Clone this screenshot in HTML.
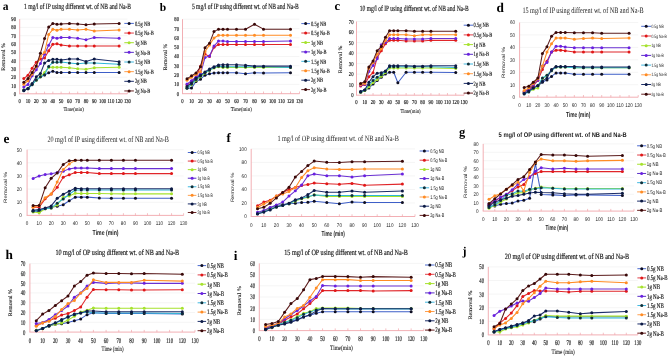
<!DOCTYPE html>
<html><head><meta charset="utf-8"><style>
html,body{margin:0;padding:0;background:#fff;width:669px;height:356px;overflow:hidden}
svg{display:block;will-change:transform}
text{text-rendering:geometricPrecision}
</style></head><body>
<svg width="669" height="356" viewBox="0 0 669 356">
<rect width="669" height="356" fill="#fff"/>
<line x1="19.7" y1="85.5" x2="127.4" y2="85.5" stroke="#F2F2F2" stroke-width="0.8"/>
<line x1="19.7" y1="77.2" x2="127.4" y2="77.2" stroke="#F2F2F2" stroke-width="0.8"/>
<line x1="19.7" y1="68.9" x2="127.4" y2="68.9" stroke="#F2F2F2" stroke-width="0.8"/>
<line x1="19.7" y1="60.6" x2="127.4" y2="60.6" stroke="#F2F2F2" stroke-width="0.8"/>
<line x1="19.7" y1="52.3" x2="127.4" y2="52.3" stroke="#F2F2F2" stroke-width="0.8"/>
<line x1="19.7" y1="44" x2="127.4" y2="44" stroke="#F2F2F2" stroke-width="0.8"/>
<line x1="19.7" y1="35.7" x2="127.4" y2="35.7" stroke="#F2F2F2" stroke-width="0.8"/>
<line x1="19.7" y1="27.4" x2="127.4" y2="27.4" stroke="#F2F2F2" stroke-width="0.8"/>
<line x1="19.7" y1="19.1" x2="127.4" y2="19.1" stroke="#F2F2F2" stroke-width="0.8"/>
<line x1="19.7" y1="19.1" x2="19.7" y2="93.8" stroke="#F0A6AC" stroke-width="0.9"/>
<line x1="19.25" y1="93.8" x2="127.4" y2="93.8" stroke="#F0A6AC" stroke-width="0.9"/>
<line x1="27.98" y1="91.6" x2="27.98" y2="93.8" stroke="#F0A6AC" stroke-width="0.7"/>
<line x1="36.27" y1="91.6" x2="36.27" y2="93.8" stroke="#F0A6AC" stroke-width="0.7"/>
<line x1="44.55" y1="91.6" x2="44.55" y2="93.8" stroke="#F0A6AC" stroke-width="0.7"/>
<line x1="52.84" y1="91.6" x2="52.84" y2="93.8" stroke="#F0A6AC" stroke-width="0.7"/>
<line x1="61.12" y1="91.6" x2="61.12" y2="93.8" stroke="#F0A6AC" stroke-width="0.7"/>
<line x1="69.41" y1="91.6" x2="69.41" y2="93.8" stroke="#F0A6AC" stroke-width="0.7"/>
<line x1="77.69" y1="91.6" x2="77.69" y2="93.8" stroke="#F0A6AC" stroke-width="0.7"/>
<line x1="85.98" y1="91.6" x2="85.98" y2="93.8" stroke="#F0A6AC" stroke-width="0.7"/>
<line x1="94.26" y1="91.6" x2="94.26" y2="93.8" stroke="#F0A6AC" stroke-width="0.7"/>
<line x1="102.55" y1="91.6" x2="102.55" y2="93.8" stroke="#F0A6AC" stroke-width="0.7"/>
<line x1="110.83" y1="91.6" x2="110.83" y2="93.8" stroke="#F0A6AC" stroke-width="0.7"/>
<line x1="119.12" y1="91.6" x2="119.12" y2="93.8" stroke="#F0A6AC" stroke-width="0.7"/>
<line x1="127.4" y1="91.6" x2="127.4" y2="93.8" stroke="#F0A6AC" stroke-width="0.7"/>
<text transform="translate(16,95.81) scale(0.7800,1)" font-family='"Liberation Serif", serif' font-weight="normal" font-size="6" text-anchor="end" fill="#1a1a1a" stroke="#1a1a1a" stroke-width="0.18">0</text>
<text transform="translate(16,87.51) scale(0.7800,1)" font-family='"Liberation Serif", serif' font-weight="normal" font-size="6" text-anchor="end" fill="#1a1a1a" stroke="#1a1a1a" stroke-width="0.18">10</text>
<text transform="translate(16,79.21) scale(0.7800,1)" font-family='"Liberation Serif", serif' font-weight="normal" font-size="6" text-anchor="end" fill="#1a1a1a" stroke="#1a1a1a" stroke-width="0.18">20</text>
<text transform="translate(16,70.91) scale(0.7800,1)" font-family='"Liberation Serif", serif' font-weight="normal" font-size="6" text-anchor="end" fill="#1a1a1a" stroke="#1a1a1a" stroke-width="0.18">30</text>
<text transform="translate(16,62.61) scale(0.7800,1)" font-family='"Liberation Serif", serif' font-weight="normal" font-size="6" text-anchor="end" fill="#1a1a1a" stroke="#1a1a1a" stroke-width="0.18">40</text>
<text transform="translate(16,54.31) scale(0.7800,1)" font-family='"Liberation Serif", serif' font-weight="normal" font-size="6" text-anchor="end" fill="#1a1a1a" stroke="#1a1a1a" stroke-width="0.18">50</text>
<text transform="translate(16,46.01) scale(0.7800,1)" font-family='"Liberation Serif", serif' font-weight="normal" font-size="6" text-anchor="end" fill="#1a1a1a" stroke="#1a1a1a" stroke-width="0.18">60</text>
<text transform="translate(16,37.71) scale(0.7800,1)" font-family='"Liberation Serif", serif' font-weight="normal" font-size="6" text-anchor="end" fill="#1a1a1a" stroke="#1a1a1a" stroke-width="0.18">70</text>
<text transform="translate(16,29.41) scale(0.7800,1)" font-family='"Liberation Serif", serif' font-weight="normal" font-size="6" text-anchor="end" fill="#1a1a1a" stroke="#1a1a1a" stroke-width="0.18">80</text>
<text transform="translate(16,21.11) scale(0.7800,1)" font-family='"Liberation Serif", serif' font-weight="normal" font-size="6" text-anchor="end" fill="#1a1a1a" stroke="#1a1a1a" stroke-width="0.18">90</text>
<text transform="translate(19.7,102.81) scale(0.7800,1)" font-family='"Liberation Serif", serif' font-weight="normal" font-size="6" text-anchor="middle" fill="#1a1a1a" stroke="#1a1a1a" stroke-width="0.18">0</text>
<text transform="translate(27.98,102.81) scale(0.7800,1)" font-family='"Liberation Serif", serif' font-weight="normal" font-size="6" text-anchor="middle" fill="#1a1a1a" stroke="#1a1a1a" stroke-width="0.18">10</text>
<text transform="translate(36.27,102.81) scale(0.7800,1)" font-family='"Liberation Serif", serif' font-weight="normal" font-size="6" text-anchor="middle" fill="#1a1a1a" stroke="#1a1a1a" stroke-width="0.18">20</text>
<text transform="translate(44.55,102.81) scale(0.7800,1)" font-family='"Liberation Serif", serif' font-weight="normal" font-size="6" text-anchor="middle" fill="#1a1a1a" stroke="#1a1a1a" stroke-width="0.18">30</text>
<text transform="translate(52.84,102.81) scale(0.7800,1)" font-family='"Liberation Serif", serif' font-weight="normal" font-size="6" text-anchor="middle" fill="#1a1a1a" stroke="#1a1a1a" stroke-width="0.18">40</text>
<text transform="translate(61.12,102.81) scale(0.7800,1)" font-family='"Liberation Serif", serif' font-weight="normal" font-size="6" text-anchor="middle" fill="#1a1a1a" stroke="#1a1a1a" stroke-width="0.18">50</text>
<text transform="translate(69.41,102.81) scale(0.7800,1)" font-family='"Liberation Serif", serif' font-weight="normal" font-size="6" text-anchor="middle" fill="#1a1a1a" stroke="#1a1a1a" stroke-width="0.18">60</text>
<text transform="translate(77.69,102.81) scale(0.7800,1)" font-family='"Liberation Serif", serif' font-weight="normal" font-size="6" text-anchor="middle" fill="#1a1a1a" stroke="#1a1a1a" stroke-width="0.18">70</text>
<text transform="translate(85.98,102.81) scale(0.7800,1)" font-family='"Liberation Serif", serif' font-weight="normal" font-size="6" text-anchor="middle" fill="#1a1a1a" stroke="#1a1a1a" stroke-width="0.18">80</text>
<text transform="translate(94.26,102.81) scale(0.7800,1)" font-family='"Liberation Serif", serif' font-weight="normal" font-size="6" text-anchor="middle" fill="#1a1a1a" stroke="#1a1a1a" stroke-width="0.18">90</text>
<text transform="translate(102.55,102.81) scale(0.7800,1)" font-family='"Liberation Serif", serif' font-weight="normal" font-size="6" text-anchor="middle" fill="#1a1a1a" stroke="#1a1a1a" stroke-width="0.18">100</text>
<text transform="translate(110.83,102.81) scale(0.7800,1)" font-family='"Liberation Serif", serif' font-weight="normal" font-size="6" text-anchor="middle" fill="#1a1a1a" stroke="#1a1a1a" stroke-width="0.18">110</text>
<text transform="translate(119.12,102.81) scale(0.7800,1)" font-family='"Liberation Serif", serif' font-weight="normal" font-size="6" text-anchor="middle" fill="#1a1a1a" stroke="#1a1a1a" stroke-width="0.18">120</text>
<text transform="translate(127.4,102.81) scale(0.7800,1)" font-family='"Liberation Serif", serif' font-weight="normal" font-size="6" text-anchor="middle" fill="#1a1a1a" stroke="#1a1a1a" stroke-width="0.18">130</text>
<text transform="translate(63.4,110.8) scale(0.8590,1)" font-family='"Liberation Serif", serif' font-weight="normal" font-size="5.5" text-anchor="start" fill="#1a1a1a" stroke="#1a1a1a" stroke-width="0.1">Time(min)</text>
<text transform="translate(5.1,70.8) rotate(-90) scale(1.0770,1)" font-family='"Liberation Serif", serif' font-weight="normal" font-size="5.5" text-anchor="start" fill="#1a1a1a" stroke="#1a1a1a" stroke-width="0.1">Removal %</text>
<text transform="translate(24,9) scale(0.6969,1)" font-family='"Liberation Serif", serif' font-weight="normal" font-size="8" text-anchor="start" fill="#1a1a1a" stroke="#1a1a1a" stroke-width="0.18">1 mg/l of IP using different wt. of NB and Na-B</text>
<text transform="translate(2.8,10) scale(1.0000,1)" font-family='"Liberation Serif", serif' font-weight="bold" font-size="11.5" text-anchor="start" fill="#000">a</text>
<polyline points="23.84,90.48 27.98,88.82 32.13,83.84 36.27,80.11 40.41,76.87 44.55,75.04 48.7,72.8 52.84,71.31 56.98,72.47 61.12,72.47 69.41,72.47 77.69,72.47 85.98,72.47 94.26,72.47 119.12,72.47" fill="none" stroke="#3E5FC8" stroke-width="1.05" stroke-linejoin="round"/>
<circle cx="23.84" cy="90.48" r="1.5" fill="#0E0E22"/>
<circle cx="27.98" cy="88.82" r="1.5" fill="#0E0E22"/>
<circle cx="32.13" cy="83.84" r="1.5" fill="#0E0E22"/>
<circle cx="36.27" cy="80.11" r="1.5" fill="#0E0E22"/>
<circle cx="40.41" cy="76.87" r="1.5" fill="#0E0E22"/>
<circle cx="44.55" cy="75.04" r="1.5" fill="#0E0E22"/>
<circle cx="48.7" cy="72.8" r="1.5" fill="#0E0E22"/>
<circle cx="52.84" cy="71.31" r="1.5" fill="#0E0E22"/>
<circle cx="56.98" cy="72.47" r="1.5" fill="#0E0E22"/>
<circle cx="61.12" cy="72.47" r="1.5" fill="#0E0E22"/>
<circle cx="69.41" cy="72.47" r="1.5" fill="#0E0E22"/>
<circle cx="77.69" cy="72.47" r="1.5" fill="#0E0E22"/>
<circle cx="85.98" cy="72.47" r="1.5" fill="#0E0E22"/>
<circle cx="94.26" cy="72.47" r="1.5" fill="#0E0E22"/>
<circle cx="119.12" cy="72.47" r="1.5" fill="#0E0E22"/>
<polyline points="23.84,78.61 27.98,75.21 32.13,68.32 36.27,62.26 40.41,58.94 44.55,58.11 48.7,50.64 52.84,44.17 56.98,43.83 61.12,45.08 69.41,46.08 77.69,46.08 85.98,46.08 94.26,46.08 119.12,46.08" fill="none" stroke="#E0262A" stroke-width="1.05" stroke-linejoin="round"/>
<circle cx="23.84" cy="78.61" r="1.5" fill="#E01818"/>
<circle cx="27.98" cy="75.21" r="1.5" fill="#E01818"/>
<circle cx="32.13" cy="68.32" r="1.5" fill="#E01818"/>
<circle cx="36.27" cy="62.26" r="1.5" fill="#E01818"/>
<circle cx="40.41" cy="58.94" r="1.5" fill="#E01818"/>
<circle cx="44.55" cy="58.11" r="1.5" fill="#E01818"/>
<circle cx="48.7" cy="50.64" r="1.5" fill="#E01818"/>
<circle cx="52.84" cy="44.17" r="1.5" fill="#E01818"/>
<circle cx="56.98" cy="43.83" r="1.5" fill="#E01818"/>
<circle cx="61.12" cy="45.08" r="1.5" fill="#E01818"/>
<circle cx="69.41" cy="46.08" r="1.5" fill="#E01818"/>
<circle cx="77.69" cy="46.08" r="1.5" fill="#E01818"/>
<circle cx="85.98" cy="46.08" r="1.5" fill="#E01818"/>
<circle cx="94.26" cy="46.08" r="1.5" fill="#E01818"/>
<circle cx="119.12" cy="46.08" r="1.5" fill="#E01818"/>
<polyline points="23.84,89.98 27.98,88.32 32.13,84.17 36.27,80.11 40.41,76.87 44.55,72.39 48.7,67.41 52.84,67.24 56.98,67.24 61.12,67.32 69.41,67.82 77.69,68.82 85.98,69.31 94.26,67.82 119.12,67.32" fill="none" stroke="#A6E22E" stroke-width="1.05" stroke-linejoin="round"/>
<circle cx="23.84" cy="89.98" r="1.5" fill="#A6E22E"/>
<circle cx="27.98" cy="88.32" r="1.5" fill="#A6E22E"/>
<circle cx="32.13" cy="84.17" r="1.5" fill="#A6E22E"/>
<circle cx="36.27" cy="80.11" r="1.5" fill="#A6E22E"/>
<circle cx="40.41" cy="76.87" r="1.5" fill="#A6E22E"/>
<circle cx="44.55" cy="72.39" r="1.5" fill="#A6E22E"/>
<circle cx="48.7" cy="67.41" r="1.5" fill="#A6E22E"/>
<circle cx="52.84" cy="67.24" r="1.5" fill="#A6E22E"/>
<circle cx="56.98" cy="67.24" r="1.5" fill="#A6E22E"/>
<circle cx="61.12" cy="67.32" r="1.5" fill="#A6E22E"/>
<circle cx="69.41" cy="67.82" r="1.5" fill="#A6E22E"/>
<circle cx="77.69" cy="68.82" r="1.5" fill="#A6E22E"/>
<circle cx="85.98" cy="69.31" r="1.5" fill="#A6E22E"/>
<circle cx="94.26" cy="67.82" r="1.5" fill="#A6E22E"/>
<circle cx="119.12" cy="67.32" r="1.5" fill="#A6E22E"/>
<polyline points="23.84,86.99 27.98,84.42 32.13,75.79 36.27,69.73 40.41,63.42 44.55,54.29 48.7,45.25 52.84,37.53 56.98,38.36 61.12,37.53 69.41,37.53 77.69,38.19 85.98,39.68 94.26,37.53 119.12,38.19" fill="none" stroke="#6A30D2" stroke-width="1.05" stroke-linejoin="round"/>
<circle cx="23.84" cy="86.99" r="1.5" fill="#6A20E0"/>
<circle cx="27.98" cy="84.42" r="1.5" fill="#6A20E0"/>
<circle cx="32.13" cy="75.79" r="1.5" fill="#6A20E0"/>
<circle cx="36.27" cy="69.73" r="1.5" fill="#6A20E0"/>
<circle cx="40.41" cy="63.42" r="1.5" fill="#6A20E0"/>
<circle cx="44.55" cy="54.29" r="1.5" fill="#6A20E0"/>
<circle cx="48.7" cy="45.25" r="1.5" fill="#6A20E0"/>
<circle cx="52.84" cy="37.53" r="1.5" fill="#6A20E0"/>
<circle cx="56.98" cy="38.36" r="1.5" fill="#6A20E0"/>
<circle cx="61.12" cy="37.53" r="1.5" fill="#6A20E0"/>
<circle cx="69.41" cy="37.53" r="1.5" fill="#6A20E0"/>
<circle cx="77.69" cy="38.19" r="1.5" fill="#6A20E0"/>
<circle cx="85.98" cy="39.68" r="1.5" fill="#6A20E0"/>
<circle cx="94.26" cy="37.53" r="1.5" fill="#6A20E0"/>
<circle cx="119.12" cy="38.19" r="1.5" fill="#6A20E0"/>
<polyline points="23.84,89.98 27.98,88.82 32.13,84.67 36.27,80.11 40.41,76.87 44.55,74.71 48.7,66.41 52.84,62.26 56.98,62.26 61.12,61.93 69.41,62.92 77.69,63.84 85.98,62.92 94.26,62.92 119.12,64.34" fill="none" stroke="#2EB6D6" stroke-width="1.05" stroke-linejoin="round"/>
<circle cx="23.84" cy="89.98" r="1.5" fill="#10303A"/>
<circle cx="27.98" cy="88.82" r="1.5" fill="#10303A"/>
<circle cx="32.13" cy="84.67" r="1.5" fill="#10303A"/>
<circle cx="36.27" cy="80.11" r="1.5" fill="#10303A"/>
<circle cx="40.41" cy="76.87" r="1.5" fill="#10303A"/>
<circle cx="44.55" cy="74.71" r="1.5" fill="#10303A"/>
<circle cx="48.7" cy="66.41" r="1.5" fill="#10303A"/>
<circle cx="52.84" cy="62.26" r="1.5" fill="#10303A"/>
<circle cx="56.98" cy="62.26" r="1.5" fill="#10303A"/>
<circle cx="61.12" cy="61.93" r="1.5" fill="#10303A"/>
<circle cx="69.41" cy="62.92" r="1.5" fill="#10303A"/>
<circle cx="77.69" cy="63.84" r="1.5" fill="#10303A"/>
<circle cx="85.98" cy="62.92" r="1.5" fill="#10303A"/>
<circle cx="94.26" cy="62.92" r="1.5" fill="#10303A"/>
<circle cx="119.12" cy="64.34" r="1.5" fill="#10303A"/>
<polyline points="23.84,84.17 27.98,80.77 32.13,73.88 36.27,66.41 40.41,56.45 44.55,52.3 48.7,34.46 52.84,29.31 56.98,30.22 61.12,29.31 69.41,29.31 77.69,29.97 85.98,29.31 94.26,30.97 119.12,29.97" fill="none" stroke="#FF8C24" stroke-width="1.05" stroke-linejoin="round"/>
<circle cx="23.84" cy="84.17" r="1.5" fill="#FF8C24"/>
<circle cx="27.98" cy="80.77" r="1.5" fill="#FF8C24"/>
<circle cx="32.13" cy="73.88" r="1.5" fill="#FF8C24"/>
<circle cx="36.27" cy="66.41" r="1.5" fill="#FF8C24"/>
<circle cx="40.41" cy="56.45" r="1.5" fill="#FF8C24"/>
<circle cx="44.55" cy="52.3" r="1.5" fill="#FF8C24"/>
<circle cx="48.7" cy="34.46" r="1.5" fill="#FF8C24"/>
<circle cx="52.84" cy="29.31" r="1.5" fill="#FF8C24"/>
<circle cx="56.98" cy="30.22" r="1.5" fill="#FF8C24"/>
<circle cx="61.12" cy="29.31" r="1.5" fill="#FF8C24"/>
<circle cx="69.41" cy="29.31" r="1.5" fill="#FF8C24"/>
<circle cx="77.69" cy="29.97" r="1.5" fill="#FF8C24"/>
<circle cx="85.98" cy="29.31" r="1.5" fill="#FF8C24"/>
<circle cx="94.26" cy="30.97" r="1.5" fill="#FF8C24"/>
<circle cx="119.12" cy="29.97" r="1.5" fill="#FF8C24"/>
<polyline points="23.84,90.73 27.98,88.49 32.13,83.67 36.27,76.87 40.41,73.47 44.55,63.09 48.7,60.43 52.84,59.27 56.98,59.27 61.12,59.94 69.41,58.94 77.69,58.94 85.98,61.43 94.26,58.94 119.12,61.68" fill="none" stroke="#1E2F6A" stroke-width="1.05" stroke-linejoin="round"/>
<circle cx="23.84" cy="90.73" r="1.5" fill="#0C1A44"/>
<circle cx="27.98" cy="88.49" r="1.5" fill="#0C1A44"/>
<circle cx="32.13" cy="83.67" r="1.5" fill="#0C1A44"/>
<circle cx="36.27" cy="76.87" r="1.5" fill="#0C1A44"/>
<circle cx="40.41" cy="73.47" r="1.5" fill="#0C1A44"/>
<circle cx="44.55" cy="63.09" r="1.5" fill="#0C1A44"/>
<circle cx="48.7" cy="60.43" r="1.5" fill="#0C1A44"/>
<circle cx="52.84" cy="59.27" r="1.5" fill="#0C1A44"/>
<circle cx="56.98" cy="59.27" r="1.5" fill="#0C1A44"/>
<circle cx="61.12" cy="59.94" r="1.5" fill="#0C1A44"/>
<circle cx="69.41" cy="58.94" r="1.5" fill="#0C1A44"/>
<circle cx="77.69" cy="58.94" r="1.5" fill="#0C1A44"/>
<circle cx="85.98" cy="61.43" r="1.5" fill="#0C1A44"/>
<circle cx="94.26" cy="58.94" r="1.5" fill="#0C1A44"/>
<circle cx="119.12" cy="61.68" r="1.5" fill="#0C1A44"/>
<polyline points="23.84,82.18 27.98,78.61 32.13,72.39 36.27,66 40.41,53.13 44.55,38.61 48.7,26.99 52.84,23.58 56.98,24.25 61.12,24.08 69.41,23.42 77.69,24.08 85.98,24.66 94.26,24.08 119.12,23.42" fill="none" stroke="#5C1C1C" stroke-width="1.05" stroke-linejoin="round"/>
<circle cx="23.84" cy="82.18" r="1.5" fill="#380808"/>
<circle cx="27.98" cy="78.61" r="1.5" fill="#380808"/>
<circle cx="32.13" cy="72.39" r="1.5" fill="#380808"/>
<circle cx="36.27" cy="66" r="1.5" fill="#380808"/>
<circle cx="40.41" cy="53.13" r="1.5" fill="#380808"/>
<circle cx="44.55" cy="38.61" r="1.5" fill="#380808"/>
<circle cx="48.7" cy="26.99" r="1.5" fill="#380808"/>
<circle cx="52.84" cy="23.58" r="1.5" fill="#380808"/>
<circle cx="56.98" cy="24.25" r="1.5" fill="#380808"/>
<circle cx="61.12" cy="24.08" r="1.5" fill="#380808"/>
<circle cx="69.41" cy="23.42" r="1.5" fill="#380808"/>
<circle cx="77.69" cy="24.08" r="1.5" fill="#380808"/>
<circle cx="85.98" cy="24.66" r="1.5" fill="#380808"/>
<circle cx="94.26" cy="24.08" r="1.5" fill="#380808"/>
<circle cx="119.12" cy="23.42" r="1.5" fill="#380808"/>
<line x1="124.3" y1="23.4" x2="133.9" y2="23.4" stroke="#4A6ACF" stroke-width="1"/>
<circle cx="129.1" cy="23.4" r="1.5" fill="#0E0E22"/>
<text transform="translate(135,25.58) scale(0.6900,1)" font-family='"Liberation Serif", serif' font-weight="normal" font-size="6.5" text-anchor="start" fill="#1a1a1a" stroke="#1a1a1a" stroke-width="0.18">0.5g NB</text>
<line x1="124.3" y1="33.05" x2="133.9" y2="33.05" stroke="#E0404A" stroke-width="1"/>
<circle cx="129.1" cy="33.05" r="1.5" fill="#E01818"/>
<text transform="translate(135,35.23) scale(0.6900,1)" font-family='"Liberation Serif", serif' font-weight="normal" font-size="6.5" text-anchor="start" fill="#1a1a1a" stroke="#1a1a1a" stroke-width="0.18">0.5g Na-B</text>
<line x1="124.3" y1="42.7" x2="133.9" y2="42.7" stroke="#A6E22E" stroke-width="1"/>
<circle cx="129.1" cy="42.7" r="1.5" fill="#A6E22E"/>
<text transform="translate(135,44.88) scale(0.6900,1)" font-family='"Liberation Serif", serif' font-weight="normal" font-size="6.5" text-anchor="start" fill="#1a1a1a" stroke="#1a1a1a" stroke-width="0.18">1g NB</text>
<line x1="124.3" y1="52.35" x2="133.9" y2="52.35" stroke="#5A30C8" stroke-width="1"/>
<circle cx="129.1" cy="52.35" r="1.5" fill="#6A20E0"/>
<text transform="translate(135,54.53) scale(0.6900,1)" font-family='"Liberation Serif", serif' font-weight="normal" font-size="6.5" text-anchor="start" fill="#1a1a1a" stroke="#1a1a1a" stroke-width="0.18">1g Na-B</text>
<line x1="124.3" y1="62" x2="133.9" y2="62" stroke="#40B8E0" stroke-width="1"/>
<circle cx="129.1" cy="62" r="1.5" fill="#10303A"/>
<text transform="translate(135,64.18) scale(0.6900,1)" font-family='"Liberation Serif", serif' font-weight="normal" font-size="6.5" text-anchor="start" fill="#1a1a1a" stroke="#1a1a1a" stroke-width="0.18">1.5g NB</text>
<line x1="124.3" y1="71.65" x2="133.9" y2="71.65" stroke="#FFA050" stroke-width="1"/>
<circle cx="129.1" cy="71.65" r="1.5" fill="#FF8C24"/>
<text transform="translate(135,73.83) scale(0.6900,1)" font-family='"Liberation Serif", serif' font-weight="normal" font-size="6.5" text-anchor="start" fill="#1a1a1a" stroke="#1a1a1a" stroke-width="0.18">1.5g Na-B</text>
<line x1="124.3" y1="81.3" x2="133.9" y2="81.3" stroke="#1E2F6A" stroke-width="1"/>
<circle cx="129.1" cy="81.3" r="1.5" fill="#0C1A44"/>
<text transform="translate(135,83.48) scale(0.6900,1)" font-family='"Liberation Serif", serif' font-weight="normal" font-size="6.5" text-anchor="start" fill="#1a1a1a" stroke="#1a1a1a" stroke-width="0.18">2g NB</text>
<line x1="124.3" y1="90.95" x2="133.9" y2="90.95" stroke="#6A2424" stroke-width="1"/>
<circle cx="129.1" cy="90.95" r="1.5" fill="#380808"/>
<text transform="translate(135,93.13) scale(0.6900,1)" font-family='"Liberation Serif", serif' font-weight="normal" font-size="6.5" text-anchor="start" fill="#1a1a1a" stroke="#1a1a1a" stroke-width="0.18">2g Na-B</text>
<line x1="182.5" y1="84.39" x2="299.5" y2="84.39" stroke="#F2F2F2" stroke-width="0.8"/>
<line x1="182.5" y1="75.08" x2="299.5" y2="75.08" stroke="#F2F2F2" stroke-width="0.8"/>
<line x1="182.5" y1="65.76" x2="299.5" y2="65.76" stroke="#F2F2F2" stroke-width="0.8"/>
<line x1="182.5" y1="56.45" x2="299.5" y2="56.45" stroke="#F2F2F2" stroke-width="0.8"/>
<line x1="182.5" y1="47.14" x2="299.5" y2="47.14" stroke="#F2F2F2" stroke-width="0.8"/>
<line x1="182.5" y1="37.83" x2="299.5" y2="37.83" stroke="#F2F2F2" stroke-width="0.8"/>
<line x1="182.5" y1="28.51" x2="299.5" y2="28.51" stroke="#F2F2F2" stroke-width="0.8"/>
<line x1="182.5" y1="19.2" x2="299.5" y2="19.2" stroke="#F2F2F2" stroke-width="0.8"/>
<line x1="182.5" y1="19.2" x2="182.5" y2="93.7" stroke="#F0A6AC" stroke-width="0.9"/>
<line x1="182.05" y1="93.7" x2="299.5" y2="93.7" stroke="#F0A6AC" stroke-width="0.9"/>
<line x1="191.5" y1="91.5" x2="191.5" y2="93.7" stroke="#F0A6AC" stroke-width="0.7"/>
<line x1="200.5" y1="91.5" x2="200.5" y2="93.7" stroke="#F0A6AC" stroke-width="0.7"/>
<line x1="209.5" y1="91.5" x2="209.5" y2="93.7" stroke="#F0A6AC" stroke-width="0.7"/>
<line x1="218.5" y1="91.5" x2="218.5" y2="93.7" stroke="#F0A6AC" stroke-width="0.7"/>
<line x1="227.5" y1="91.5" x2="227.5" y2="93.7" stroke="#F0A6AC" stroke-width="0.7"/>
<line x1="236.5" y1="91.5" x2="236.5" y2="93.7" stroke="#F0A6AC" stroke-width="0.7"/>
<line x1="245.5" y1="91.5" x2="245.5" y2="93.7" stroke="#F0A6AC" stroke-width="0.7"/>
<line x1="254.5" y1="91.5" x2="254.5" y2="93.7" stroke="#F0A6AC" stroke-width="0.7"/>
<line x1="263.5" y1="91.5" x2="263.5" y2="93.7" stroke="#F0A6AC" stroke-width="0.7"/>
<line x1="272.5" y1="91.5" x2="272.5" y2="93.7" stroke="#F0A6AC" stroke-width="0.7"/>
<line x1="281.5" y1="91.5" x2="281.5" y2="93.7" stroke="#F0A6AC" stroke-width="0.7"/>
<line x1="290.5" y1="91.5" x2="290.5" y2="93.7" stroke="#F0A6AC" stroke-width="0.7"/>
<line x1="299.5" y1="91.5" x2="299.5" y2="93.7" stroke="#F0A6AC" stroke-width="0.7"/>
<text transform="translate(179,95.71) scale(0.7800,1)" font-family='"Liberation Serif", serif' font-weight="normal" font-size="6" text-anchor="end" fill="#1a1a1a" stroke="#1a1a1a" stroke-width="0.18">0</text>
<text transform="translate(179,86.4) scale(0.7800,1)" font-family='"Liberation Serif", serif' font-weight="normal" font-size="6" text-anchor="end" fill="#1a1a1a" stroke="#1a1a1a" stroke-width="0.18">10</text>
<text transform="translate(179,77.09) scale(0.7800,1)" font-family='"Liberation Serif", serif' font-weight="normal" font-size="6" text-anchor="end" fill="#1a1a1a" stroke="#1a1a1a" stroke-width="0.18">20</text>
<text transform="translate(179,67.77) scale(0.7800,1)" font-family='"Liberation Serif", serif' font-weight="normal" font-size="6" text-anchor="end" fill="#1a1a1a" stroke="#1a1a1a" stroke-width="0.18">30</text>
<text transform="translate(179,58.46) scale(0.7800,1)" font-family='"Liberation Serif", serif' font-weight="normal" font-size="6" text-anchor="end" fill="#1a1a1a" stroke="#1a1a1a" stroke-width="0.18">40</text>
<text transform="translate(179,49.15) scale(0.7800,1)" font-family='"Liberation Serif", serif' font-weight="normal" font-size="6" text-anchor="end" fill="#1a1a1a" stroke="#1a1a1a" stroke-width="0.18">50</text>
<text transform="translate(179,39.84) scale(0.7800,1)" font-family='"Liberation Serif", serif' font-weight="normal" font-size="6" text-anchor="end" fill="#1a1a1a" stroke="#1a1a1a" stroke-width="0.18">60</text>
<text transform="translate(179,30.52) scale(0.7800,1)" font-family='"Liberation Serif", serif' font-weight="normal" font-size="6" text-anchor="end" fill="#1a1a1a" stroke="#1a1a1a" stroke-width="0.18">70</text>
<text transform="translate(179,21.21) scale(0.7800,1)" font-family='"Liberation Serif", serif' font-weight="normal" font-size="6" text-anchor="end" fill="#1a1a1a" stroke="#1a1a1a" stroke-width="0.18">80</text>
<text transform="translate(182.5,103.21) scale(0.7800,1)" font-family='"Liberation Serif", serif' font-weight="normal" font-size="6" text-anchor="middle" fill="#1a1a1a" stroke="#1a1a1a" stroke-width="0.18">0</text>
<text transform="translate(191.5,103.21) scale(0.7800,1)" font-family='"Liberation Serif", serif' font-weight="normal" font-size="6" text-anchor="middle" fill="#1a1a1a" stroke="#1a1a1a" stroke-width="0.18">10</text>
<text transform="translate(200.5,103.21) scale(0.7800,1)" font-family='"Liberation Serif", serif' font-weight="normal" font-size="6" text-anchor="middle" fill="#1a1a1a" stroke="#1a1a1a" stroke-width="0.18">20</text>
<text transform="translate(209.5,103.21) scale(0.7800,1)" font-family='"Liberation Serif", serif' font-weight="normal" font-size="6" text-anchor="middle" fill="#1a1a1a" stroke="#1a1a1a" stroke-width="0.18">30</text>
<text transform="translate(218.5,103.21) scale(0.7800,1)" font-family='"Liberation Serif", serif' font-weight="normal" font-size="6" text-anchor="middle" fill="#1a1a1a" stroke="#1a1a1a" stroke-width="0.18">40</text>
<text transform="translate(227.5,103.21) scale(0.7800,1)" font-family='"Liberation Serif", serif' font-weight="normal" font-size="6" text-anchor="middle" fill="#1a1a1a" stroke="#1a1a1a" stroke-width="0.18">50</text>
<text transform="translate(236.5,103.21) scale(0.7800,1)" font-family='"Liberation Serif", serif' font-weight="normal" font-size="6" text-anchor="middle" fill="#1a1a1a" stroke="#1a1a1a" stroke-width="0.18">60</text>
<text transform="translate(245.5,103.21) scale(0.7800,1)" font-family='"Liberation Serif", serif' font-weight="normal" font-size="6" text-anchor="middle" fill="#1a1a1a" stroke="#1a1a1a" stroke-width="0.18">70</text>
<text transform="translate(254.5,103.21) scale(0.7800,1)" font-family='"Liberation Serif", serif' font-weight="normal" font-size="6" text-anchor="middle" fill="#1a1a1a" stroke="#1a1a1a" stroke-width="0.18">80</text>
<text transform="translate(263.5,103.21) scale(0.7800,1)" font-family='"Liberation Serif", serif' font-weight="normal" font-size="6" text-anchor="middle" fill="#1a1a1a" stroke="#1a1a1a" stroke-width="0.18">90</text>
<text transform="translate(272.5,103.21) scale(0.7800,1)" font-family='"Liberation Serif", serif' font-weight="normal" font-size="6" text-anchor="middle" fill="#1a1a1a" stroke="#1a1a1a" stroke-width="0.18">100</text>
<text transform="translate(281.5,103.21) scale(0.7800,1)" font-family='"Liberation Serif", serif' font-weight="normal" font-size="6" text-anchor="middle" fill="#1a1a1a" stroke="#1a1a1a" stroke-width="0.18">110</text>
<text transform="translate(290.5,103.21) scale(0.7800,1)" font-family='"Liberation Serif", serif' font-weight="normal" font-size="6" text-anchor="middle" fill="#1a1a1a" stroke="#1a1a1a" stroke-width="0.18">120</text>
<text transform="translate(299.5,103.21) scale(0.7800,1)" font-family='"Liberation Serif", serif' font-weight="normal" font-size="6" text-anchor="middle" fill="#1a1a1a" stroke="#1a1a1a" stroke-width="0.18">130</text>
<text transform="translate(230.8,110.7) scale(0.8727,1)" font-family='"Liberation Serif", serif' font-weight="normal" font-size="5.6" text-anchor="start" fill="#1a1a1a" stroke="#1a1a1a" stroke-width="0.1">Time(min)</text>
<text transform="translate(167.1,70.3) rotate(-90) scale(1.0266,1)" font-family='"Liberation Serif", serif' font-weight="normal" font-size="5.5" text-anchor="start" fill="#1a1a1a" stroke="#1a1a1a" stroke-width="0.1">Removal %</text>
<text transform="translate(191.9,9) scale(0.6962,1)" font-family='"Liberation Serif", serif' font-weight="normal" font-size="8" text-anchor="start" fill="#1a1a1a" stroke="#1a1a1a" stroke-width="0.18">5 mg/l of IP using different wt. of NB and Na-B</text>
<text transform="translate(159.8,11) scale(1.0000,1)" font-family='"Liberation Serif", serif' font-weight="bold" font-size="11.5" text-anchor="start" fill="#000">b</text>
<polyline points="187,88.11 191.5,88.11 196,81.41 200.5,79.17 205,75.17 209.5,73.86 214,73.03 218.5,72.75 223,72.75 227.5,72.75 236.5,72.75 245.5,73.77 254.5,72.75 263.5,73.03 290.5,72.75" fill="none" stroke="#3E5FC8" stroke-width="1.05" stroke-linejoin="round"/>
<circle cx="187" cy="88.11" r="1.5" fill="#0E0E22"/>
<circle cx="191.5" cy="88.11" r="1.5" fill="#0E0E22"/>
<circle cx="196" cy="81.41" r="1.5" fill="#0E0E22"/>
<circle cx="200.5" cy="79.17" r="1.5" fill="#0E0E22"/>
<circle cx="205" cy="75.17" r="1.5" fill="#0E0E22"/>
<circle cx="209.5" cy="73.86" r="1.5" fill="#0E0E22"/>
<circle cx="214" cy="73.03" r="1.5" fill="#0E0E22"/>
<circle cx="218.5" cy="72.75" r="1.5" fill="#0E0E22"/>
<circle cx="223" cy="72.75" r="1.5" fill="#0E0E22"/>
<circle cx="227.5" cy="72.75" r="1.5" fill="#0E0E22"/>
<circle cx="236.5" cy="72.75" r="1.5" fill="#0E0E22"/>
<circle cx="245.5" cy="73.77" r="1.5" fill="#0E0E22"/>
<circle cx="254.5" cy="72.75" r="1.5" fill="#0E0E22"/>
<circle cx="263.5" cy="73.03" r="1.5" fill="#0E0E22"/>
<circle cx="290.5" cy="72.75" r="1.5" fill="#0E0E22"/>
<polyline points="187,84.85 191.5,81.31 196,77.22 200.5,66.23 205,54.12 209.5,56.45 214,47.23 218.5,44.53 223,44.53 227.5,44.53 236.5,44.53 245.5,44.53 254.5,44.53 263.5,44.53 290.5,44.53" fill="none" stroke="#E0262A" stroke-width="1.05" stroke-linejoin="round"/>
<circle cx="187" cy="84.85" r="1.5" fill="#E01818"/>
<circle cx="191.5" cy="81.31" r="1.5" fill="#E01818"/>
<circle cx="196" cy="77.22" r="1.5" fill="#E01818"/>
<circle cx="200.5" cy="66.23" r="1.5" fill="#E01818"/>
<circle cx="205" cy="54.12" r="1.5" fill="#E01818"/>
<circle cx="209.5" cy="56.45" r="1.5" fill="#E01818"/>
<circle cx="214" cy="47.23" r="1.5" fill="#E01818"/>
<circle cx="218.5" cy="44.53" r="1.5" fill="#E01818"/>
<circle cx="223" cy="44.53" r="1.5" fill="#E01818"/>
<circle cx="227.5" cy="44.53" r="1.5" fill="#E01818"/>
<circle cx="236.5" cy="44.53" r="1.5" fill="#E01818"/>
<circle cx="245.5" cy="44.53" r="1.5" fill="#E01818"/>
<circle cx="254.5" cy="44.53" r="1.5" fill="#E01818"/>
<circle cx="263.5" cy="44.53" r="1.5" fill="#E01818"/>
<circle cx="290.5" cy="44.53" r="1.5" fill="#E01818"/>
<polyline points="187,87.55 191.5,84.85 196,80.2 200.5,76.75 205,73.03 209.5,70.33 214,68 218.5,66.79 223,67.53 227.5,67.53 236.5,67.53 245.5,67.53 254.5,67.53 263.5,67.53 290.5,67.53" fill="none" stroke="#A6E22E" stroke-width="1.05" stroke-linejoin="round"/>
<circle cx="187" cy="87.55" r="1.5" fill="#A6E22E"/>
<circle cx="191.5" cy="84.85" r="1.5" fill="#A6E22E"/>
<circle cx="196" cy="80.2" r="1.5" fill="#A6E22E"/>
<circle cx="200.5" cy="76.75" r="1.5" fill="#A6E22E"/>
<circle cx="205" cy="73.03" r="1.5" fill="#A6E22E"/>
<circle cx="209.5" cy="70.33" r="1.5" fill="#A6E22E"/>
<circle cx="214" cy="68" r="1.5" fill="#A6E22E"/>
<circle cx="218.5" cy="66.79" r="1.5" fill="#A6E22E"/>
<circle cx="223" cy="67.53" r="1.5" fill="#A6E22E"/>
<circle cx="227.5" cy="67.53" r="1.5" fill="#A6E22E"/>
<circle cx="236.5" cy="67.53" r="1.5" fill="#A6E22E"/>
<circle cx="245.5" cy="67.53" r="1.5" fill="#A6E22E"/>
<circle cx="254.5" cy="67.53" r="1.5" fill="#A6E22E"/>
<circle cx="263.5" cy="67.53" r="1.5" fill="#A6E22E"/>
<circle cx="290.5" cy="67.53" r="1.5" fill="#A6E22E"/>
<polyline points="187,84.11 191.5,80.66 196,77.22 200.5,73.77 205,57.57 209.5,55.98 214,46.11 218.5,40.99 223,40.99 227.5,41.55 236.5,41.55 245.5,41.55 254.5,41.55 263.5,41.55 290.5,40.99" fill="none" stroke="#6A30D2" stroke-width="1.05" stroke-linejoin="round"/>
<circle cx="187" cy="84.11" r="1.5" fill="#6A20E0"/>
<circle cx="191.5" cy="80.66" r="1.5" fill="#6A20E0"/>
<circle cx="196" cy="77.22" r="1.5" fill="#6A20E0"/>
<circle cx="200.5" cy="73.77" r="1.5" fill="#6A20E0"/>
<circle cx="205" cy="57.57" r="1.5" fill="#6A20E0"/>
<circle cx="209.5" cy="55.98" r="1.5" fill="#6A20E0"/>
<circle cx="214" cy="46.11" r="1.5" fill="#6A20E0"/>
<circle cx="218.5" cy="40.99" r="1.5" fill="#6A20E0"/>
<circle cx="223" cy="40.99" r="1.5" fill="#6A20E0"/>
<circle cx="227.5" cy="41.55" r="1.5" fill="#6A20E0"/>
<circle cx="236.5" cy="41.55" r="1.5" fill="#6A20E0"/>
<circle cx="245.5" cy="41.55" r="1.5" fill="#6A20E0"/>
<circle cx="254.5" cy="41.55" r="1.5" fill="#6A20E0"/>
<circle cx="263.5" cy="41.55" r="1.5" fill="#6A20E0"/>
<circle cx="290.5" cy="40.99" r="1.5" fill="#6A20E0"/>
<polyline points="187,88.3 191.5,84.11 196,79.55 200.5,76.01 205,72.56 209.5,70.33 214,67.53 218.5,66.14 223,66.79 227.5,66.79 236.5,66.79 245.5,66.79 254.5,66.79 263.5,66.79 290.5,67.53" fill="none" stroke="#2EB6D6" stroke-width="1.05" stroke-linejoin="round"/>
<circle cx="187" cy="88.3" r="1.5" fill="#10303A"/>
<circle cx="191.5" cy="84.11" r="1.5" fill="#10303A"/>
<circle cx="196" cy="79.55" r="1.5" fill="#10303A"/>
<circle cx="200.5" cy="76.01" r="1.5" fill="#10303A"/>
<circle cx="205" cy="72.56" r="1.5" fill="#10303A"/>
<circle cx="209.5" cy="70.33" r="1.5" fill="#10303A"/>
<circle cx="214" cy="67.53" r="1.5" fill="#10303A"/>
<circle cx="218.5" cy="66.14" r="1.5" fill="#10303A"/>
<circle cx="223" cy="66.79" r="1.5" fill="#10303A"/>
<circle cx="227.5" cy="66.79" r="1.5" fill="#10303A"/>
<circle cx="236.5" cy="66.79" r="1.5" fill="#10303A"/>
<circle cx="245.5" cy="66.79" r="1.5" fill="#10303A"/>
<circle cx="254.5" cy="66.79" r="1.5" fill="#10303A"/>
<circle cx="263.5" cy="66.79" r="1.5" fill="#10303A"/>
<circle cx="290.5" cy="67.53" r="1.5" fill="#10303A"/>
<polyline points="187,80.2 191.5,77.22 196,74.42 200.5,71.63 205,51.79 209.5,44.9 214,38.01 218.5,35.22 223,35.22 227.5,35.22 236.5,35.22 245.5,35.22 254.5,35.22 263.5,35.22 290.5,35.22" fill="none" stroke="#FF8C24" stroke-width="1.05" stroke-linejoin="round"/>
<circle cx="187" cy="80.2" r="1.5" fill="#FF8C24"/>
<circle cx="191.5" cy="77.22" r="1.5" fill="#FF8C24"/>
<circle cx="196" cy="74.42" r="1.5" fill="#FF8C24"/>
<circle cx="200.5" cy="71.63" r="1.5" fill="#FF8C24"/>
<circle cx="205" cy="51.79" r="1.5" fill="#FF8C24"/>
<circle cx="209.5" cy="44.9" r="1.5" fill="#FF8C24"/>
<circle cx="214" cy="38.01" r="1.5" fill="#FF8C24"/>
<circle cx="218.5" cy="35.22" r="1.5" fill="#FF8C24"/>
<circle cx="223" cy="35.22" r="1.5" fill="#FF8C24"/>
<circle cx="227.5" cy="35.22" r="1.5" fill="#FF8C24"/>
<circle cx="236.5" cy="35.22" r="1.5" fill="#FF8C24"/>
<circle cx="245.5" cy="35.22" r="1.5" fill="#FF8C24"/>
<circle cx="254.5" cy="35.22" r="1.5" fill="#FF8C24"/>
<circle cx="263.5" cy="35.22" r="1.5" fill="#FF8C24"/>
<circle cx="290.5" cy="35.22" r="1.5" fill="#FF8C24"/>
<polyline points="187,86.44 191.5,82.99 196,78.33 200.5,75.35 205,71.91 209.5,69.02 214,66.79 218.5,64.92 223,64.74 227.5,64.74 236.5,64.74 245.5,65.2 254.5,66.14 263.5,66.14 290.5,66.14" fill="none" stroke="#1E2F6A" stroke-width="1.05" stroke-linejoin="round"/>
<circle cx="187" cy="86.44" r="1.5" fill="#0C1A44"/>
<circle cx="191.5" cy="82.99" r="1.5" fill="#0C1A44"/>
<circle cx="196" cy="78.33" r="1.5" fill="#0C1A44"/>
<circle cx="200.5" cy="75.35" r="1.5" fill="#0C1A44"/>
<circle cx="205" cy="71.91" r="1.5" fill="#0C1A44"/>
<circle cx="209.5" cy="69.02" r="1.5" fill="#0C1A44"/>
<circle cx="214" cy="66.79" r="1.5" fill="#0C1A44"/>
<circle cx="218.5" cy="64.92" r="1.5" fill="#0C1A44"/>
<circle cx="223" cy="64.74" r="1.5" fill="#0C1A44"/>
<circle cx="227.5" cy="64.74" r="1.5" fill="#0C1A44"/>
<circle cx="236.5" cy="64.74" r="1.5" fill="#0C1A44"/>
<circle cx="245.5" cy="65.2" r="1.5" fill="#0C1A44"/>
<circle cx="254.5" cy="66.14" r="1.5" fill="#0C1A44"/>
<circle cx="263.5" cy="66.14" r="1.5" fill="#0C1A44"/>
<circle cx="290.5" cy="66.14" r="1.5" fill="#0C1A44"/>
<polyline points="187,78.71 191.5,75.82 196,73.03 200.5,66.79 205,47.7 209.5,43.13 214,31.59 218.5,29.16 223,29.16 227.5,29.16 236.5,29.16 245.5,29.26 254.5,24.32 263.5,29.16 290.5,29.26" fill="none" stroke="#5C1C1C" stroke-width="1.05" stroke-linejoin="round"/>
<circle cx="187" cy="78.71" r="1.5" fill="#380808"/>
<circle cx="191.5" cy="75.82" r="1.5" fill="#380808"/>
<circle cx="196" cy="73.03" r="1.5" fill="#380808"/>
<circle cx="200.5" cy="66.79" r="1.5" fill="#380808"/>
<circle cx="205" cy="47.7" r="1.5" fill="#380808"/>
<circle cx="209.5" cy="43.13" r="1.5" fill="#380808"/>
<circle cx="214" cy="31.59" r="1.5" fill="#380808"/>
<circle cx="218.5" cy="29.16" r="1.5" fill="#380808"/>
<circle cx="223" cy="29.16" r="1.5" fill="#380808"/>
<circle cx="227.5" cy="29.16" r="1.5" fill="#380808"/>
<circle cx="236.5" cy="29.16" r="1.5" fill="#380808"/>
<circle cx="245.5" cy="29.26" r="1.5" fill="#380808"/>
<circle cx="254.5" cy="24.32" r="1.5" fill="#380808"/>
<circle cx="263.5" cy="29.16" r="1.5" fill="#380808"/>
<circle cx="290.5" cy="29.26" r="1.5" fill="#380808"/>
<line x1="301.3" y1="23.6" x2="310" y2="23.6" stroke="#4A6ACF" stroke-width="1"/>
<circle cx="305.65" cy="23.6" r="1.5" fill="#0E0E22"/>
<text transform="translate(311.1,25.78) scale(0.6900,1)" font-family='"Liberation Serif", serif' font-weight="normal" font-size="6.5" text-anchor="start" fill="#1a1a1a" stroke="#1a1a1a" stroke-width="0.18">0.5g NB</text>
<line x1="301.3" y1="33.03" x2="310" y2="33.03" stroke="#E0404A" stroke-width="1"/>
<circle cx="305.65" cy="33.03" r="1.5" fill="#E01818"/>
<text transform="translate(311.1,35.21) scale(0.6900,1)" font-family='"Liberation Serif", serif' font-weight="normal" font-size="6.5" text-anchor="start" fill="#1a1a1a" stroke="#1a1a1a" stroke-width="0.18">0.5g Na-B</text>
<line x1="301.3" y1="42.46" x2="310" y2="42.46" stroke="#A6E22E" stroke-width="1"/>
<circle cx="305.65" cy="42.46" r="1.5" fill="#A6E22E"/>
<text transform="translate(311.1,44.64) scale(0.6900,1)" font-family='"Liberation Serif", serif' font-weight="normal" font-size="6.5" text-anchor="start" fill="#1a1a1a" stroke="#1a1a1a" stroke-width="0.18">1g NB</text>
<line x1="301.3" y1="51.89" x2="310" y2="51.89" stroke="#5A30C8" stroke-width="1"/>
<circle cx="305.65" cy="51.89" r="1.5" fill="#6A20E0"/>
<text transform="translate(311.1,54.07) scale(0.6900,1)" font-family='"Liberation Serif", serif' font-weight="normal" font-size="6.5" text-anchor="start" fill="#1a1a1a" stroke="#1a1a1a" stroke-width="0.18">1g Na-B</text>
<line x1="301.3" y1="61.32" x2="310" y2="61.32" stroke="#40B8E0" stroke-width="1"/>
<circle cx="305.65" cy="61.32" r="1.5" fill="#10303A"/>
<text transform="translate(311.1,63.5) scale(0.6900,1)" font-family='"Liberation Serif", serif' font-weight="normal" font-size="6.5" text-anchor="start" fill="#1a1a1a" stroke="#1a1a1a" stroke-width="0.18">1.5g NB</text>
<line x1="301.3" y1="70.75" x2="310" y2="70.75" stroke="#FFA050" stroke-width="1"/>
<circle cx="305.65" cy="70.75" r="1.5" fill="#FF8C24"/>
<text transform="translate(311.1,72.93) scale(0.6900,1)" font-family='"Liberation Serif", serif' font-weight="normal" font-size="6.5" text-anchor="start" fill="#1a1a1a" stroke="#1a1a1a" stroke-width="0.18">1.5g Na-B</text>
<line x1="301.3" y1="80.18" x2="310" y2="80.18" stroke="#1E2F6A" stroke-width="1"/>
<circle cx="305.65" cy="80.18" r="1.5" fill="#0C1A44"/>
<text transform="translate(311.1,82.36) scale(0.6900,1)" font-family='"Liberation Serif", serif' font-weight="normal" font-size="6.5" text-anchor="start" fill="#1a1a1a" stroke="#1a1a1a" stroke-width="0.18">2g NB</text>
<line x1="301.3" y1="89.61" x2="310" y2="89.61" stroke="#6A2424" stroke-width="1"/>
<circle cx="305.65" cy="89.61" r="1.5" fill="#380808"/>
<text transform="translate(311.1,91.79) scale(0.6900,1)" font-family='"Liberation Serif", serif' font-weight="normal" font-size="6.5" text-anchor="start" fill="#1a1a1a" stroke="#1a1a1a" stroke-width="0.18">2g Na-B</text>
<line x1="356.5" y1="84.67" x2="464" y2="84.67" stroke="#F2F2F2" stroke-width="0.8"/>
<line x1="356.5" y1="74.14" x2="464" y2="74.14" stroke="#F2F2F2" stroke-width="0.8"/>
<line x1="356.5" y1="63.61" x2="464" y2="63.61" stroke="#F2F2F2" stroke-width="0.8"/>
<line x1="356.5" y1="53.09" x2="464" y2="53.09" stroke="#F2F2F2" stroke-width="0.8"/>
<line x1="356.5" y1="42.56" x2="464" y2="42.56" stroke="#F2F2F2" stroke-width="0.8"/>
<line x1="356.5" y1="32.03" x2="464" y2="32.03" stroke="#F2F2F2" stroke-width="0.8"/>
<line x1="356.5" y1="21.5" x2="464" y2="21.5" stroke="#F2F2F2" stroke-width="0.8"/>
<line x1="356.5" y1="21.5" x2="356.5" y2="95.2" stroke="#F0A6AC" stroke-width="0.9"/>
<line x1="356.05" y1="95.2" x2="464" y2="95.2" stroke="#F0A6AC" stroke-width="0.9"/>
<line x1="364.77" y1="93" x2="364.77" y2="95.2" stroke="#F0A6AC" stroke-width="0.7"/>
<line x1="373.04" y1="93" x2="373.04" y2="95.2" stroke="#F0A6AC" stroke-width="0.7"/>
<line x1="381.31" y1="93" x2="381.31" y2="95.2" stroke="#F0A6AC" stroke-width="0.7"/>
<line x1="389.58" y1="93" x2="389.58" y2="95.2" stroke="#F0A6AC" stroke-width="0.7"/>
<line x1="397.85" y1="93" x2="397.85" y2="95.2" stroke="#F0A6AC" stroke-width="0.7"/>
<line x1="406.12" y1="93" x2="406.12" y2="95.2" stroke="#F0A6AC" stroke-width="0.7"/>
<line x1="414.38" y1="93" x2="414.38" y2="95.2" stroke="#F0A6AC" stroke-width="0.7"/>
<line x1="422.65" y1="93" x2="422.65" y2="95.2" stroke="#F0A6AC" stroke-width="0.7"/>
<line x1="430.92" y1="93" x2="430.92" y2="95.2" stroke="#F0A6AC" stroke-width="0.7"/>
<line x1="439.19" y1="93" x2="439.19" y2="95.2" stroke="#F0A6AC" stroke-width="0.7"/>
<line x1="447.46" y1="93" x2="447.46" y2="95.2" stroke="#F0A6AC" stroke-width="0.7"/>
<line x1="455.73" y1="93" x2="455.73" y2="95.2" stroke="#F0A6AC" stroke-width="0.7"/>
<line x1="464" y1="93" x2="464" y2="95.2" stroke="#F0A6AC" stroke-width="0.7"/>
<text transform="translate(353.5,97.21) scale(0.7800,1)" font-family='"Liberation Serif", serif' font-weight="normal" font-size="6" text-anchor="end" fill="#1a1a1a" stroke="#1a1a1a" stroke-width="0.18">0</text>
<text transform="translate(353.5,86.68) scale(0.7800,1)" font-family='"Liberation Serif", serif' font-weight="normal" font-size="6" text-anchor="end" fill="#1a1a1a" stroke="#1a1a1a" stroke-width="0.18">10</text>
<text transform="translate(353.5,76.15) scale(0.7800,1)" font-family='"Liberation Serif", serif' font-weight="normal" font-size="6" text-anchor="end" fill="#1a1a1a" stroke="#1a1a1a" stroke-width="0.18">20</text>
<text transform="translate(353.5,65.62) scale(0.7800,1)" font-family='"Liberation Serif", serif' font-weight="normal" font-size="6" text-anchor="end" fill="#1a1a1a" stroke="#1a1a1a" stroke-width="0.18">30</text>
<text transform="translate(353.5,55.1) scale(0.7800,1)" font-family='"Liberation Serif", serif' font-weight="normal" font-size="6" text-anchor="end" fill="#1a1a1a" stroke="#1a1a1a" stroke-width="0.18">40</text>
<text transform="translate(353.5,44.57) scale(0.7800,1)" font-family='"Liberation Serif", serif' font-weight="normal" font-size="6" text-anchor="end" fill="#1a1a1a" stroke="#1a1a1a" stroke-width="0.18">50</text>
<text transform="translate(353.5,34.04) scale(0.7800,1)" font-family='"Liberation Serif", serif' font-weight="normal" font-size="6" text-anchor="end" fill="#1a1a1a" stroke="#1a1a1a" stroke-width="0.18">60</text>
<text transform="translate(353.5,23.51) scale(0.7800,1)" font-family='"Liberation Serif", serif' font-weight="normal" font-size="6" text-anchor="end" fill="#1a1a1a" stroke="#1a1a1a" stroke-width="0.18">70</text>
<text transform="translate(356.5,104.21) scale(0.7800,1)" font-family='"Liberation Serif", serif' font-weight="normal" font-size="6" text-anchor="middle" fill="#1a1a1a" stroke="#1a1a1a" stroke-width="0.18">0</text>
<text transform="translate(364.77,104.21) scale(0.7800,1)" font-family='"Liberation Serif", serif' font-weight="normal" font-size="6" text-anchor="middle" fill="#1a1a1a" stroke="#1a1a1a" stroke-width="0.18">10</text>
<text transform="translate(373.04,104.21) scale(0.7800,1)" font-family='"Liberation Serif", serif' font-weight="normal" font-size="6" text-anchor="middle" fill="#1a1a1a" stroke="#1a1a1a" stroke-width="0.18">20</text>
<text transform="translate(381.31,104.21) scale(0.7800,1)" font-family='"Liberation Serif", serif' font-weight="normal" font-size="6" text-anchor="middle" fill="#1a1a1a" stroke="#1a1a1a" stroke-width="0.18">30</text>
<text transform="translate(389.58,104.21) scale(0.7800,1)" font-family='"Liberation Serif", serif' font-weight="normal" font-size="6" text-anchor="middle" fill="#1a1a1a" stroke="#1a1a1a" stroke-width="0.18">40</text>
<text transform="translate(397.85,104.21) scale(0.7800,1)" font-family='"Liberation Serif", serif' font-weight="normal" font-size="6" text-anchor="middle" fill="#1a1a1a" stroke="#1a1a1a" stroke-width="0.18">50</text>
<text transform="translate(406.12,104.21) scale(0.7800,1)" font-family='"Liberation Serif", serif' font-weight="normal" font-size="6" text-anchor="middle" fill="#1a1a1a" stroke="#1a1a1a" stroke-width="0.18">60</text>
<text transform="translate(414.38,104.21) scale(0.7800,1)" font-family='"Liberation Serif", serif' font-weight="normal" font-size="6" text-anchor="middle" fill="#1a1a1a" stroke="#1a1a1a" stroke-width="0.18">70</text>
<text transform="translate(422.65,104.21) scale(0.7800,1)" font-family='"Liberation Serif", serif' font-weight="normal" font-size="6" text-anchor="middle" fill="#1a1a1a" stroke="#1a1a1a" stroke-width="0.18">80</text>
<text transform="translate(430.92,104.21) scale(0.7800,1)" font-family='"Liberation Serif", serif' font-weight="normal" font-size="6" text-anchor="middle" fill="#1a1a1a" stroke="#1a1a1a" stroke-width="0.18">90</text>
<text transform="translate(439.19,104.21) scale(0.7800,1)" font-family='"Liberation Serif", serif' font-weight="normal" font-size="6" text-anchor="middle" fill="#1a1a1a" stroke="#1a1a1a" stroke-width="0.18">100</text>
<text transform="translate(447.46,104.21) scale(0.7800,1)" font-family='"Liberation Serif", serif' font-weight="normal" font-size="6" text-anchor="middle" fill="#1a1a1a" stroke="#1a1a1a" stroke-width="0.18">110</text>
<text transform="translate(455.73,104.21) scale(0.7800,1)" font-family='"Liberation Serif", serif' font-weight="normal" font-size="6" text-anchor="middle" fill="#1a1a1a" stroke="#1a1a1a" stroke-width="0.18">120</text>
<text transform="translate(464,104.21) scale(0.7800,1)" font-family='"Liberation Serif", serif' font-weight="normal" font-size="6" text-anchor="middle" fill="#1a1a1a" stroke="#1a1a1a" stroke-width="0.18">130</text>
<text transform="translate(400.5,112.6) scale(0.8353,1)" font-family='"Liberation Serif", serif' font-weight="normal" font-size="5.6" text-anchor="start" fill="#1a1a1a" stroke="#1a1a1a" stroke-width="0.1">Time(min)</text>
<text transform="translate(341.5,73.3) rotate(-90) scale(1.0770,1)" font-family='"Liberation Serif", serif' font-weight="normal" font-size="5.5" text-anchor="start" fill="#1a1a1a" stroke="#1a1a1a" stroke-width="0.1">Removal %</text>
<text transform="translate(359.8,10.8) scale(0.6906,1)" font-family='"Liberation Serif", serif' font-weight="normal" font-size="8" text-anchor="start" fill="#1a1a1a" stroke="#1a1a1a" stroke-width="0.18">10 mg/l of IP using different wt. of NB and Na-B</text>
<text transform="translate(334.6,10.4) scale(1.0000,1)" font-family='"Liberation Serif", serif' font-weight="bold" font-size="12.5" text-anchor="start" fill="#000">c</text>
<polyline points="360.63,91.83 364.77,90.46 368.9,87.94 373.04,84.04 377.17,80.57 381.31,77.2 385.44,73.93 389.58,72.25 393.71,72.25 397.85,82.78 406.12,72.25 414.38,72.25 422.65,72.25 430.92,72.25 455.73,72.56" fill="none" stroke="#3E5FC8" stroke-width="1.05" stroke-linejoin="round"/>
<circle cx="360.63" cy="91.83" r="1.5" fill="#0E0E22"/>
<circle cx="364.77" cy="90.46" r="1.5" fill="#0E0E22"/>
<circle cx="368.9" cy="87.94" r="1.5" fill="#0E0E22"/>
<circle cx="373.04" cy="84.04" r="1.5" fill="#0E0E22"/>
<circle cx="377.17" cy="80.57" r="1.5" fill="#0E0E22"/>
<circle cx="381.31" cy="77.2" r="1.5" fill="#0E0E22"/>
<circle cx="385.44" cy="73.93" r="1.5" fill="#0E0E22"/>
<circle cx="389.58" cy="72.25" r="1.5" fill="#0E0E22"/>
<circle cx="393.71" cy="72.25" r="1.5" fill="#0E0E22"/>
<circle cx="397.85" cy="82.78" r="1.5" fill="#0E0E22"/>
<circle cx="406.12" cy="72.25" r="1.5" fill="#0E0E22"/>
<circle cx="414.38" cy="72.25" r="1.5" fill="#0E0E22"/>
<circle cx="422.65" cy="72.25" r="1.5" fill="#0E0E22"/>
<circle cx="430.92" cy="72.25" r="1.5" fill="#0E0E22"/>
<circle cx="455.73" cy="72.56" r="1.5" fill="#0E0E22"/>
<polyline points="360.63,86.04 364.77,84.46 368.9,76.67 373.04,72.67 377.17,57.61 381.31,50.66 385.44,43.82 389.58,40.35 393.71,40.35 397.85,40.35 406.12,41.08 414.38,41.08 422.65,41.08 430.92,40.35 455.73,40.35" fill="none" stroke="#E0262A" stroke-width="1.05" stroke-linejoin="round"/>
<circle cx="360.63" cy="86.04" r="1.5" fill="#E01818"/>
<circle cx="364.77" cy="84.46" r="1.5" fill="#E01818"/>
<circle cx="368.9" cy="76.67" r="1.5" fill="#E01818"/>
<circle cx="373.04" cy="72.67" r="1.5" fill="#E01818"/>
<circle cx="377.17" cy="57.61" r="1.5" fill="#E01818"/>
<circle cx="381.31" cy="50.66" r="1.5" fill="#E01818"/>
<circle cx="385.44" cy="43.82" r="1.5" fill="#E01818"/>
<circle cx="389.58" cy="40.35" r="1.5" fill="#E01818"/>
<circle cx="393.71" cy="40.35" r="1.5" fill="#E01818"/>
<circle cx="397.85" cy="40.35" r="1.5" fill="#E01818"/>
<circle cx="406.12" cy="41.08" r="1.5" fill="#E01818"/>
<circle cx="414.38" cy="41.08" r="1.5" fill="#E01818"/>
<circle cx="422.65" cy="41.08" r="1.5" fill="#E01818"/>
<circle cx="430.92" cy="40.35" r="1.5" fill="#E01818"/>
<circle cx="455.73" cy="40.35" r="1.5" fill="#E01818"/>
<polyline points="360.63,92.25 364.77,90.57 368.9,86.78 373.04,82.57 377.17,79.41 381.31,76.25 385.44,72.56 389.58,68.04 393.71,68.04 397.85,68.04 406.12,68.04 414.38,68.04 422.65,68.04 430.92,68.04 455.73,68.46" fill="none" stroke="#A6E22E" stroke-width="1.05" stroke-linejoin="round"/>
<circle cx="360.63" cy="92.25" r="1.5" fill="#A6E22E"/>
<circle cx="364.77" cy="90.57" r="1.5" fill="#A6E22E"/>
<circle cx="368.9" cy="86.78" r="1.5" fill="#A6E22E"/>
<circle cx="373.04" cy="82.57" r="1.5" fill="#A6E22E"/>
<circle cx="377.17" cy="79.41" r="1.5" fill="#A6E22E"/>
<circle cx="381.31" cy="76.25" r="1.5" fill="#A6E22E"/>
<circle cx="385.44" cy="72.56" r="1.5" fill="#A6E22E"/>
<circle cx="389.58" cy="68.04" r="1.5" fill="#A6E22E"/>
<circle cx="393.71" cy="68.04" r="1.5" fill="#A6E22E"/>
<circle cx="397.85" cy="68.04" r="1.5" fill="#A6E22E"/>
<circle cx="406.12" cy="68.04" r="1.5" fill="#A6E22E"/>
<circle cx="414.38" cy="68.04" r="1.5" fill="#A6E22E"/>
<circle cx="422.65" cy="68.04" r="1.5" fill="#A6E22E"/>
<circle cx="430.92" cy="68.04" r="1.5" fill="#A6E22E"/>
<circle cx="455.73" cy="68.46" r="1.5" fill="#A6E22E"/>
<polyline points="360.63,85.2 364.77,84.14 368.9,71.62 373.04,65.4 377.17,58.67 381.31,44.87 385.44,42.56 389.58,38.56 393.71,38.56 397.85,38.56 406.12,39.08 414.38,39.08 422.65,39.08 430.92,38.56 455.73,38.56" fill="none" stroke="#6A30D2" stroke-width="1.05" stroke-linejoin="round"/>
<circle cx="360.63" cy="85.2" r="1.5" fill="#6A20E0"/>
<circle cx="364.77" cy="84.14" r="1.5" fill="#6A20E0"/>
<circle cx="368.9" cy="71.62" r="1.5" fill="#6A20E0"/>
<circle cx="373.04" cy="65.4" r="1.5" fill="#6A20E0"/>
<circle cx="377.17" cy="58.67" r="1.5" fill="#6A20E0"/>
<circle cx="381.31" cy="44.87" r="1.5" fill="#6A20E0"/>
<circle cx="385.44" cy="42.56" r="1.5" fill="#6A20E0"/>
<circle cx="389.58" cy="38.56" r="1.5" fill="#6A20E0"/>
<circle cx="393.71" cy="38.56" r="1.5" fill="#6A20E0"/>
<circle cx="397.85" cy="38.56" r="1.5" fill="#6A20E0"/>
<circle cx="406.12" cy="39.08" r="1.5" fill="#6A20E0"/>
<circle cx="414.38" cy="39.08" r="1.5" fill="#6A20E0"/>
<circle cx="422.65" cy="39.08" r="1.5" fill="#6A20E0"/>
<circle cx="430.92" cy="38.56" r="1.5" fill="#6A20E0"/>
<circle cx="455.73" cy="38.56" r="1.5" fill="#6A20E0"/>
<polyline points="360.63,92.25 364.77,89.94 368.9,84.67 373.04,80.46 377.17,77.3 381.31,74.67 385.44,71.51 389.58,66.77 393.71,66.77 397.85,66.77 406.12,66.77 414.38,66.77 422.65,66.77 430.92,66.77 455.73,67.51" fill="none" stroke="#2EB6D6" stroke-width="1.05" stroke-linejoin="round"/>
<circle cx="360.63" cy="92.25" r="1.5" fill="#10303A"/>
<circle cx="364.77" cy="89.94" r="1.5" fill="#10303A"/>
<circle cx="368.9" cy="84.67" r="1.5" fill="#10303A"/>
<circle cx="373.04" cy="80.46" r="1.5" fill="#10303A"/>
<circle cx="377.17" cy="77.3" r="1.5" fill="#10303A"/>
<circle cx="381.31" cy="74.67" r="1.5" fill="#10303A"/>
<circle cx="385.44" cy="71.51" r="1.5" fill="#10303A"/>
<circle cx="389.58" cy="66.77" r="1.5" fill="#10303A"/>
<circle cx="393.71" cy="66.77" r="1.5" fill="#10303A"/>
<circle cx="397.85" cy="66.77" r="1.5" fill="#10303A"/>
<circle cx="406.12" cy="66.77" r="1.5" fill="#10303A"/>
<circle cx="414.38" cy="66.77" r="1.5" fill="#10303A"/>
<circle cx="422.65" cy="66.77" r="1.5" fill="#10303A"/>
<circle cx="430.92" cy="66.77" r="1.5" fill="#10303A"/>
<circle cx="455.73" cy="67.51" r="1.5" fill="#10303A"/>
<polyline points="360.63,84.46 364.77,83.41 368.9,68.25 373.04,62.56 377.17,54.14 381.31,48.87 385.44,40.45 389.58,34.66 393.71,34.66 397.85,34.66 406.12,34.66 414.38,35.71 422.65,34.66 430.92,34.66 455.73,34.66" fill="none" stroke="#FF8C24" stroke-width="1.05" stroke-linejoin="round"/>
<circle cx="360.63" cy="84.46" r="1.5" fill="#FF8C24"/>
<circle cx="364.77" cy="83.41" r="1.5" fill="#FF8C24"/>
<circle cx="368.9" cy="68.25" r="1.5" fill="#FF8C24"/>
<circle cx="373.04" cy="62.56" r="1.5" fill="#FF8C24"/>
<circle cx="377.17" cy="54.14" r="1.5" fill="#FF8C24"/>
<circle cx="381.31" cy="48.87" r="1.5" fill="#FF8C24"/>
<circle cx="385.44" cy="40.45" r="1.5" fill="#FF8C24"/>
<circle cx="389.58" cy="34.66" r="1.5" fill="#FF8C24"/>
<circle cx="393.71" cy="34.66" r="1.5" fill="#FF8C24"/>
<circle cx="397.85" cy="34.66" r="1.5" fill="#FF8C24"/>
<circle cx="406.12" cy="34.66" r="1.5" fill="#FF8C24"/>
<circle cx="414.38" cy="35.71" r="1.5" fill="#FF8C24"/>
<circle cx="422.65" cy="34.66" r="1.5" fill="#FF8C24"/>
<circle cx="430.92" cy="34.66" r="1.5" fill="#FF8C24"/>
<circle cx="455.73" cy="34.66" r="1.5" fill="#FF8C24"/>
<polyline points="360.63,91.52 364.77,89.94 368.9,82.25 373.04,76.67 377.17,73.3 381.31,72.67 385.44,70.98 389.58,65.72 393.71,65.72 397.85,65.72 406.12,65.72 414.38,66.14 422.65,66.14 430.92,65.72 455.73,65.72" fill="none" stroke="#1E2F6A" stroke-width="1.05" stroke-linejoin="round"/>
<circle cx="360.63" cy="91.52" r="1.5" fill="#0C1A44"/>
<circle cx="364.77" cy="89.94" r="1.5" fill="#0C1A44"/>
<circle cx="368.9" cy="82.25" r="1.5" fill="#0C1A44"/>
<circle cx="373.04" cy="76.67" r="1.5" fill="#0C1A44"/>
<circle cx="377.17" cy="73.3" r="1.5" fill="#0C1A44"/>
<circle cx="381.31" cy="72.67" r="1.5" fill="#0C1A44"/>
<circle cx="385.44" cy="70.98" r="1.5" fill="#0C1A44"/>
<circle cx="389.58" cy="65.72" r="1.5" fill="#0C1A44"/>
<circle cx="393.71" cy="65.72" r="1.5" fill="#0C1A44"/>
<circle cx="397.85" cy="65.72" r="1.5" fill="#0C1A44"/>
<circle cx="406.12" cy="65.72" r="1.5" fill="#0C1A44"/>
<circle cx="414.38" cy="66.14" r="1.5" fill="#0C1A44"/>
<circle cx="422.65" cy="66.14" r="1.5" fill="#0C1A44"/>
<circle cx="430.92" cy="65.72" r="1.5" fill="#0C1A44"/>
<circle cx="455.73" cy="65.72" r="1.5" fill="#0C1A44"/>
<polyline points="360.63,83.41 364.77,81.72 368.9,66.88 373.04,60.88 377.17,50.77 381.31,46.45 385.44,37.29 389.58,30.66 393.71,30.66 397.85,30.66 406.12,30.66 414.38,31.19 422.65,31.19 430.92,31.19 455.73,31.19" fill="none" stroke="#5C1C1C" stroke-width="1.05" stroke-linejoin="round"/>
<circle cx="360.63" cy="83.41" r="1.5" fill="#380808"/>
<circle cx="364.77" cy="81.72" r="1.5" fill="#380808"/>
<circle cx="368.9" cy="66.88" r="1.5" fill="#380808"/>
<circle cx="373.04" cy="60.88" r="1.5" fill="#380808"/>
<circle cx="377.17" cy="50.77" r="1.5" fill="#380808"/>
<circle cx="381.31" cy="46.45" r="1.5" fill="#380808"/>
<circle cx="385.44" cy="37.29" r="1.5" fill="#380808"/>
<circle cx="389.58" cy="30.66" r="1.5" fill="#380808"/>
<circle cx="393.71" cy="30.66" r="1.5" fill="#380808"/>
<circle cx="397.85" cy="30.66" r="1.5" fill="#380808"/>
<circle cx="406.12" cy="30.66" r="1.5" fill="#380808"/>
<circle cx="414.38" cy="31.19" r="1.5" fill="#380808"/>
<circle cx="422.65" cy="31.19" r="1.5" fill="#380808"/>
<circle cx="430.92" cy="31.19" r="1.5" fill="#380808"/>
<circle cx="455.73" cy="31.19" r="1.5" fill="#380808"/>
<line x1="463.7" y1="25.2" x2="473.1" y2="25.2" stroke="#4A6ACF" stroke-width="1"/>
<circle cx="468.4" cy="25.2" r="1.5" fill="#0E0E22"/>
<text transform="translate(473.6,27.38) scale(0.6900,1)" font-family='"Liberation Serif", serif' font-weight="normal" font-size="6.5" text-anchor="start" fill="#1a1a1a" stroke="#1a1a1a" stroke-width="0.18">0.5g NB</text>
<line x1="463.7" y1="34.9" x2="473.1" y2="34.9" stroke="#E0404A" stroke-width="1"/>
<circle cx="468.4" cy="34.9" r="1.5" fill="#E01818"/>
<text transform="translate(473.6,37.08) scale(0.6900,1)" font-family='"Liberation Serif", serif' font-weight="normal" font-size="6.5" text-anchor="start" fill="#1a1a1a" stroke="#1a1a1a" stroke-width="0.18">0.5g Na-B</text>
<line x1="463.7" y1="44.6" x2="473.1" y2="44.6" stroke="#A6E22E" stroke-width="1"/>
<circle cx="468.4" cy="44.6" r="1.5" fill="#A6E22E"/>
<text transform="translate(473.6,46.78) scale(0.6900,1)" font-family='"Liberation Serif", serif' font-weight="normal" font-size="6.5" text-anchor="start" fill="#1a1a1a" stroke="#1a1a1a" stroke-width="0.18">1g NB</text>
<line x1="463.7" y1="54.3" x2="473.1" y2="54.3" stroke="#5A30C8" stroke-width="1"/>
<circle cx="468.4" cy="54.3" r="1.5" fill="#6A20E0"/>
<text transform="translate(473.6,56.48) scale(0.6900,1)" font-family='"Liberation Serif", serif' font-weight="normal" font-size="6.5" text-anchor="start" fill="#1a1a1a" stroke="#1a1a1a" stroke-width="0.18">1g Na-B</text>
<line x1="463.7" y1="64" x2="473.1" y2="64" stroke="#40B8E0" stroke-width="1"/>
<circle cx="468.4" cy="64" r="1.5" fill="#10303A"/>
<text transform="translate(473.6,66.18) scale(0.6900,1)" font-family='"Liberation Serif", serif' font-weight="normal" font-size="6.5" text-anchor="start" fill="#1a1a1a" stroke="#1a1a1a" stroke-width="0.18">1.5g NB</text>
<line x1="463.7" y1="73.7" x2="473.1" y2="73.7" stroke="#FFA050" stroke-width="1"/>
<circle cx="468.4" cy="73.7" r="1.5" fill="#FF8C24"/>
<text transform="translate(473.6,75.88) scale(0.6900,1)" font-family='"Liberation Serif", serif' font-weight="normal" font-size="6.5" text-anchor="start" fill="#1a1a1a" stroke="#1a1a1a" stroke-width="0.18">1.5g Na-B</text>
<line x1="463.7" y1="83.4" x2="473.1" y2="83.4" stroke="#1E2F6A" stroke-width="1"/>
<circle cx="468.4" cy="83.4" r="1.5" fill="#0C1A44"/>
<text transform="translate(473.6,85.58) scale(0.6900,1)" font-family='"Liberation Serif", serif' font-weight="normal" font-size="6.5" text-anchor="start" fill="#1a1a1a" stroke="#1a1a1a" stroke-width="0.18">2g NB</text>
<line x1="463.7" y1="93.1" x2="473.1" y2="93.1" stroke="#6A2424" stroke-width="1"/>
<circle cx="468.4" cy="93.1" r="1.5" fill="#380808"/>
<text transform="translate(473.6,95.28) scale(0.6900,1)" font-family='"Liberation Serif", serif' font-weight="normal" font-size="6.5" text-anchor="start" fill="#1a1a1a" stroke="#1a1a1a" stroke-width="0.18">2g Na-B</text>
<line x1="519.6" y1="84.75" x2="638.2" y2="84.75" stroke="#F2F2F2" stroke-width="0.8"/>
<line x1="519.6" y1="72.3" x2="638.2" y2="72.3" stroke="#F2F2F2" stroke-width="0.8"/>
<line x1="519.6" y1="59.85" x2="638.2" y2="59.85" stroke="#F2F2F2" stroke-width="0.8"/>
<line x1="519.6" y1="47.4" x2="638.2" y2="47.4" stroke="#F2F2F2" stroke-width="0.8"/>
<line x1="519.6" y1="34.95" x2="638.2" y2="34.95" stroke="#F2F2F2" stroke-width="0.8"/>
<line x1="519.6" y1="22.5" x2="638.2" y2="22.5" stroke="#F2F2F2" stroke-width="0.8"/>
<line x1="519.6" y1="22.5" x2="519.6" y2="97.2" stroke="#F0A6AC" stroke-width="0.9"/>
<line x1="519.15" y1="97.2" x2="638.2" y2="97.2" stroke="#F0A6AC" stroke-width="0.9"/>
<line x1="528.72" y1="95" x2="528.72" y2="97.2" stroke="#F0A6AC" stroke-width="0.7"/>
<line x1="537.85" y1="95" x2="537.85" y2="97.2" stroke="#F0A6AC" stroke-width="0.7"/>
<line x1="546.97" y1="95" x2="546.97" y2="97.2" stroke="#F0A6AC" stroke-width="0.7"/>
<line x1="556.09" y1="95" x2="556.09" y2="97.2" stroke="#F0A6AC" stroke-width="0.7"/>
<line x1="565.22" y1="95" x2="565.22" y2="97.2" stroke="#F0A6AC" stroke-width="0.7"/>
<line x1="574.34" y1="95" x2="574.34" y2="97.2" stroke="#F0A6AC" stroke-width="0.7"/>
<line x1="583.46" y1="95" x2="583.46" y2="97.2" stroke="#F0A6AC" stroke-width="0.7"/>
<line x1="592.58" y1="95" x2="592.58" y2="97.2" stroke="#F0A6AC" stroke-width="0.7"/>
<line x1="601.71" y1="95" x2="601.71" y2="97.2" stroke="#F0A6AC" stroke-width="0.7"/>
<line x1="610.83" y1="95" x2="610.83" y2="97.2" stroke="#F0A6AC" stroke-width="0.7"/>
<line x1="619.95" y1="95" x2="619.95" y2="97.2" stroke="#F0A6AC" stroke-width="0.7"/>
<line x1="629.08" y1="95" x2="629.08" y2="97.2" stroke="#F0A6AC" stroke-width="0.7"/>
<line x1="638.2" y1="95" x2="638.2" y2="97.2" stroke="#F0A6AC" stroke-width="0.7"/>
<text transform="translate(515,99.09) scale(0.8500,1)" font-family='"Liberation Sans", sans-serif' font-weight="normal" font-size="5.4" text-anchor="end" fill="#1a1a1a">0</text>
<text transform="translate(515,86.64) scale(0.8500,1)" font-family='"Liberation Sans", sans-serif' font-weight="normal" font-size="5.4" text-anchor="end" fill="#1a1a1a">10</text>
<text transform="translate(515,74.19) scale(0.8500,1)" font-family='"Liberation Sans", sans-serif' font-weight="normal" font-size="5.4" text-anchor="end" fill="#1a1a1a">20</text>
<text transform="translate(515,61.74) scale(0.8500,1)" font-family='"Liberation Sans", sans-serif' font-weight="normal" font-size="5.4" text-anchor="end" fill="#1a1a1a">30</text>
<text transform="translate(515,49.29) scale(0.8500,1)" font-family='"Liberation Sans", sans-serif' font-weight="normal" font-size="5.4" text-anchor="end" fill="#1a1a1a">40</text>
<text transform="translate(515,36.84) scale(0.8500,1)" font-family='"Liberation Sans", sans-serif' font-weight="normal" font-size="5.4" text-anchor="end" fill="#1a1a1a">50</text>
<text transform="translate(515,24.39) scale(0.8500,1)" font-family='"Liberation Sans", sans-serif' font-weight="normal" font-size="5.4" text-anchor="end" fill="#1a1a1a">60</text>
<text transform="translate(519.6,107.49) scale(0.8500,1)" font-family='"Liberation Sans", sans-serif' font-weight="normal" font-size="5.4" text-anchor="middle" fill="#1a1a1a">0</text>
<text transform="translate(528.72,107.49) scale(0.8500,1)" font-family='"Liberation Sans", sans-serif' font-weight="normal" font-size="5.4" text-anchor="middle" fill="#1a1a1a">10</text>
<text transform="translate(537.85,107.49) scale(0.8500,1)" font-family='"Liberation Sans", sans-serif' font-weight="normal" font-size="5.4" text-anchor="middle" fill="#1a1a1a">20</text>
<text transform="translate(546.97,107.49) scale(0.8500,1)" font-family='"Liberation Sans", sans-serif' font-weight="normal" font-size="5.4" text-anchor="middle" fill="#1a1a1a">30</text>
<text transform="translate(556.09,107.49) scale(0.8500,1)" font-family='"Liberation Sans", sans-serif' font-weight="normal" font-size="5.4" text-anchor="middle" fill="#1a1a1a">40</text>
<text transform="translate(565.22,107.49) scale(0.8500,1)" font-family='"Liberation Sans", sans-serif' font-weight="normal" font-size="5.4" text-anchor="middle" fill="#1a1a1a">50</text>
<text transform="translate(574.34,107.49) scale(0.8500,1)" font-family='"Liberation Sans", sans-serif' font-weight="normal" font-size="5.4" text-anchor="middle" fill="#1a1a1a">60</text>
<text transform="translate(583.46,107.49) scale(0.8500,1)" font-family='"Liberation Sans", sans-serif' font-weight="normal" font-size="5.4" text-anchor="middle" fill="#1a1a1a">70</text>
<text transform="translate(592.58,107.49) scale(0.8500,1)" font-family='"Liberation Sans", sans-serif' font-weight="normal" font-size="5.4" text-anchor="middle" fill="#1a1a1a">80</text>
<text transform="translate(601.71,107.49) scale(0.8500,1)" font-family='"Liberation Sans", sans-serif' font-weight="normal" font-size="5.4" text-anchor="middle" fill="#1a1a1a">90</text>
<text transform="translate(610.83,107.49) scale(0.8500,1)" font-family='"Liberation Sans", sans-serif' font-weight="normal" font-size="5.4" text-anchor="middle" fill="#1a1a1a">100</text>
<text transform="translate(619.95,107.49) scale(0.8500,1)" font-family='"Liberation Sans", sans-serif' font-weight="normal" font-size="5.4" text-anchor="middle" fill="#1a1a1a">110</text>
<text transform="translate(629.08,107.49) scale(0.8500,1)" font-family='"Liberation Sans", sans-serif' font-weight="normal" font-size="5.4" text-anchor="middle" fill="#1a1a1a">120</text>
<text transform="translate(638.2,107.49) scale(0.8500,1)" font-family='"Liberation Sans", sans-serif' font-weight="normal" font-size="5.4" text-anchor="middle" fill="#1a1a1a">130</text>
<text transform="translate(566,117.3) scale(0.6700,1)" font-family='"Liberation Sans", sans-serif' font-weight="bold" font-size="7.2" text-anchor="start" fill="#1a1a1a">Time (min)</text>
<text transform="translate(504.8,78) rotate(-90) scale(1.2631,1)" font-family='"Liberation Sans", sans-serif' font-weight="normal" font-size="4.8" text-anchor="start" fill="#1a1a1a">Removal %</text>
<text transform="translate(522.4,12.5) scale(0.7351,1)" font-family='"Liberation Serif", serif' font-weight="normal" font-size="8.4" text-anchor="start" fill="#1a1a1a">15 mg/l of IP using different wt. of NB and Na-B</text>
<text transform="translate(496.6,11.9) scale(1.0000,1)" font-family='"Liberation Serif", serif' font-weight="bold" font-size="13.3" text-anchor="start" fill="#000">d</text>
<polyline points="524.16,92.72 528.72,91.1 533.28,86.99 537.85,85.75 542.41,82.26 546.97,79.89 551.53,76.41 556.09,72.92 560.65,72.92 565.22,72.92 574.34,74.17 583.46,74.17 592.58,74.17 601.71,74.17 629.08,74.17" fill="none" stroke="#3E5FC8" stroke-width="1.05" stroke-linejoin="round"/>
<circle cx="524.16" cy="92.72" r="1.5" fill="#0E0E22"/>
<circle cx="528.72" cy="91.1" r="1.5" fill="#0E0E22"/>
<circle cx="533.28" cy="86.99" r="1.5" fill="#0E0E22"/>
<circle cx="537.85" cy="85.75" r="1.5" fill="#0E0E22"/>
<circle cx="542.41" cy="82.26" r="1.5" fill="#0E0E22"/>
<circle cx="546.97" cy="79.89" r="1.5" fill="#0E0E22"/>
<circle cx="551.53" cy="76.41" r="1.5" fill="#0E0E22"/>
<circle cx="556.09" cy="72.92" r="1.5" fill="#0E0E22"/>
<circle cx="560.65" cy="72.92" r="1.5" fill="#0E0E22"/>
<circle cx="565.22" cy="72.92" r="1.5" fill="#0E0E22"/>
<circle cx="574.34" cy="74.17" r="1.5" fill="#0E0E22"/>
<circle cx="583.46" cy="74.17" r="1.5" fill="#0E0E22"/>
<circle cx="592.58" cy="74.17" r="1.5" fill="#0E0E22"/>
<circle cx="601.71" cy="74.17" r="1.5" fill="#0E0E22"/>
<circle cx="629.08" cy="74.17" r="1.5" fill="#0E0E22"/>
<polyline points="524.16,91.6 528.72,89.73 533.28,85.75 537.85,80.39 542.41,69.44 546.97,61.34 551.53,52.01 556.09,50.14 560.65,50.14 565.22,50.76 574.34,52.01 583.46,52.01 592.58,52.01 601.71,52.01 629.08,52.01" fill="none" stroke="#E0262A" stroke-width="1.05" stroke-linejoin="round"/>
<circle cx="524.16" cy="91.6" r="1.5" fill="#E01818"/>
<circle cx="528.72" cy="89.73" r="1.5" fill="#E01818"/>
<circle cx="533.28" cy="85.75" r="1.5" fill="#E01818"/>
<circle cx="537.85" cy="80.39" r="1.5" fill="#E01818"/>
<circle cx="542.41" cy="69.44" r="1.5" fill="#E01818"/>
<circle cx="546.97" cy="61.34" r="1.5" fill="#E01818"/>
<circle cx="551.53" cy="52.01" r="1.5" fill="#E01818"/>
<circle cx="556.09" cy="50.14" r="1.5" fill="#E01818"/>
<circle cx="560.65" cy="50.14" r="1.5" fill="#E01818"/>
<circle cx="565.22" cy="50.76" r="1.5" fill="#E01818"/>
<circle cx="574.34" cy="52.01" r="1.5" fill="#E01818"/>
<circle cx="583.46" cy="52.01" r="1.5" fill="#E01818"/>
<circle cx="592.58" cy="52.01" r="1.5" fill="#E01818"/>
<circle cx="601.71" cy="52.01" r="1.5" fill="#E01818"/>
<circle cx="629.08" cy="52.01" r="1.5" fill="#E01818"/>
<polyline points="524.16,92.72 528.72,91.6 533.28,89.23 537.85,88.11 542.41,78.77 546.97,75.29 551.53,70.18 556.09,67.07 560.65,67.07 565.22,67.07 574.34,67.82 583.46,67.82 592.58,67.82 601.71,67.82 629.08,67.82" fill="none" stroke="#A6E22E" stroke-width="1.05" stroke-linejoin="round"/>
<circle cx="524.16" cy="92.72" r="1.5" fill="#A6E22E"/>
<circle cx="528.72" cy="91.6" r="1.5" fill="#A6E22E"/>
<circle cx="533.28" cy="89.23" r="1.5" fill="#A6E22E"/>
<circle cx="537.85" cy="88.11" r="1.5" fill="#A6E22E"/>
<circle cx="542.41" cy="78.77" r="1.5" fill="#A6E22E"/>
<circle cx="546.97" cy="75.29" r="1.5" fill="#A6E22E"/>
<circle cx="551.53" cy="70.18" r="1.5" fill="#A6E22E"/>
<circle cx="556.09" cy="67.07" r="1.5" fill="#A6E22E"/>
<circle cx="560.65" cy="67.07" r="1.5" fill="#A6E22E"/>
<circle cx="565.22" cy="67.07" r="1.5" fill="#A6E22E"/>
<circle cx="574.34" cy="67.82" r="1.5" fill="#A6E22E"/>
<circle cx="583.46" cy="67.82" r="1.5" fill="#A6E22E"/>
<circle cx="592.58" cy="67.82" r="1.5" fill="#A6E22E"/>
<circle cx="601.71" cy="67.82" r="1.5" fill="#A6E22E"/>
<circle cx="629.08" cy="67.82" r="1.5" fill="#A6E22E"/>
<polyline points="524.16,92.1 528.72,89.23 533.28,84.63 537.85,79.89 542.41,66.08 546.97,62.46 551.53,52.01 556.09,46.16 560.65,46.16 565.22,46.9 574.34,47.77 583.46,47.77 592.58,47.77 601.71,47.77 629.08,47.77" fill="none" stroke="#6A30D2" stroke-width="1.05" stroke-linejoin="round"/>
<circle cx="524.16" cy="92.1" r="1.5" fill="#6A20E0"/>
<circle cx="528.72" cy="89.23" r="1.5" fill="#6A20E0"/>
<circle cx="533.28" cy="84.63" r="1.5" fill="#6A20E0"/>
<circle cx="537.85" cy="79.89" r="1.5" fill="#6A20E0"/>
<circle cx="542.41" cy="66.08" r="1.5" fill="#6A20E0"/>
<circle cx="546.97" cy="62.46" r="1.5" fill="#6A20E0"/>
<circle cx="551.53" cy="52.01" r="1.5" fill="#6A20E0"/>
<circle cx="556.09" cy="46.16" r="1.5" fill="#6A20E0"/>
<circle cx="560.65" cy="46.16" r="1.5" fill="#6A20E0"/>
<circle cx="565.22" cy="46.9" r="1.5" fill="#6A20E0"/>
<circle cx="574.34" cy="47.77" r="1.5" fill="#6A20E0"/>
<circle cx="583.46" cy="47.77" r="1.5" fill="#6A20E0"/>
<circle cx="592.58" cy="47.77" r="1.5" fill="#6A20E0"/>
<circle cx="601.71" cy="47.77" r="1.5" fill="#6A20E0"/>
<circle cx="629.08" cy="47.77" r="1.5" fill="#6A20E0"/>
<polyline points="524.16,93.96 528.72,92.1 533.28,88.11 537.85,85.75 542.41,78.03 546.97,75.29 551.53,70.68 556.09,67.07 560.65,67.07 565.22,67.07 574.34,67.82 583.46,67.82 592.58,67.82 601.71,67.82 629.08,67.82" fill="none" stroke="#2EB6D6" stroke-width="1.05" stroke-linejoin="round"/>
<circle cx="524.16" cy="93.96" r="1.5" fill="#10303A"/>
<circle cx="528.72" cy="92.1" r="1.5" fill="#10303A"/>
<circle cx="533.28" cy="88.11" r="1.5" fill="#10303A"/>
<circle cx="537.85" cy="85.75" r="1.5" fill="#10303A"/>
<circle cx="542.41" cy="78.03" r="1.5" fill="#10303A"/>
<circle cx="546.97" cy="75.29" r="1.5" fill="#10303A"/>
<circle cx="551.53" cy="70.68" r="1.5" fill="#10303A"/>
<circle cx="556.09" cy="67.07" r="1.5" fill="#10303A"/>
<circle cx="560.65" cy="67.07" r="1.5" fill="#10303A"/>
<circle cx="565.22" cy="67.07" r="1.5" fill="#10303A"/>
<circle cx="574.34" cy="67.82" r="1.5" fill="#10303A"/>
<circle cx="583.46" cy="67.82" r="1.5" fill="#10303A"/>
<circle cx="592.58" cy="67.82" r="1.5" fill="#10303A"/>
<circle cx="601.71" cy="67.82" r="1.5" fill="#10303A"/>
<circle cx="629.08" cy="67.82" r="1.5" fill="#10303A"/>
<polyline points="524.16,90.48 528.72,88.11 533.28,83.5 537.85,78.77 542.41,66.08 546.97,52.01 551.53,43.79 556.09,37.94 560.65,37.94 565.22,37.94 574.34,39.18 583.46,38.44 592.58,37.94 601.71,38.44 629.08,37.94" fill="none" stroke="#FF8C24" stroke-width="1.05" stroke-linejoin="round"/>
<circle cx="524.16" cy="90.48" r="1.5" fill="#FF8C24"/>
<circle cx="528.72" cy="88.11" r="1.5" fill="#FF8C24"/>
<circle cx="533.28" cy="83.5" r="1.5" fill="#FF8C24"/>
<circle cx="537.85" cy="78.77" r="1.5" fill="#FF8C24"/>
<circle cx="542.41" cy="66.08" r="1.5" fill="#FF8C24"/>
<circle cx="546.97" cy="52.01" r="1.5" fill="#FF8C24"/>
<circle cx="551.53" cy="43.79" r="1.5" fill="#FF8C24"/>
<circle cx="556.09" cy="37.94" r="1.5" fill="#FF8C24"/>
<circle cx="560.65" cy="37.94" r="1.5" fill="#FF8C24"/>
<circle cx="565.22" cy="37.94" r="1.5" fill="#FF8C24"/>
<circle cx="574.34" cy="39.18" r="1.5" fill="#FF8C24"/>
<circle cx="583.46" cy="38.44" r="1.5" fill="#FF8C24"/>
<circle cx="592.58" cy="37.94" r="1.5" fill="#FF8C24"/>
<circle cx="601.71" cy="38.44" r="1.5" fill="#FF8C24"/>
<circle cx="629.08" cy="37.94" r="1.5" fill="#FF8C24"/>
<polyline points="524.16,93.47 528.72,91.1 533.28,88.11 537.85,85.75 542.41,81.14 546.97,78.03 551.53,69.44 556.09,66.45 560.65,66.45 565.22,66.45 574.34,66.45 583.46,67.07 592.58,67.07 601.71,67.07 629.08,67.07" fill="none" stroke="#1E2F6A" stroke-width="1.05" stroke-linejoin="round"/>
<circle cx="524.16" cy="93.47" r="1.5" fill="#0C1A44"/>
<circle cx="528.72" cy="91.1" r="1.5" fill="#0C1A44"/>
<circle cx="533.28" cy="88.11" r="1.5" fill="#0C1A44"/>
<circle cx="537.85" cy="85.75" r="1.5" fill="#0C1A44"/>
<circle cx="542.41" cy="81.14" r="1.5" fill="#0C1A44"/>
<circle cx="546.97" cy="78.03" r="1.5" fill="#0C1A44"/>
<circle cx="551.53" cy="69.44" r="1.5" fill="#0C1A44"/>
<circle cx="556.09" cy="66.45" r="1.5" fill="#0C1A44"/>
<circle cx="560.65" cy="66.45" r="1.5" fill="#0C1A44"/>
<circle cx="565.22" cy="66.45" r="1.5" fill="#0C1A44"/>
<circle cx="574.34" cy="66.45" r="1.5" fill="#0C1A44"/>
<circle cx="583.46" cy="67.07" r="1.5" fill="#0C1A44"/>
<circle cx="592.58" cy="67.07" r="1.5" fill="#0C1A44"/>
<circle cx="601.71" cy="67.07" r="1.5" fill="#0C1A44"/>
<circle cx="629.08" cy="67.07" r="1.5" fill="#0C1A44"/>
<polyline points="524.16,87.61 528.72,86.24 533.28,82.26 537.85,78.03 542.41,53.62 546.97,46.65 551.53,36.2 556.09,32.46 560.65,32.46 565.22,32.46 574.34,32.83 583.46,32.83 592.58,32.83 601.71,33.33 629.08,33.33" fill="none" stroke="#5C1C1C" stroke-width="1.05" stroke-linejoin="round"/>
<circle cx="524.16" cy="87.61" r="1.5" fill="#380808"/>
<circle cx="528.72" cy="86.24" r="1.5" fill="#380808"/>
<circle cx="533.28" cy="82.26" r="1.5" fill="#380808"/>
<circle cx="537.85" cy="78.03" r="1.5" fill="#380808"/>
<circle cx="542.41" cy="53.62" r="1.5" fill="#380808"/>
<circle cx="546.97" cy="46.65" r="1.5" fill="#380808"/>
<circle cx="551.53" cy="36.2" r="1.5" fill="#380808"/>
<circle cx="556.09" cy="32.46" r="1.5" fill="#380808"/>
<circle cx="560.65" cy="32.46" r="1.5" fill="#380808"/>
<circle cx="565.22" cy="32.46" r="1.5" fill="#380808"/>
<circle cx="574.34" cy="32.83" r="1.5" fill="#380808"/>
<circle cx="583.46" cy="32.83" r="1.5" fill="#380808"/>
<circle cx="592.58" cy="32.83" r="1.5" fill="#380808"/>
<circle cx="601.71" cy="33.33" r="1.5" fill="#380808"/>
<circle cx="629.08" cy="33.33" r="1.5" fill="#380808"/>
<line x1="641.2" y1="26.3" x2="651.2" y2="26.3" stroke="#4A6ACF" stroke-width="1"/>
<circle cx="646.2" cy="26.3" r="1.5" fill="#0E0E22"/>
<text transform="translate(651.5,27.91) scale(0.7000,1)" font-family='"Liberation Sans", sans-serif' font-weight="normal" font-size="4.8" text-anchor="start" fill="#1a1a1a">0.5g NB</text>
<line x1="641.2" y1="36" x2="651.2" y2="36" stroke="#E0404A" stroke-width="1"/>
<circle cx="646.2" cy="36" r="1.5" fill="#E01818"/>
<text transform="translate(651.5,37.61) scale(0.7000,1)" font-family='"Liberation Sans", sans-serif' font-weight="normal" font-size="4.8" text-anchor="start" fill="#1a1a1a">0.5g Na-B</text>
<line x1="641.2" y1="45.7" x2="651.2" y2="45.7" stroke="#A6E22E" stroke-width="1"/>
<circle cx="646.2" cy="45.7" r="1.5" fill="#A6E22E"/>
<text transform="translate(651.5,47.31) scale(0.7000,1)" font-family='"Liberation Sans", sans-serif' font-weight="normal" font-size="4.8" text-anchor="start" fill="#1a1a1a">1g NB</text>
<line x1="641.2" y1="55.4" x2="651.2" y2="55.4" stroke="#5A30C8" stroke-width="1"/>
<circle cx="646.2" cy="55.4" r="1.5" fill="#6A20E0"/>
<text transform="translate(651.5,57.01) scale(0.7000,1)" font-family='"Liberation Sans", sans-serif' font-weight="normal" font-size="4.8" text-anchor="start" fill="#1a1a1a">1g Na-B</text>
<line x1="641.2" y1="65.1" x2="651.2" y2="65.1" stroke="#40B8E0" stroke-width="1"/>
<circle cx="646.2" cy="65.1" r="1.5" fill="#10303A"/>
<text transform="translate(651.5,66.71) scale(0.7000,1)" font-family='"Liberation Sans", sans-serif' font-weight="normal" font-size="4.8" text-anchor="start" fill="#1a1a1a">1.5g NB</text>
<line x1="641.2" y1="74.8" x2="651.2" y2="74.8" stroke="#FFA050" stroke-width="1"/>
<circle cx="646.2" cy="74.8" r="1.5" fill="#FF8C24"/>
<text transform="translate(651.5,76.41) scale(0.7000,1)" font-family='"Liberation Sans", sans-serif' font-weight="normal" font-size="4.8" text-anchor="start" fill="#1a1a1a">1.5g Na-B</text>
<line x1="641.2" y1="84.5" x2="651.2" y2="84.5" stroke="#1E2F6A" stroke-width="1"/>
<circle cx="646.2" cy="84.5" r="1.5" fill="#0C1A44"/>
<text transform="translate(651.5,86.11) scale(0.7000,1)" font-family='"Liberation Sans", sans-serif' font-weight="normal" font-size="4.8" text-anchor="start" fill="#1a1a1a">2g NB</text>
<line x1="641.2" y1="94.2" x2="651.2" y2="94.2" stroke="#6A2424" stroke-width="1"/>
<circle cx="646.2" cy="94.2" r="1.5" fill="#380808"/>
<text transform="translate(651.5,95.81) scale(0.7000,1)" font-family='"Liberation Sans", sans-serif' font-weight="normal" font-size="4.8" text-anchor="start" fill="#1a1a1a">2g Na-B</text>
<line x1="27.1" y1="202.26" x2="183.6" y2="202.26" stroke="#F2F2F2" stroke-width="0.8"/>
<line x1="27.1" y1="189.12" x2="183.6" y2="189.12" stroke="#F2F2F2" stroke-width="0.8"/>
<line x1="27.1" y1="175.98" x2="183.6" y2="175.98" stroke="#F2F2F2" stroke-width="0.8"/>
<line x1="27.1" y1="162.84" x2="183.6" y2="162.84" stroke="#F2F2F2" stroke-width="0.8"/>
<line x1="27.1" y1="149.7" x2="183.6" y2="149.7" stroke="#F2F2F2" stroke-width="0.8"/>
<line x1="27.1" y1="149.7" x2="27.1" y2="215.4" stroke="#F0A6AC" stroke-width="0.9"/>
<line x1="26.65" y1="215.4" x2="183.6" y2="215.4" stroke="#F0A6AC" stroke-width="0.9"/>
<line x1="39.14" y1="213.2" x2="39.14" y2="215.4" stroke="#F0A6AC" stroke-width="0.7"/>
<line x1="51.18" y1="213.2" x2="51.18" y2="215.4" stroke="#F0A6AC" stroke-width="0.7"/>
<line x1="63.22" y1="213.2" x2="63.22" y2="215.4" stroke="#F0A6AC" stroke-width="0.7"/>
<line x1="75.25" y1="213.2" x2="75.25" y2="215.4" stroke="#F0A6AC" stroke-width="0.7"/>
<line x1="87.29" y1="213.2" x2="87.29" y2="215.4" stroke="#F0A6AC" stroke-width="0.7"/>
<line x1="99.33" y1="213.2" x2="99.33" y2="215.4" stroke="#F0A6AC" stroke-width="0.7"/>
<line x1="111.37" y1="213.2" x2="111.37" y2="215.4" stroke="#F0A6AC" stroke-width="0.7"/>
<line x1="123.41" y1="213.2" x2="123.41" y2="215.4" stroke="#F0A6AC" stroke-width="0.7"/>
<line x1="135.45" y1="213.2" x2="135.45" y2="215.4" stroke="#F0A6AC" stroke-width="0.7"/>
<line x1="147.48" y1="213.2" x2="147.48" y2="215.4" stroke="#F0A6AC" stroke-width="0.7"/>
<line x1="159.52" y1="213.2" x2="159.52" y2="215.4" stroke="#F0A6AC" stroke-width="0.7"/>
<line x1="171.56" y1="213.2" x2="171.56" y2="215.4" stroke="#F0A6AC" stroke-width="0.7"/>
<line x1="183.6" y1="213.2" x2="183.6" y2="215.4" stroke="#F0A6AC" stroke-width="0.7"/>
<text transform="translate(21.9,217.29) scale(0.8500,1)" font-family='"Liberation Sans", sans-serif' font-weight="normal" font-size="5.4" text-anchor="end" fill="#1a1a1a">0</text>
<text transform="translate(21.9,204.15) scale(0.8500,1)" font-family='"Liberation Sans", sans-serif' font-weight="normal" font-size="5.4" text-anchor="end" fill="#1a1a1a">10</text>
<text transform="translate(21.9,191.01) scale(0.8500,1)" font-family='"Liberation Sans", sans-serif' font-weight="normal" font-size="5.4" text-anchor="end" fill="#1a1a1a">20</text>
<text transform="translate(21.9,177.87) scale(0.8500,1)" font-family='"Liberation Sans", sans-serif' font-weight="normal" font-size="5.4" text-anchor="end" fill="#1a1a1a">30</text>
<text transform="translate(21.9,164.73) scale(0.8500,1)" font-family='"Liberation Sans", sans-serif' font-weight="normal" font-size="5.4" text-anchor="end" fill="#1a1a1a">40</text>
<text transform="translate(21.9,151.59) scale(0.8500,1)" font-family='"Liberation Sans", sans-serif' font-weight="normal" font-size="5.4" text-anchor="end" fill="#1a1a1a">50</text>
<text transform="translate(27.1,224.69) scale(0.8500,1)" font-family='"Liberation Sans", sans-serif' font-weight="normal" font-size="5.4" text-anchor="middle" fill="#1a1a1a">0</text>
<text transform="translate(39.14,224.69) scale(0.8500,1)" font-family='"Liberation Sans", sans-serif' font-weight="normal" font-size="5.4" text-anchor="middle" fill="#1a1a1a">10</text>
<text transform="translate(51.18,224.69) scale(0.8500,1)" font-family='"Liberation Sans", sans-serif' font-weight="normal" font-size="5.4" text-anchor="middle" fill="#1a1a1a">20</text>
<text transform="translate(63.22,224.69) scale(0.8500,1)" font-family='"Liberation Sans", sans-serif' font-weight="normal" font-size="5.4" text-anchor="middle" fill="#1a1a1a">30</text>
<text transform="translate(75.25,224.69) scale(0.8500,1)" font-family='"Liberation Sans", sans-serif' font-weight="normal" font-size="5.4" text-anchor="middle" fill="#1a1a1a">40</text>
<text transform="translate(87.29,224.69) scale(0.8500,1)" font-family='"Liberation Sans", sans-serif' font-weight="normal" font-size="5.4" text-anchor="middle" fill="#1a1a1a">50</text>
<text transform="translate(99.33,224.69) scale(0.8500,1)" font-family='"Liberation Sans", sans-serif' font-weight="normal" font-size="5.4" text-anchor="middle" fill="#1a1a1a">60</text>
<text transform="translate(111.37,224.69) scale(0.8500,1)" font-family='"Liberation Sans", sans-serif' font-weight="normal" font-size="5.4" text-anchor="middle" fill="#1a1a1a">70</text>
<text transform="translate(123.41,224.69) scale(0.8500,1)" font-family='"Liberation Sans", sans-serif' font-weight="normal" font-size="5.4" text-anchor="middle" fill="#1a1a1a">80</text>
<text transform="translate(135.45,224.69) scale(0.8500,1)" font-family='"Liberation Sans", sans-serif' font-weight="normal" font-size="5.4" text-anchor="middle" fill="#1a1a1a">90</text>
<text transform="translate(147.48,224.69) scale(0.8500,1)" font-family='"Liberation Sans", sans-serif' font-weight="normal" font-size="5.4" text-anchor="middle" fill="#1a1a1a">100</text>
<text transform="translate(159.52,224.69) scale(0.8500,1)" font-family='"Liberation Sans", sans-serif' font-weight="normal" font-size="5.4" text-anchor="middle" fill="#1a1a1a">110</text>
<text transform="translate(171.56,224.69) scale(0.8500,1)" font-family='"Liberation Sans", sans-serif' font-weight="normal" font-size="5.4" text-anchor="middle" fill="#1a1a1a">120</text>
<text transform="translate(183.6,224.69) scale(0.8500,1)" font-family='"Liberation Sans", sans-serif' font-weight="normal" font-size="5.4" text-anchor="middle" fill="#1a1a1a">130</text>
<text transform="translate(92.6,234.8) scale(0.7168,1)" font-family='"Liberation Sans", sans-serif' font-weight="bold" font-size="7.2" text-anchor="start" fill="#1a1a1a">Time (min)</text>
<text transform="translate(7,203) rotate(-90) scale(1.2631,1)" font-family='"Liberation Sans", sans-serif' font-weight="normal" font-size="4.8" text-anchor="start" fill="#1a1a1a">Removal %</text>
<text transform="translate(47.4,142.3) scale(0.7363,1)" font-family='"Liberation Serif", serif' font-weight="normal" font-size="8.4" text-anchor="start" fill="#1a1a1a">20 mg/l of IP using different wt. of NB and Na-B</text>
<text transform="translate(3.4,142.6) scale(1.0000,1)" font-family='"Liberation Serif", serif' font-weight="bold" font-size="13.3" text-anchor="start" fill="#000">e</text>
<polyline points="33.12,211.2 39.14,211.46 45.16,208.44 51.18,207.25 57.2,206.2 63.22,204.76 69.23,200.81 75.25,197.14 81.27,197.14 87.29,197.14 99.33,198.06 111.37,198.19 123.41,198.19 135.45,198.19 171.56,198.19" fill="none" stroke="#3E5FC8" stroke-width="1.05" stroke-linejoin="round"/>
<circle cx="33.12" cy="211.2" r="1.5" fill="#0E0E22"/>
<circle cx="39.14" cy="211.46" r="1.5" fill="#0E0E22"/>
<circle cx="45.16" cy="208.44" r="1.5" fill="#0E0E22"/>
<circle cx="51.18" cy="207.25" r="1.5" fill="#0E0E22"/>
<circle cx="57.2" cy="206.2" r="1.5" fill="#0E0E22"/>
<circle cx="63.22" cy="204.76" r="1.5" fill="#0E0E22"/>
<circle cx="69.23" cy="200.81" r="1.5" fill="#0E0E22"/>
<circle cx="75.25" cy="197.14" r="1.5" fill="#0E0E22"/>
<circle cx="81.27" cy="197.14" r="1.5" fill="#0E0E22"/>
<circle cx="87.29" cy="197.14" r="1.5" fill="#0E0E22"/>
<circle cx="99.33" cy="198.06" r="1.5" fill="#0E0E22"/>
<circle cx="111.37" cy="198.19" r="1.5" fill="#0E0E22"/>
<circle cx="123.41" cy="198.19" r="1.5" fill="#0E0E22"/>
<circle cx="135.45" cy="198.19" r="1.5" fill="#0E0E22"/>
<circle cx="171.56" cy="198.19" r="1.5" fill="#0E0E22"/>
<polyline points="33.12,207.12 39.14,207.25 45.16,198.84 51.18,193.98 57.2,187.28 63.22,177.29 69.23,174.8 75.25,172.43 81.27,172.43 87.29,172.43 99.33,173.61 111.37,173.61 123.41,173.61 135.45,173.61 171.56,173.61" fill="none" stroke="#E0262A" stroke-width="1.05" stroke-linejoin="round"/>
<circle cx="33.12" cy="207.12" r="1.5" fill="#E01818"/>
<circle cx="39.14" cy="207.25" r="1.5" fill="#E01818"/>
<circle cx="45.16" cy="198.84" r="1.5" fill="#E01818"/>
<circle cx="51.18" cy="193.98" r="1.5" fill="#E01818"/>
<circle cx="57.2" cy="187.28" r="1.5" fill="#E01818"/>
<circle cx="63.22" cy="177.29" r="1.5" fill="#E01818"/>
<circle cx="69.23" cy="174.8" r="1.5" fill="#E01818"/>
<circle cx="75.25" cy="172.43" r="1.5" fill="#E01818"/>
<circle cx="81.27" cy="172.43" r="1.5" fill="#E01818"/>
<circle cx="87.29" cy="172.43" r="1.5" fill="#E01818"/>
<circle cx="99.33" cy="173.61" r="1.5" fill="#E01818"/>
<circle cx="111.37" cy="173.61" r="1.5" fill="#E01818"/>
<circle cx="123.41" cy="173.61" r="1.5" fill="#E01818"/>
<circle cx="135.45" cy="173.61" r="1.5" fill="#E01818"/>
<circle cx="171.56" cy="173.61" r="1.5" fill="#E01818"/>
<polyline points="33.12,211.98 39.14,212.77 45.16,208.83 51.18,207.91 57.2,205.02 63.22,197.14 69.23,195.95 75.25,193.19 81.27,193.59 87.29,193.59 99.33,193.59 111.37,193.85 123.41,193.85 135.45,193.85 171.56,193.85" fill="none" stroke="#A6E22E" stroke-width="1.05" stroke-linejoin="round"/>
<circle cx="33.12" cy="211.98" r="1.5" fill="#A6E22E"/>
<circle cx="39.14" cy="212.77" r="1.5" fill="#A6E22E"/>
<circle cx="45.16" cy="208.83" r="1.5" fill="#A6E22E"/>
<circle cx="51.18" cy="207.91" r="1.5" fill="#A6E22E"/>
<circle cx="57.2" cy="205.02" r="1.5" fill="#A6E22E"/>
<circle cx="63.22" cy="197.14" r="1.5" fill="#A6E22E"/>
<circle cx="69.23" cy="195.95" r="1.5" fill="#A6E22E"/>
<circle cx="75.25" cy="193.19" r="1.5" fill="#A6E22E"/>
<circle cx="81.27" cy="193.59" r="1.5" fill="#A6E22E"/>
<circle cx="87.29" cy="193.59" r="1.5" fill="#A6E22E"/>
<circle cx="99.33" cy="193.59" r="1.5" fill="#A6E22E"/>
<circle cx="111.37" cy="193.85" r="1.5" fill="#A6E22E"/>
<circle cx="123.41" cy="193.85" r="1.5" fill="#A6E22E"/>
<circle cx="135.45" cy="193.85" r="1.5" fill="#A6E22E"/>
<circle cx="171.56" cy="193.85" r="1.5" fill="#A6E22E"/>
<polyline points="33.12,178.48 39.14,175.98 45.16,174.4 51.18,173.75 57.2,172.43 63.22,171.25 69.23,168.88 75.25,168.1 81.27,168.1 87.29,168.1 99.33,168.62 111.37,168.62 123.41,168.62 135.45,168.62 171.56,168.62" fill="none" stroke="#6A30D2" stroke-width="1.05" stroke-linejoin="round"/>
<circle cx="33.12" cy="178.48" r="1.5" fill="#6A20E0"/>
<circle cx="39.14" cy="175.98" r="1.5" fill="#6A20E0"/>
<circle cx="45.16" cy="174.4" r="1.5" fill="#6A20E0"/>
<circle cx="51.18" cy="173.75" r="1.5" fill="#6A20E0"/>
<circle cx="57.2" cy="172.43" r="1.5" fill="#6A20E0"/>
<circle cx="63.22" cy="171.25" r="1.5" fill="#6A20E0"/>
<circle cx="69.23" cy="168.88" r="1.5" fill="#6A20E0"/>
<circle cx="75.25" cy="168.1" r="1.5" fill="#6A20E0"/>
<circle cx="81.27" cy="168.1" r="1.5" fill="#6A20E0"/>
<circle cx="87.29" cy="168.1" r="1.5" fill="#6A20E0"/>
<circle cx="99.33" cy="168.62" r="1.5" fill="#6A20E0"/>
<circle cx="111.37" cy="168.62" r="1.5" fill="#6A20E0"/>
<circle cx="123.41" cy="168.62" r="1.5" fill="#6A20E0"/>
<circle cx="135.45" cy="168.62" r="1.5" fill="#6A20E0"/>
<circle cx="171.56" cy="168.62" r="1.5" fill="#6A20E0"/>
<polyline points="33.12,211.2 39.14,210.28 45.16,208.83 51.18,207.91 57.2,203.18 63.22,198.97 69.23,194.24 75.25,190.04 81.27,190.04 87.29,190.04 99.33,190.04 111.37,190.04 123.41,190.04 135.45,190.04 171.56,190.04" fill="none" stroke="#2EB6D6" stroke-width="1.05" stroke-linejoin="round"/>
<circle cx="33.12" cy="211.2" r="1.5" fill="#10303A"/>
<circle cx="39.14" cy="210.28" r="1.5" fill="#10303A"/>
<circle cx="45.16" cy="208.83" r="1.5" fill="#10303A"/>
<circle cx="51.18" cy="207.91" r="1.5" fill="#10303A"/>
<circle cx="57.2" cy="203.18" r="1.5" fill="#10303A"/>
<circle cx="63.22" cy="198.97" r="1.5" fill="#10303A"/>
<circle cx="69.23" cy="194.24" r="1.5" fill="#10303A"/>
<circle cx="75.25" cy="190.04" r="1.5" fill="#10303A"/>
<circle cx="81.27" cy="190.04" r="1.5" fill="#10303A"/>
<circle cx="87.29" cy="190.04" r="1.5" fill="#10303A"/>
<circle cx="99.33" cy="190.04" r="1.5" fill="#10303A"/>
<circle cx="111.37" cy="190.04" r="1.5" fill="#10303A"/>
<circle cx="123.41" cy="190.04" r="1.5" fill="#10303A"/>
<circle cx="135.45" cy="190.04" r="1.5" fill="#10303A"/>
<circle cx="171.56" cy="190.04" r="1.5" fill="#10303A"/>
<polyline points="33.12,207.25 39.14,205.55 45.16,197.79 51.18,193.98 57.2,182.02 63.22,169.54 69.23,163.89 75.25,160.34" fill="none" stroke="#FF8C24" stroke-width="1.05" stroke-linejoin="round"/>
<circle cx="33.12" cy="207.25" r="1.5" fill="#FF8C24"/>
<circle cx="39.14" cy="205.55" r="1.5" fill="#FF8C24"/>
<circle cx="45.16" cy="197.79" r="1.5" fill="#FF8C24"/>
<circle cx="51.18" cy="193.98" r="1.5" fill="#FF8C24"/>
<circle cx="57.2" cy="182.02" r="1.5" fill="#FF8C24"/>
<circle cx="63.22" cy="169.54" r="1.5" fill="#FF8C24"/>
<circle cx="69.23" cy="163.89" r="1.5" fill="#FF8C24"/>
<circle cx="75.25" cy="160.34" r="1.5" fill="#FF8C24"/>
<polyline points="33.12,210.28 39.14,209.62 45.16,207.91 51.18,205.94 57.2,198.32 63.22,194.24 69.23,191.22 75.25,188.2 81.27,188.73 87.29,188.73 99.33,188.73 111.37,188.73 123.41,188.73 135.45,188.73 171.56,188.73" fill="none" stroke="#1E2F6A" stroke-width="1.05" stroke-linejoin="round"/>
<circle cx="33.12" cy="210.28" r="1.5" fill="#0C1A44"/>
<circle cx="39.14" cy="209.62" r="1.5" fill="#0C1A44"/>
<circle cx="45.16" cy="207.91" r="1.5" fill="#0C1A44"/>
<circle cx="51.18" cy="205.94" r="1.5" fill="#0C1A44"/>
<circle cx="57.2" cy="198.32" r="1.5" fill="#0C1A44"/>
<circle cx="63.22" cy="194.24" r="1.5" fill="#0C1A44"/>
<circle cx="69.23" cy="191.22" r="1.5" fill="#0C1A44"/>
<circle cx="75.25" cy="188.2" r="1.5" fill="#0C1A44"/>
<circle cx="81.27" cy="188.73" r="1.5" fill="#0C1A44"/>
<circle cx="87.29" cy="188.73" r="1.5" fill="#0C1A44"/>
<circle cx="99.33" cy="188.73" r="1.5" fill="#0C1A44"/>
<circle cx="111.37" cy="188.73" r="1.5" fill="#0C1A44"/>
<circle cx="123.41" cy="188.73" r="1.5" fill="#0C1A44"/>
<circle cx="135.45" cy="188.73" r="1.5" fill="#0C1A44"/>
<circle cx="171.56" cy="188.73" r="1.5" fill="#0C1A44"/>
<polyline points="33.12,205.55 39.14,205.55 45.16,187.67 51.18,178.35 57.2,172.96 63.22,164.42 69.23,160.87 75.25,160.34 81.27,160.34 87.29,160.34 99.33,160.34 111.37,160.34 123.41,160.34 135.45,160.34 171.56,160.34" fill="none" stroke="#5C1C1C" stroke-width="1.05" stroke-linejoin="round"/>
<circle cx="33.12" cy="205.55" r="1.5" fill="#380808"/>
<circle cx="39.14" cy="205.55" r="1.5" fill="#380808"/>
<circle cx="45.16" cy="187.67" r="1.5" fill="#380808"/>
<circle cx="51.18" cy="178.35" r="1.5" fill="#380808"/>
<circle cx="57.2" cy="172.96" r="1.5" fill="#380808"/>
<circle cx="63.22" cy="164.42" r="1.5" fill="#380808"/>
<circle cx="69.23" cy="160.87" r="1.5" fill="#380808"/>
<circle cx="75.25" cy="160.34" r="1.5" fill="#380808"/>
<circle cx="81.27" cy="160.34" r="1.5" fill="#380808"/>
<circle cx="87.29" cy="160.34" r="1.5" fill="#380808"/>
<circle cx="99.33" cy="160.34" r="1.5" fill="#380808"/>
<circle cx="111.37" cy="160.34" r="1.5" fill="#380808"/>
<circle cx="123.41" cy="160.34" r="1.5" fill="#380808"/>
<circle cx="135.45" cy="160.34" r="1.5" fill="#380808"/>
<circle cx="171.56" cy="160.34" r="1.5" fill="#380808"/>
<line x1="187.8" y1="152.5" x2="196.4" y2="152.5" stroke="#4A6ACF" stroke-width="1"/>
<circle cx="192.1" cy="152.5" r="1.5" fill="#0E0E22"/>
<text transform="translate(197.4,154.18) scale(0.6800,1)" font-family='"Liberation Sans", sans-serif' font-weight="normal" font-size="5" text-anchor="start" fill="#1a1a1a">0.5g NB</text>
<line x1="187.8" y1="161.07" x2="196.4" y2="161.07" stroke="#E0404A" stroke-width="1"/>
<circle cx="192.1" cy="161.07" r="1.5" fill="#E01818"/>
<text transform="translate(197.4,162.75) scale(0.6800,1)" font-family='"Liberation Sans", sans-serif' font-weight="normal" font-size="5" text-anchor="start" fill="#1a1a1a">0.5g Na-B</text>
<line x1="187.8" y1="169.64" x2="196.4" y2="169.64" stroke="#A6E22E" stroke-width="1"/>
<circle cx="192.1" cy="169.64" r="1.5" fill="#A6E22E"/>
<text transform="translate(197.4,171.31) scale(0.6800,1)" font-family='"Liberation Sans", sans-serif' font-weight="normal" font-size="5" text-anchor="start" fill="#1a1a1a">1g NB</text>
<line x1="187.8" y1="178.21" x2="196.4" y2="178.21" stroke="#5A30C8" stroke-width="1"/>
<circle cx="192.1" cy="178.21" r="1.5" fill="#6A20E0"/>
<text transform="translate(197.4,179.89) scale(0.6800,1)" font-family='"Liberation Sans", sans-serif' font-weight="normal" font-size="5" text-anchor="start" fill="#1a1a1a">1g Na-B</text>
<line x1="187.8" y1="186.78" x2="196.4" y2="186.78" stroke="#40B8E0" stroke-width="1"/>
<circle cx="192.1" cy="186.78" r="1.5" fill="#10303A"/>
<text transform="translate(197.4,188.46) scale(0.6800,1)" font-family='"Liberation Sans", sans-serif' font-weight="normal" font-size="5" text-anchor="start" fill="#1a1a1a">1.5g NB</text>
<line x1="187.8" y1="195.35" x2="196.4" y2="195.35" stroke="#FFA050" stroke-width="1"/>
<circle cx="192.1" cy="195.35" r="1.5" fill="#FF8C24"/>
<text transform="translate(197.4,197.03) scale(0.6800,1)" font-family='"Liberation Sans", sans-serif' font-weight="normal" font-size="5" text-anchor="start" fill="#1a1a1a">1.5g Na-B</text>
<line x1="187.8" y1="203.92" x2="196.4" y2="203.92" stroke="#1E2F6A" stroke-width="1"/>
<circle cx="192.1" cy="203.92" r="1.5" fill="#0C1A44"/>
<text transform="translate(197.4,205.6) scale(0.6800,1)" font-family='"Liberation Sans", sans-serif' font-weight="normal" font-size="5" text-anchor="start" fill="#1a1a1a">2g NB</text>
<line x1="187.8" y1="212.49" x2="196.4" y2="212.49" stroke="#6A2424" stroke-width="1"/>
<circle cx="192.1" cy="212.49" r="1.5" fill="#380808"/>
<text transform="translate(197.4,214.17) scale(0.6800,1)" font-family='"Liberation Sans", sans-serif' font-weight="normal" font-size="5" text-anchor="start" fill="#1a1a1a">2g Na-B</text>
<line x1="251.2" y1="202.98" x2="415" y2="202.98" stroke="#F2F2F2" stroke-width="0.8"/>
<line x1="251.2" y1="189.46" x2="415" y2="189.46" stroke="#F2F2F2" stroke-width="0.8"/>
<line x1="251.2" y1="175.94" x2="415" y2="175.94" stroke="#F2F2F2" stroke-width="0.8"/>
<line x1="251.2" y1="162.42" x2="415" y2="162.42" stroke="#F2F2F2" stroke-width="0.8"/>
<line x1="251.2" y1="148.9" x2="415" y2="148.9" stroke="#F2F2F2" stroke-width="0.8"/>
<line x1="251.2" y1="148.9" x2="251.2" y2="216.5" stroke="#F0A6AC" stroke-width="0.9"/>
<line x1="250.75" y1="216.5" x2="415" y2="216.5" stroke="#F0A6AC" stroke-width="0.9"/>
<line x1="263.8" y1="214.3" x2="263.8" y2="216.5" stroke="#F0A6AC" stroke-width="0.7"/>
<line x1="276.4" y1="214.3" x2="276.4" y2="216.5" stroke="#F0A6AC" stroke-width="0.7"/>
<line x1="289" y1="214.3" x2="289" y2="216.5" stroke="#F0A6AC" stroke-width="0.7"/>
<line x1="301.6" y1="214.3" x2="301.6" y2="216.5" stroke="#F0A6AC" stroke-width="0.7"/>
<line x1="314.2" y1="214.3" x2="314.2" y2="216.5" stroke="#F0A6AC" stroke-width="0.7"/>
<line x1="326.8" y1="214.3" x2="326.8" y2="216.5" stroke="#F0A6AC" stroke-width="0.7"/>
<line x1="339.4" y1="214.3" x2="339.4" y2="216.5" stroke="#F0A6AC" stroke-width="0.7"/>
<line x1="352" y1="214.3" x2="352" y2="216.5" stroke="#F0A6AC" stroke-width="0.7"/>
<line x1="364.6" y1="214.3" x2="364.6" y2="216.5" stroke="#F0A6AC" stroke-width="0.7"/>
<line x1="377.2" y1="214.3" x2="377.2" y2="216.5" stroke="#F0A6AC" stroke-width="0.7"/>
<line x1="389.8" y1="214.3" x2="389.8" y2="216.5" stroke="#F0A6AC" stroke-width="0.7"/>
<line x1="402.4" y1="214.3" x2="402.4" y2="216.5" stroke="#F0A6AC" stroke-width="0.7"/>
<line x1="415" y1="214.3" x2="415" y2="216.5" stroke="#F0A6AC" stroke-width="0.7"/>
<text transform="translate(246.7,218.39) scale(0.8500,1)" font-family='"Liberation Sans", sans-serif' font-weight="normal" font-size="5.4" text-anchor="end" fill="#1a1a1a">0</text>
<text transform="translate(246.7,204.87) scale(0.8500,1)" font-family='"Liberation Sans", sans-serif' font-weight="normal" font-size="5.4" text-anchor="end" fill="#1a1a1a">20</text>
<text transform="translate(246.7,191.35) scale(0.8500,1)" font-family='"Liberation Sans", sans-serif' font-weight="normal" font-size="5.4" text-anchor="end" fill="#1a1a1a">40</text>
<text transform="translate(246.7,177.83) scale(0.8500,1)" font-family='"Liberation Sans", sans-serif' font-weight="normal" font-size="5.4" text-anchor="end" fill="#1a1a1a">60</text>
<text transform="translate(246.7,164.31) scale(0.8500,1)" font-family='"Liberation Sans", sans-serif' font-weight="normal" font-size="5.4" text-anchor="end" fill="#1a1a1a">80</text>
<text transform="translate(246.7,150.79) scale(0.8500,1)" font-family='"Liberation Sans", sans-serif' font-weight="normal" font-size="5.4" text-anchor="end" fill="#1a1a1a">100</text>
<text transform="translate(251.2,226.69) scale(0.8500,1)" font-family='"Liberation Sans", sans-serif' font-weight="normal" font-size="5.4" text-anchor="middle" fill="#1a1a1a">0</text>
<text transform="translate(263.8,226.69) scale(0.8500,1)" font-family='"Liberation Sans", sans-serif' font-weight="normal" font-size="5.4" text-anchor="middle" fill="#1a1a1a">10</text>
<text transform="translate(276.4,226.69) scale(0.8500,1)" font-family='"Liberation Sans", sans-serif' font-weight="normal" font-size="5.4" text-anchor="middle" fill="#1a1a1a">20</text>
<text transform="translate(289,226.69) scale(0.8500,1)" font-family='"Liberation Sans", sans-serif' font-weight="normal" font-size="5.4" text-anchor="middle" fill="#1a1a1a">30</text>
<text transform="translate(301.6,226.69) scale(0.8500,1)" font-family='"Liberation Sans", sans-serif' font-weight="normal" font-size="5.4" text-anchor="middle" fill="#1a1a1a">40</text>
<text transform="translate(314.2,226.69) scale(0.8500,1)" font-family='"Liberation Sans", sans-serif' font-weight="normal" font-size="5.4" text-anchor="middle" fill="#1a1a1a">50</text>
<text transform="translate(326.8,226.69) scale(0.8500,1)" font-family='"Liberation Sans", sans-serif' font-weight="normal" font-size="5.4" text-anchor="middle" fill="#1a1a1a">60</text>
<text transform="translate(339.4,226.69) scale(0.8500,1)" font-family='"Liberation Sans", sans-serif' font-weight="normal" font-size="5.4" text-anchor="middle" fill="#1a1a1a">70</text>
<text transform="translate(352,226.69) scale(0.8500,1)" font-family='"Liberation Sans", sans-serif' font-weight="normal" font-size="5.4" text-anchor="middle" fill="#1a1a1a">80</text>
<text transform="translate(364.6,226.69) scale(0.8500,1)" font-family='"Liberation Sans", sans-serif' font-weight="normal" font-size="5.4" text-anchor="middle" fill="#1a1a1a">90</text>
<text transform="translate(377.2,226.69) scale(0.8500,1)" font-family='"Liberation Sans", sans-serif' font-weight="normal" font-size="5.4" text-anchor="middle" fill="#1a1a1a">100</text>
<text transform="translate(389.8,226.69) scale(0.8500,1)" font-family='"Liberation Sans", sans-serif' font-weight="normal" font-size="5.4" text-anchor="middle" fill="#1a1a1a">110</text>
<text transform="translate(402.4,226.69) scale(0.8500,1)" font-family='"Liberation Sans", sans-serif' font-weight="normal" font-size="5.4" text-anchor="middle" fill="#1a1a1a">120</text>
<text transform="translate(415,226.69) scale(0.8500,1)" font-family='"Liberation Sans", sans-serif' font-weight="normal" font-size="5.4" text-anchor="middle" fill="#1a1a1a">130</text>
<text transform="translate(321.4,236.2) scale(0.6451,1)" font-family='"Liberation Sans", sans-serif' font-weight="bold" font-size="7.2" text-anchor="start" fill="#1a1a1a">Time (min)</text>
<text transform="translate(233.6,202.1) rotate(-90) scale(1.2020,1)" font-family='"Liberation Sans", sans-serif' font-weight="normal" font-size="4.8" text-anchor="start" fill="#1a1a1a">Removal %</text>
<text transform="translate(277.4,140.6) scale(0.7750,1)" font-family='"Liberation Serif", serif' font-weight="normal" font-size="8" text-anchor="start" fill="#1a1a1a">1 mg/l of OP using different wt. of NB and Na-B</text>
<text transform="translate(226.4,141.8) scale(1.0000,1)" font-family='"Liberation Serif", serif' font-weight="bold" font-size="12.8" text-anchor="start" fill="#000">f</text>
<polyline points="257.5,213.12 263.8,211.36 270.1,208.05 276.4,205.48 282.7,204.47 289,203.72 295.3,203.32 301.6,202.51 307.9,202.24 314.2,201.29 326.8,202.51 339.4,203.72 352,201.97 364.6,202.44 402.4,202.44" fill="none" stroke="#3E5FC8" stroke-width="1.05" stroke-linejoin="round"/>
<circle cx="257.5" cy="213.12" r="1.5" fill="#0E0E22"/>
<circle cx="263.8" cy="211.36" r="1.5" fill="#0E0E22"/>
<circle cx="270.1" cy="208.05" r="1.5" fill="#0E0E22"/>
<circle cx="276.4" cy="205.48" r="1.5" fill="#0E0E22"/>
<circle cx="282.7" cy="204.47" r="1.5" fill="#0E0E22"/>
<circle cx="289" cy="203.72" r="1.5" fill="#0E0E22"/>
<circle cx="295.3" cy="203.32" r="1.5" fill="#0E0E22"/>
<circle cx="301.6" cy="202.51" r="1.5" fill="#0E0E22"/>
<circle cx="307.9" cy="202.24" r="1.5" fill="#0E0E22"/>
<circle cx="314.2" cy="201.29" r="1.5" fill="#0E0E22"/>
<circle cx="326.8" cy="202.51" r="1.5" fill="#0E0E22"/>
<circle cx="339.4" cy="203.72" r="1.5" fill="#0E0E22"/>
<circle cx="352" cy="201.97" r="1.5" fill="#0E0E22"/>
<circle cx="364.6" cy="202.44" r="1.5" fill="#0E0E22"/>
<circle cx="402.4" cy="202.44" r="1.5" fill="#0E0E22"/>
<polyline points="257.5,205.68 263.8,202.1 270.1,200.28 276.4,196.08 282.7,192.57 289,189.46 295.3,187.43 301.6,185.4 307.9,184.53 314.2,182.97 326.8,183.71 339.4,184.32 352,183.38 364.6,185.2 402.4,184.12" fill="none" stroke="#E0262A" stroke-width="1.05" stroke-linejoin="round"/>
<circle cx="257.5" cy="205.68" r="1.5" fill="#E01818"/>
<circle cx="263.8" cy="202.1" r="1.5" fill="#E01818"/>
<circle cx="270.1" cy="200.28" r="1.5" fill="#E01818"/>
<circle cx="276.4" cy="196.08" r="1.5" fill="#E01818"/>
<circle cx="282.7" cy="192.57" r="1.5" fill="#E01818"/>
<circle cx="289" cy="189.46" r="1.5" fill="#E01818"/>
<circle cx="295.3" cy="187.43" r="1.5" fill="#E01818"/>
<circle cx="301.6" cy="185.4" r="1.5" fill="#E01818"/>
<circle cx="307.9" cy="184.53" r="1.5" fill="#E01818"/>
<circle cx="314.2" cy="182.97" r="1.5" fill="#E01818"/>
<circle cx="326.8" cy="183.71" r="1.5" fill="#E01818"/>
<circle cx="339.4" cy="184.32" r="1.5" fill="#E01818"/>
<circle cx="352" cy="183.38" r="1.5" fill="#E01818"/>
<circle cx="364.6" cy="185.2" r="1.5" fill="#E01818"/>
<circle cx="402.4" cy="184.12" r="1.5" fill="#E01818"/>
<polyline points="257.5,213.46 263.8,211.36 270.1,208.79 276.4,207.04 282.7,205.01 289,203.72 295.3,200.95 301.6,198.65 307.9,197.23 314.2,194.87 326.8,196.56 339.4,196.56 352,196.56 364.6,196.56 402.4,196.56" fill="none" stroke="#A6E22E" stroke-width="1.05" stroke-linejoin="round"/>
<circle cx="257.5" cy="213.46" r="1.5" fill="#A6E22E"/>
<circle cx="263.8" cy="211.36" r="1.5" fill="#A6E22E"/>
<circle cx="270.1" cy="208.79" r="1.5" fill="#A6E22E"/>
<circle cx="276.4" cy="207.04" r="1.5" fill="#A6E22E"/>
<circle cx="282.7" cy="205.01" r="1.5" fill="#A6E22E"/>
<circle cx="289" cy="203.72" r="1.5" fill="#A6E22E"/>
<circle cx="295.3" cy="200.95" r="1.5" fill="#A6E22E"/>
<circle cx="301.6" cy="198.65" r="1.5" fill="#A6E22E"/>
<circle cx="307.9" cy="197.23" r="1.5" fill="#A6E22E"/>
<circle cx="314.2" cy="194.87" r="1.5" fill="#A6E22E"/>
<circle cx="326.8" cy="196.56" r="1.5" fill="#A6E22E"/>
<circle cx="339.4" cy="196.56" r="1.5" fill="#A6E22E"/>
<circle cx="352" cy="196.56" r="1.5" fill="#A6E22E"/>
<circle cx="364.6" cy="196.56" r="1.5" fill="#A6E22E"/>
<circle cx="402.4" cy="196.56" r="1.5" fill="#A6E22E"/>
<polyline points="257.5,212.31 263.8,210.48 270.1,207.51 276.4,205.08 282.7,202.1 289,196.08 295.3,190.81 301.6,185 307.9,175.8 314.2,173.98 326.8,175.8 339.4,175.8 352,177.09 364.6,175.8 402.4,173.98" fill="none" stroke="#6A30D2" stroke-width="1.05" stroke-linejoin="round"/>
<circle cx="257.5" cy="212.31" r="1.5" fill="#6A20E0"/>
<circle cx="263.8" cy="210.48" r="1.5" fill="#6A20E0"/>
<circle cx="270.1" cy="207.51" r="1.5" fill="#6A20E0"/>
<circle cx="276.4" cy="205.08" r="1.5" fill="#6A20E0"/>
<circle cx="282.7" cy="202.1" r="1.5" fill="#6A20E0"/>
<circle cx="289" cy="196.08" r="1.5" fill="#6A20E0"/>
<circle cx="295.3" cy="190.81" r="1.5" fill="#6A20E0"/>
<circle cx="301.6" cy="185" r="1.5" fill="#6A20E0"/>
<circle cx="307.9" cy="175.8" r="1.5" fill="#6A20E0"/>
<circle cx="314.2" cy="173.98" r="1.5" fill="#6A20E0"/>
<circle cx="326.8" cy="175.8" r="1.5" fill="#6A20E0"/>
<circle cx="339.4" cy="175.8" r="1.5" fill="#6A20E0"/>
<circle cx="352" cy="177.09" r="1.5" fill="#6A20E0"/>
<circle cx="364.6" cy="175.8" r="1.5" fill="#6A20E0"/>
<circle cx="402.4" cy="173.98" r="1.5" fill="#6A20E0"/>
<polyline points="257.5,213.86 263.8,212.11 270.1,209.54 276.4,207.04 282.7,205.48 289,203.72 295.3,200.41 301.6,198.25 307.9,196.69 314.2,195 326.8,195.54 339.4,195.54 352,195.54 364.6,195.54 402.4,195.54" fill="none" stroke="#2EB6D6" stroke-width="1.05" stroke-linejoin="round"/>
<circle cx="257.5" cy="213.86" r="1.5" fill="#10303A"/>
<circle cx="263.8" cy="212.11" r="1.5" fill="#10303A"/>
<circle cx="270.1" cy="209.54" r="1.5" fill="#10303A"/>
<circle cx="276.4" cy="207.04" r="1.5" fill="#10303A"/>
<circle cx="282.7" cy="205.48" r="1.5" fill="#10303A"/>
<circle cx="289" cy="203.72" r="1.5" fill="#10303A"/>
<circle cx="295.3" cy="200.41" r="1.5" fill="#10303A"/>
<circle cx="301.6" cy="198.25" r="1.5" fill="#10303A"/>
<circle cx="307.9" cy="196.69" r="1.5" fill="#10303A"/>
<circle cx="314.2" cy="195" r="1.5" fill="#10303A"/>
<circle cx="326.8" cy="195.54" r="1.5" fill="#10303A"/>
<circle cx="339.4" cy="195.54" r="1.5" fill="#10303A"/>
<circle cx="352" cy="195.54" r="1.5" fill="#10303A"/>
<circle cx="364.6" cy="195.54" r="1.5" fill="#10303A"/>
<circle cx="402.4" cy="195.54" r="1.5" fill="#10303A"/>
<polyline points="257.5,207.51 263.8,203.93 270.1,200.95 276.4,196.08 282.7,194.12 289,191.42 295.3,187.77 301.6,177.56 307.9,170.73 314.2,167.63 326.8,168.91 339.4,169.38 352,169.38 364.6,168.91 402.4,168.91" fill="none" stroke="#FF8C24" stroke-width="1.05" stroke-linejoin="round"/>
<circle cx="257.5" cy="207.51" r="1.5" fill="#FF8C24"/>
<circle cx="263.8" cy="203.93" r="1.5" fill="#FF8C24"/>
<circle cx="270.1" cy="200.95" r="1.5" fill="#FF8C24"/>
<circle cx="276.4" cy="196.08" r="1.5" fill="#FF8C24"/>
<circle cx="282.7" cy="194.12" r="1.5" fill="#FF8C24"/>
<circle cx="289" cy="191.42" r="1.5" fill="#FF8C24"/>
<circle cx="295.3" cy="187.77" r="1.5" fill="#FF8C24"/>
<circle cx="301.6" cy="177.56" r="1.5" fill="#FF8C24"/>
<circle cx="307.9" cy="170.73" r="1.5" fill="#FF8C24"/>
<circle cx="314.2" cy="167.63" r="1.5" fill="#FF8C24"/>
<circle cx="326.8" cy="168.91" r="1.5" fill="#FF8C24"/>
<circle cx="339.4" cy="169.38" r="1.5" fill="#FF8C24"/>
<circle cx="352" cy="169.38" r="1.5" fill="#FF8C24"/>
<circle cx="364.6" cy="168.91" r="1.5" fill="#FF8C24"/>
<circle cx="402.4" cy="168.91" r="1.5" fill="#FF8C24"/>
<polyline points="257.5,214.07 263.8,212.11 270.1,209.88 276.4,206.9 282.7,205.35 289,203.32 295.3,199.67 301.6,197.91 307.9,194.6 314.2,190.47 326.8,192.16 339.4,192.16 352,191.01 364.6,192.16 402.4,191.01" fill="none" stroke="#1E2F6A" stroke-width="1.05" stroke-linejoin="round"/>
<circle cx="257.5" cy="214.07" r="1.5" fill="#0C1A44"/>
<circle cx="263.8" cy="212.11" r="1.5" fill="#0C1A44"/>
<circle cx="270.1" cy="209.88" r="1.5" fill="#0C1A44"/>
<circle cx="276.4" cy="206.9" r="1.5" fill="#0C1A44"/>
<circle cx="282.7" cy="205.35" r="1.5" fill="#0C1A44"/>
<circle cx="289" cy="203.32" r="1.5" fill="#0C1A44"/>
<circle cx="295.3" cy="199.67" r="1.5" fill="#0C1A44"/>
<circle cx="301.6" cy="197.91" r="1.5" fill="#0C1A44"/>
<circle cx="307.9" cy="194.6" r="1.5" fill="#0C1A44"/>
<circle cx="314.2" cy="190.47" r="1.5" fill="#0C1A44"/>
<circle cx="326.8" cy="192.16" r="1.5" fill="#0C1A44"/>
<circle cx="339.4" cy="192.16" r="1.5" fill="#0C1A44"/>
<circle cx="352" cy="191.01" r="1.5" fill="#0C1A44"/>
<circle cx="364.6" cy="192.16" r="1.5" fill="#0C1A44"/>
<circle cx="402.4" cy="191.01" r="1.5" fill="#0C1A44"/>
<polyline points="257.5,208.73 263.8,207.31 270.1,203.32 276.4,197.91 282.7,192.57 289,187.23 295.3,177.09 301.6,171.48 307.9,165.6 314.2,161.07 326.8,162.28 339.4,162.56 352,161.81 364.6,161.81 402.4,161.27" fill="none" stroke="#5C1C1C" stroke-width="1.05" stroke-linejoin="round"/>
<circle cx="257.5" cy="208.73" r="1.5" fill="#380808"/>
<circle cx="263.8" cy="207.31" r="1.5" fill="#380808"/>
<circle cx="270.1" cy="203.32" r="1.5" fill="#380808"/>
<circle cx="276.4" cy="197.91" r="1.5" fill="#380808"/>
<circle cx="282.7" cy="192.57" r="1.5" fill="#380808"/>
<circle cx="289" cy="187.23" r="1.5" fill="#380808"/>
<circle cx="295.3" cy="177.09" r="1.5" fill="#380808"/>
<circle cx="301.6" cy="171.48" r="1.5" fill="#380808"/>
<circle cx="307.9" cy="165.6" r="1.5" fill="#380808"/>
<circle cx="314.2" cy="161.07" r="1.5" fill="#380808"/>
<circle cx="326.8" cy="162.28" r="1.5" fill="#380808"/>
<circle cx="339.4" cy="162.56" r="1.5" fill="#380808"/>
<circle cx="352" cy="161.81" r="1.5" fill="#380808"/>
<circle cx="364.6" cy="161.81" r="1.5" fill="#380808"/>
<circle cx="402.4" cy="161.27" r="1.5" fill="#380808"/>
<line x1="419.6" y1="151" x2="429.1" y2="151" stroke="#4A6ACF" stroke-width="1"/>
<circle cx="424.35" cy="151" r="1.5" fill="#0E0E22"/>
<text transform="translate(430.2,152.78) scale(0.7200,1)" font-family='"Liberation Sans", sans-serif' font-weight="normal" font-size="5.3" text-anchor="start" fill="#1a1a1a">0.5g NB</text>
<line x1="419.6" y1="160.2" x2="429.1" y2="160.2" stroke="#E0404A" stroke-width="1"/>
<circle cx="424.35" cy="160.2" r="1.5" fill="#E01818"/>
<text transform="translate(430.2,161.98) scale(0.7200,1)" font-family='"Liberation Sans", sans-serif' font-weight="normal" font-size="5.3" text-anchor="start" fill="#1a1a1a">0.5g Na-B</text>
<line x1="419.6" y1="169.4" x2="429.1" y2="169.4" stroke="#A6E22E" stroke-width="1"/>
<circle cx="424.35" cy="169.4" r="1.5" fill="#A6E22E"/>
<text transform="translate(430.2,171.18) scale(0.7200,1)" font-family='"Liberation Sans", sans-serif' font-weight="normal" font-size="5.3" text-anchor="start" fill="#1a1a1a">1g NB</text>
<line x1="419.6" y1="178.6" x2="429.1" y2="178.6" stroke="#5A30C8" stroke-width="1"/>
<circle cx="424.35" cy="178.6" r="1.5" fill="#6A20E0"/>
<text transform="translate(430.2,180.38) scale(0.7200,1)" font-family='"Liberation Sans", sans-serif' font-weight="normal" font-size="5.3" text-anchor="start" fill="#1a1a1a">1g Na-B</text>
<line x1="419.6" y1="187.8" x2="429.1" y2="187.8" stroke="#40B8E0" stroke-width="1"/>
<circle cx="424.35" cy="187.8" r="1.5" fill="#10303A"/>
<text transform="translate(430.2,189.58) scale(0.7200,1)" font-family='"Liberation Sans", sans-serif' font-weight="normal" font-size="5.3" text-anchor="start" fill="#1a1a1a">1.5g NB</text>
<line x1="419.6" y1="197" x2="429.1" y2="197" stroke="#FFA050" stroke-width="1"/>
<circle cx="424.35" cy="197" r="1.5" fill="#FF8C24"/>
<text transform="translate(430.2,198.78) scale(0.7200,1)" font-family='"Liberation Sans", sans-serif' font-weight="normal" font-size="5.3" text-anchor="start" fill="#1a1a1a">1.5g Na-B</text>
<line x1="419.6" y1="206.2" x2="429.1" y2="206.2" stroke="#1E2F6A" stroke-width="1"/>
<circle cx="424.35" cy="206.2" r="1.5" fill="#0C1A44"/>
<text transform="translate(430.2,207.98) scale(0.7200,1)" font-family='"Liberation Sans", sans-serif' font-weight="normal" font-size="5.3" text-anchor="start" fill="#1a1a1a">2g NB</text>
<line x1="419.6" y1="215.4" x2="429.1" y2="215.4" stroke="#6A2424" stroke-width="1"/>
<circle cx="424.35" cy="215.4" r="1.5" fill="#380808"/>
<text transform="translate(430.2,217.18) scale(0.7200,1)" font-family='"Liberation Sans", sans-serif' font-weight="normal" font-size="5.3" text-anchor="start" fill="#1a1a1a">2g Na-B</text>
<line x1="483.2" y1="202.7" x2="634" y2="202.7" stroke="#F2F2F2" stroke-width="0.8"/>
<line x1="483.2" y1="194.3" x2="634" y2="194.3" stroke="#F2F2F2" stroke-width="0.8"/>
<line x1="483.2" y1="185.9" x2="634" y2="185.9" stroke="#F2F2F2" stroke-width="0.8"/>
<line x1="483.2" y1="177.5" x2="634" y2="177.5" stroke="#F2F2F2" stroke-width="0.8"/>
<line x1="483.2" y1="169.1" x2="634" y2="169.1" stroke="#F2F2F2" stroke-width="0.8"/>
<line x1="483.2" y1="160.7" x2="634" y2="160.7" stroke="#F2F2F2" stroke-width="0.8"/>
<line x1="483.2" y1="152.3" x2="634" y2="152.3" stroke="#F2F2F2" stroke-width="0.8"/>
<line x1="483.2" y1="143.9" x2="634" y2="143.9" stroke="#F2F2F2" stroke-width="0.8"/>
<line x1="483.2" y1="143.9" x2="483.2" y2="211.1" stroke="#F0A6AC" stroke-width="0.9"/>
<line x1="482.75" y1="211.1" x2="634" y2="211.1" stroke="#F0A6AC" stroke-width="0.9"/>
<line x1="494.8" y1="208.9" x2="494.8" y2="211.1" stroke="#F0A6AC" stroke-width="0.7"/>
<line x1="506.4" y1="208.9" x2="506.4" y2="211.1" stroke="#F0A6AC" stroke-width="0.7"/>
<line x1="518" y1="208.9" x2="518" y2="211.1" stroke="#F0A6AC" stroke-width="0.7"/>
<line x1="529.6" y1="208.9" x2="529.6" y2="211.1" stroke="#F0A6AC" stroke-width="0.7"/>
<line x1="541.2" y1="208.9" x2="541.2" y2="211.1" stroke="#F0A6AC" stroke-width="0.7"/>
<line x1="552.8" y1="208.9" x2="552.8" y2="211.1" stroke="#F0A6AC" stroke-width="0.7"/>
<line x1="564.4" y1="208.9" x2="564.4" y2="211.1" stroke="#F0A6AC" stroke-width="0.7"/>
<line x1="576" y1="208.9" x2="576" y2="211.1" stroke="#F0A6AC" stroke-width="0.7"/>
<line x1="587.6" y1="208.9" x2="587.6" y2="211.1" stroke="#F0A6AC" stroke-width="0.7"/>
<line x1="599.2" y1="208.9" x2="599.2" y2="211.1" stroke="#F0A6AC" stroke-width="0.7"/>
<line x1="610.8" y1="208.9" x2="610.8" y2="211.1" stroke="#F0A6AC" stroke-width="0.7"/>
<line x1="622.4" y1="208.9" x2="622.4" y2="211.1" stroke="#F0A6AC" stroke-width="0.7"/>
<line x1="634" y1="208.9" x2="634" y2="211.1" stroke="#F0A6AC" stroke-width="0.7"/>
<text transform="translate(478.5,212.99) scale(0.8500,1)" font-family='"Liberation Sans", sans-serif' font-weight="normal" font-size="5.4" text-anchor="end" fill="#1a1a1a">0</text>
<text transform="translate(478.5,204.59) scale(0.8500,1)" font-family='"Liberation Sans", sans-serif' font-weight="normal" font-size="5.4" text-anchor="end" fill="#1a1a1a">10</text>
<text transform="translate(478.5,196.19) scale(0.8500,1)" font-family='"Liberation Sans", sans-serif' font-weight="normal" font-size="5.4" text-anchor="end" fill="#1a1a1a">20</text>
<text transform="translate(478.5,187.79) scale(0.8500,1)" font-family='"Liberation Sans", sans-serif' font-weight="normal" font-size="5.4" text-anchor="end" fill="#1a1a1a">30</text>
<text transform="translate(478.5,179.39) scale(0.8500,1)" font-family='"Liberation Sans", sans-serif' font-weight="normal" font-size="5.4" text-anchor="end" fill="#1a1a1a">40</text>
<text transform="translate(478.5,170.99) scale(0.8500,1)" font-family='"Liberation Sans", sans-serif' font-weight="normal" font-size="5.4" text-anchor="end" fill="#1a1a1a">50</text>
<text transform="translate(478.5,162.59) scale(0.8500,1)" font-family='"Liberation Sans", sans-serif' font-weight="normal" font-size="5.4" text-anchor="end" fill="#1a1a1a">60</text>
<text transform="translate(478.5,154.19) scale(0.8500,1)" font-family='"Liberation Sans", sans-serif' font-weight="normal" font-size="5.4" text-anchor="end" fill="#1a1a1a">70</text>
<text transform="translate(478.5,145.79) scale(0.8500,1)" font-family='"Liberation Sans", sans-serif' font-weight="normal" font-size="5.4" text-anchor="end" fill="#1a1a1a">80</text>
<text transform="translate(483.2,221.19) scale(0.8500,1)" font-family='"Liberation Sans", sans-serif' font-weight="normal" font-size="5.4" text-anchor="middle" fill="#1a1a1a">0</text>
<text transform="translate(494.8,221.19) scale(0.8500,1)" font-family='"Liberation Sans", sans-serif' font-weight="normal" font-size="5.4" text-anchor="middle" fill="#1a1a1a">10</text>
<text transform="translate(506.4,221.19) scale(0.8500,1)" font-family='"Liberation Sans", sans-serif' font-weight="normal" font-size="5.4" text-anchor="middle" fill="#1a1a1a">20</text>
<text transform="translate(518,221.19) scale(0.8500,1)" font-family='"Liberation Sans", sans-serif' font-weight="normal" font-size="5.4" text-anchor="middle" fill="#1a1a1a">30</text>
<text transform="translate(529.6,221.19) scale(0.8500,1)" font-family='"Liberation Sans", sans-serif' font-weight="normal" font-size="5.4" text-anchor="middle" fill="#1a1a1a">40</text>
<text transform="translate(541.2,221.19) scale(0.8500,1)" font-family='"Liberation Sans", sans-serif' font-weight="normal" font-size="5.4" text-anchor="middle" fill="#1a1a1a">50</text>
<text transform="translate(552.8,221.19) scale(0.8500,1)" font-family='"Liberation Sans", sans-serif' font-weight="normal" font-size="5.4" text-anchor="middle" fill="#1a1a1a">60</text>
<text transform="translate(564.4,221.19) scale(0.8500,1)" font-family='"Liberation Sans", sans-serif' font-weight="normal" font-size="5.4" text-anchor="middle" fill="#1a1a1a">70</text>
<text transform="translate(576,221.19) scale(0.8500,1)" font-family='"Liberation Sans", sans-serif' font-weight="normal" font-size="5.4" text-anchor="middle" fill="#1a1a1a">80</text>
<text transform="translate(587.6,221.19) scale(0.8500,1)" font-family='"Liberation Sans", sans-serif' font-weight="normal" font-size="5.4" text-anchor="middle" fill="#1a1a1a">90</text>
<text transform="translate(599.2,221.19) scale(0.8500,1)" font-family='"Liberation Sans", sans-serif' font-weight="normal" font-size="5.4" text-anchor="middle" fill="#1a1a1a">100</text>
<text transform="translate(610.8,221.19) scale(0.8500,1)" font-family='"Liberation Sans", sans-serif' font-weight="normal" font-size="5.4" text-anchor="middle" fill="#1a1a1a">110</text>
<text transform="translate(622.4,221.19) scale(0.8500,1)" font-family='"Liberation Sans", sans-serif' font-weight="normal" font-size="5.4" text-anchor="middle" fill="#1a1a1a">120</text>
<text transform="translate(634,221.19) scale(0.8500,1)" font-family='"Liberation Sans", sans-serif' font-weight="normal" font-size="5.4" text-anchor="middle" fill="#1a1a1a">130</text>
<text transform="translate(545.5,230.2) scale(0.6314,1)" font-family='"Liberation Sans", sans-serif' font-weight="bold" font-size="7.2" text-anchor="start" fill="#1a1a1a">Time (min)</text>
<text transform="translate(466.8,198) rotate(-90) scale(1.2917,1)" font-family='"Liberation Sans", sans-serif' font-weight="normal" font-size="4.8" text-anchor="start" fill="#1a1a1a">Removal %</text>
<text transform="translate(498.6,136.6) scale(0.8588,1)" font-family='"Liberation Sans", sans-serif' font-weight="bold" font-size="6.7" text-anchor="start" fill="#1a1a1a">5 mg/l of OP using different wt. of NB and Na-B</text>
<text transform="translate(458.9,136.1) scale(1.0000,1)" font-family='"Liberation Serif", serif' font-weight="bold" font-size="12.5" text-anchor="start" fill="#000">g</text>
<polyline points="489,205.89 494.8,206.06 500.6,204.13 506.4,203.54 512.2,202.95 518,200.94 523.8,200.26 529.6,198.16 535.4,163.64 541.2,194.55 552.8,194.89 564.4,195.48 576,194.89 587.6,194.89 622.4,195.48" fill="none" stroke="#3E5FC8" stroke-width="1.05" stroke-linejoin="round"/>
<circle cx="489" cy="205.89" r="1.5" fill="#0E0E22"/>
<circle cx="494.8" cy="206.06" r="1.5" fill="#0E0E22"/>
<circle cx="500.6" cy="204.13" r="1.5" fill="#0E0E22"/>
<circle cx="506.4" cy="203.54" r="1.5" fill="#0E0E22"/>
<circle cx="512.2" cy="202.95" r="1.5" fill="#0E0E22"/>
<circle cx="518" cy="200.94" r="1.5" fill="#0E0E22"/>
<circle cx="523.8" cy="200.26" r="1.5" fill="#0E0E22"/>
<circle cx="529.6" cy="198.16" r="1.5" fill="#0E0E22"/>
<circle cx="535.4" cy="163.64" r="1.5" fill="#0E0E22"/>
<circle cx="541.2" cy="194.55" r="1.5" fill="#0E0E22"/>
<circle cx="552.8" cy="194.89" r="1.5" fill="#0E0E22"/>
<circle cx="564.4" cy="195.48" r="1.5" fill="#0E0E22"/>
<circle cx="576" cy="194.89" r="1.5" fill="#0E0E22"/>
<circle cx="587.6" cy="194.89" r="1.5" fill="#0E0E22"/>
<circle cx="622.4" cy="195.48" r="1.5" fill="#0E0E22"/>
<polyline points="489,204.72 494.8,201.27 500.6,197.32 506.4,195.06 512.2,190.44 518,186.91 523.8,184.47 529.6,176.66 535.4,173.38 541.2,171.62 552.8,171.62 564.4,171.62 576,171.62 587.6,171.62 622.4,171.62" fill="none" stroke="#E0262A" stroke-width="1.05" stroke-linejoin="round"/>
<circle cx="489" cy="204.72" r="1.5" fill="#E01818"/>
<circle cx="494.8" cy="201.27" r="1.5" fill="#E01818"/>
<circle cx="500.6" cy="197.32" r="1.5" fill="#E01818"/>
<circle cx="506.4" cy="195.06" r="1.5" fill="#E01818"/>
<circle cx="512.2" cy="190.44" r="1.5" fill="#E01818"/>
<circle cx="518" cy="186.91" r="1.5" fill="#E01818"/>
<circle cx="523.8" cy="184.47" r="1.5" fill="#E01818"/>
<circle cx="529.6" cy="176.66" r="1.5" fill="#E01818"/>
<circle cx="535.4" cy="173.38" r="1.5" fill="#E01818"/>
<circle cx="541.2" cy="171.62" r="1.5" fill="#E01818"/>
<circle cx="552.8" cy="171.62" r="1.5" fill="#E01818"/>
<circle cx="564.4" cy="171.62" r="1.5" fill="#E01818"/>
<circle cx="576" cy="171.62" r="1.5" fill="#E01818"/>
<circle cx="587.6" cy="171.62" r="1.5" fill="#E01818"/>
<circle cx="622.4" cy="171.62" r="1.5" fill="#E01818"/>
<polyline points="489,208.16 494.8,205.22 500.6,201.94 506.4,198.92 512.2,195.06 518,192.79 523.8,192.79 529.6,189.85 535.4,188.17 541.2,186.91 552.8,187.92 564.4,188.42 576,188.42 587.6,188.42 622.4,188.42" fill="none" stroke="#A6E22E" stroke-width="1.05" stroke-linejoin="round"/>
<circle cx="489" cy="208.16" r="1.5" fill="#A6E22E"/>
<circle cx="494.8" cy="205.22" r="1.5" fill="#A6E22E"/>
<circle cx="500.6" cy="201.94" r="1.5" fill="#A6E22E"/>
<circle cx="506.4" cy="198.92" r="1.5" fill="#A6E22E"/>
<circle cx="512.2" cy="195.06" r="1.5" fill="#A6E22E"/>
<circle cx="518" cy="192.79" r="1.5" fill="#A6E22E"/>
<circle cx="523.8" cy="192.79" r="1.5" fill="#A6E22E"/>
<circle cx="529.6" cy="189.85" r="1.5" fill="#A6E22E"/>
<circle cx="535.4" cy="188.17" r="1.5" fill="#A6E22E"/>
<circle cx="541.2" cy="186.91" r="1.5" fill="#A6E22E"/>
<circle cx="552.8" cy="187.92" r="1.5" fill="#A6E22E"/>
<circle cx="564.4" cy="188.42" r="1.5" fill="#A6E22E"/>
<circle cx="576" cy="188.42" r="1.5" fill="#A6E22E"/>
<circle cx="587.6" cy="188.42" r="1.5" fill="#A6E22E"/>
<circle cx="622.4" cy="188.42" r="1.5" fill="#A6E22E"/>
<polyline points="489,204.21 494.8,200.6 500.6,197.32 506.4,194.3 512.2,189.85 518,184.22 523.8,179.43 529.6,177.5 535.4,171.2 541.2,167.76 552.8,168.93 564.4,168.26 576,168.93 587.6,168.93 622.4,168.93" fill="none" stroke="#6A30D2" stroke-width="1.05" stroke-linejoin="round"/>
<circle cx="489" cy="204.21" r="1.5" fill="#6A20E0"/>
<circle cx="494.8" cy="200.6" r="1.5" fill="#6A20E0"/>
<circle cx="500.6" cy="197.32" r="1.5" fill="#6A20E0"/>
<circle cx="506.4" cy="194.3" r="1.5" fill="#6A20E0"/>
<circle cx="512.2" cy="189.85" r="1.5" fill="#6A20E0"/>
<circle cx="518" cy="184.22" r="1.5" fill="#6A20E0"/>
<circle cx="523.8" cy="179.43" r="1.5" fill="#6A20E0"/>
<circle cx="529.6" cy="177.5" r="1.5" fill="#6A20E0"/>
<circle cx="535.4" cy="171.2" r="1.5" fill="#6A20E0"/>
<circle cx="541.2" cy="167.76" r="1.5" fill="#6A20E0"/>
<circle cx="552.8" cy="168.93" r="1.5" fill="#6A20E0"/>
<circle cx="564.4" cy="168.26" r="1.5" fill="#6A20E0"/>
<circle cx="576" cy="168.93" r="1.5" fill="#6A20E0"/>
<circle cx="587.6" cy="168.93" r="1.5" fill="#6A20E0"/>
<circle cx="622.4" cy="168.93" r="1.5" fill="#6A20E0"/>
<polyline points="489,207.49 494.8,204.72 500.6,200.6 506.4,195.14 512.2,193.71 518,190.94 523.8,191.28 529.6,189.26 535.4,188.67 541.2,187.75 552.8,188.17 564.4,189.01 576,189.01 587.6,189.01 622.4,189.01" fill="none" stroke="#2EB6D6" stroke-width="1.05" stroke-linejoin="round"/>
<circle cx="489" cy="207.49" r="1.5" fill="#10303A"/>
<circle cx="494.8" cy="204.72" r="1.5" fill="#10303A"/>
<circle cx="500.6" cy="200.6" r="1.5" fill="#10303A"/>
<circle cx="506.4" cy="195.14" r="1.5" fill="#10303A"/>
<circle cx="512.2" cy="193.71" r="1.5" fill="#10303A"/>
<circle cx="518" cy="190.94" r="1.5" fill="#10303A"/>
<circle cx="523.8" cy="191.28" r="1.5" fill="#10303A"/>
<circle cx="529.6" cy="189.26" r="1.5" fill="#10303A"/>
<circle cx="535.4" cy="188.67" r="1.5" fill="#10303A"/>
<circle cx="541.2" cy="187.75" r="1.5" fill="#10303A"/>
<circle cx="552.8" cy="188.17" r="1.5" fill="#10303A"/>
<circle cx="564.4" cy="189.01" r="1.5" fill="#10303A"/>
<circle cx="576" cy="189.01" r="1.5" fill="#10303A"/>
<circle cx="587.6" cy="189.01" r="1.5" fill="#10303A"/>
<circle cx="622.4" cy="189.01" r="1.5" fill="#10303A"/>
<polyline points="489,199.34 494.8,195.73 500.6,193.71 506.4,189.26 512.2,185.82 518,182.12 523.8,190.94 529.6,172.46 535.4,162.38 541.2,159.02 552.8,160.87 564.4,160.87 576,161.37 587.6,160.87 622.4,160.36" fill="none" stroke="#FF8C24" stroke-width="1.05" stroke-linejoin="round"/>
<circle cx="489" cy="199.34" r="1.5" fill="#FF8C24"/>
<circle cx="494.8" cy="195.73" r="1.5" fill="#FF8C24"/>
<circle cx="500.6" cy="193.71" r="1.5" fill="#FF8C24"/>
<circle cx="506.4" cy="189.26" r="1.5" fill="#FF8C24"/>
<circle cx="512.2" cy="185.82" r="1.5" fill="#FF8C24"/>
<circle cx="518" cy="182.12" r="1.5" fill="#FF8C24"/>
<circle cx="523.8" cy="190.94" r="1.5" fill="#FF8C24"/>
<circle cx="529.6" cy="172.46" r="1.5" fill="#FF8C24"/>
<circle cx="535.4" cy="162.38" r="1.5" fill="#FF8C24"/>
<circle cx="541.2" cy="159.02" r="1.5" fill="#FF8C24"/>
<circle cx="552.8" cy="160.87" r="1.5" fill="#FF8C24"/>
<circle cx="564.4" cy="160.87" r="1.5" fill="#FF8C24"/>
<circle cx="576" cy="161.37" r="1.5" fill="#FF8C24"/>
<circle cx="587.6" cy="160.87" r="1.5" fill="#FF8C24"/>
<circle cx="622.4" cy="160.36" r="1.5" fill="#FF8C24"/>
<polyline points="489,205.81 494.8,202.36 500.6,199.68 506.4,198.16 512.2,196.32 518,195.48 523.8,194.3 529.6,193.04 535.4,192.2 541.2,192.54 552.8,192.79 564.4,193.71 576,194.3 587.6,194.3 622.4,193.21" fill="none" stroke="#1E2F6A" stroke-width="1.05" stroke-linejoin="round"/>
<circle cx="489" cy="205.81" r="1.5" fill="#0C1A44"/>
<circle cx="494.8" cy="202.36" r="1.5" fill="#0C1A44"/>
<circle cx="500.6" cy="199.68" r="1.5" fill="#0C1A44"/>
<circle cx="506.4" cy="198.16" r="1.5" fill="#0C1A44"/>
<circle cx="512.2" cy="196.32" r="1.5" fill="#0C1A44"/>
<circle cx="518" cy="195.48" r="1.5" fill="#0C1A44"/>
<circle cx="523.8" cy="194.3" r="1.5" fill="#0C1A44"/>
<circle cx="529.6" cy="193.04" r="1.5" fill="#0C1A44"/>
<circle cx="535.4" cy="192.2" r="1.5" fill="#0C1A44"/>
<circle cx="541.2" cy="192.54" r="1.5" fill="#0C1A44"/>
<circle cx="552.8" cy="192.79" r="1.5" fill="#0C1A44"/>
<circle cx="564.4" cy="193.71" r="1.5" fill="#0C1A44"/>
<circle cx="576" cy="194.3" r="1.5" fill="#0C1A44"/>
<circle cx="587.6" cy="194.3" r="1.5" fill="#0C1A44"/>
<circle cx="622.4" cy="193.21" r="1.5" fill="#0C1A44"/>
<polyline points="489,203.54 494.8,198.75 500.6,193.96 506.4,189.26 512.2,184.64 518,179.43 523.8,176.66 529.6,169.6 535.4,162.04 541.2,154.4 552.8,155.07 564.4,155.07 576,155.58 587.6,156.25 622.4,155.58" fill="none" stroke="#5C1C1C" stroke-width="1.05" stroke-linejoin="round"/>
<circle cx="489" cy="203.54" r="1.5" fill="#380808"/>
<circle cx="494.8" cy="198.75" r="1.5" fill="#380808"/>
<circle cx="500.6" cy="193.96" r="1.5" fill="#380808"/>
<circle cx="506.4" cy="189.26" r="1.5" fill="#380808"/>
<circle cx="512.2" cy="184.64" r="1.5" fill="#380808"/>
<circle cx="518" cy="179.43" r="1.5" fill="#380808"/>
<circle cx="523.8" cy="176.66" r="1.5" fill="#380808"/>
<circle cx="529.6" cy="169.6" r="1.5" fill="#380808"/>
<circle cx="535.4" cy="162.04" r="1.5" fill="#380808"/>
<circle cx="541.2" cy="154.4" r="1.5" fill="#380808"/>
<circle cx="552.8" cy="155.07" r="1.5" fill="#380808"/>
<circle cx="564.4" cy="155.07" r="1.5" fill="#380808"/>
<circle cx="576" cy="155.58" r="1.5" fill="#380808"/>
<circle cx="587.6" cy="156.25" r="1.5" fill="#380808"/>
<circle cx="622.4" cy="155.58" r="1.5" fill="#380808"/>
<line x1="637.1" y1="145.8" x2="646.1" y2="145.8" stroke="#4A6ACF" stroke-width="1"/>
<circle cx="641.6" cy="145.8" r="1.5" fill="#0E0E22"/>
<text transform="translate(646.7,147.58) scale(0.8000,1)" font-family='"Liberation Sans", sans-serif' font-weight="normal" font-size="5.3" text-anchor="start" fill="#1a1a1a">0.5g NB</text>
<line x1="637.1" y1="155.02" x2="646.1" y2="155.02" stroke="#E0404A" stroke-width="1"/>
<circle cx="641.6" cy="155.02" r="1.5" fill="#E01818"/>
<text transform="translate(646.7,156.8) scale(0.8000,1)" font-family='"Liberation Sans", sans-serif' font-weight="normal" font-size="5.3" text-anchor="start" fill="#1a1a1a">0.5g Na-B</text>
<line x1="637.1" y1="164.24" x2="646.1" y2="164.24" stroke="#A6E22E" stroke-width="1"/>
<circle cx="641.6" cy="164.24" r="1.5" fill="#A6E22E"/>
<text transform="translate(646.7,166.02) scale(0.8000,1)" font-family='"Liberation Sans", sans-serif' font-weight="normal" font-size="5.3" text-anchor="start" fill="#1a1a1a">1g NB</text>
<line x1="637.1" y1="173.46" x2="646.1" y2="173.46" stroke="#5A30C8" stroke-width="1"/>
<circle cx="641.6" cy="173.46" r="1.5" fill="#6A20E0"/>
<text transform="translate(646.7,175.24) scale(0.8000,1)" font-family='"Liberation Sans", sans-serif' font-weight="normal" font-size="5.3" text-anchor="start" fill="#1a1a1a">1g Na-B</text>
<line x1="637.1" y1="182.68" x2="646.1" y2="182.68" stroke="#40B8E0" stroke-width="1"/>
<circle cx="641.6" cy="182.68" r="1.5" fill="#10303A"/>
<text transform="translate(646.7,184.46) scale(0.8000,1)" font-family='"Liberation Sans", sans-serif' font-weight="normal" font-size="5.3" text-anchor="start" fill="#1a1a1a">1.5g NB</text>
<line x1="637.1" y1="191.9" x2="646.1" y2="191.9" stroke="#FFA050" stroke-width="1"/>
<circle cx="641.6" cy="191.9" r="1.5" fill="#FF8C24"/>
<text transform="translate(646.7,193.68) scale(0.8000,1)" font-family='"Liberation Sans", sans-serif' font-weight="normal" font-size="5.3" text-anchor="start" fill="#1a1a1a">1.5g Na-B</text>
<line x1="637.1" y1="201.12" x2="646.1" y2="201.12" stroke="#1E2F6A" stroke-width="1"/>
<circle cx="641.6" cy="201.12" r="1.5" fill="#0C1A44"/>
<text transform="translate(646.7,202.9) scale(0.8000,1)" font-family='"Liberation Sans", sans-serif' font-weight="normal" font-size="5.3" text-anchor="start" fill="#1a1a1a">2g NB</text>
<line x1="637.1" y1="210.34" x2="646.1" y2="210.34" stroke="#6A2424" stroke-width="1"/>
<circle cx="641.6" cy="210.34" r="1.5" fill="#380808"/>
<text transform="translate(646.7,212.12) scale(0.8000,1)" font-family='"Liberation Sans", sans-serif' font-weight="normal" font-size="5.3" text-anchor="start" fill="#1a1a1a">2g Na-B</text>
<line x1="29.9" y1="322.31" x2="195" y2="322.31" stroke="#F2F2F2" stroke-width="0.8"/>
<line x1="29.9" y1="312.53" x2="195" y2="312.53" stroke="#F2F2F2" stroke-width="0.8"/>
<line x1="29.9" y1="302.74" x2="195" y2="302.74" stroke="#F2F2F2" stroke-width="0.8"/>
<line x1="29.9" y1="292.96" x2="195" y2="292.96" stroke="#F2F2F2" stroke-width="0.8"/>
<line x1="29.9" y1="283.17" x2="195" y2="283.17" stroke="#F2F2F2" stroke-width="0.8"/>
<line x1="29.9" y1="273.39" x2="195" y2="273.39" stroke="#F2F2F2" stroke-width="0.8"/>
<line x1="29.9" y1="263.6" x2="195" y2="263.6" stroke="#F2F2F2" stroke-width="0.8"/>
<line x1="29.9" y1="263.6" x2="29.9" y2="332.1" stroke="#F0A6AC" stroke-width="0.9"/>
<line x1="29.45" y1="332.1" x2="195" y2="332.1" stroke="#F0A6AC" stroke-width="0.9"/>
<line x1="42.6" y1="329.9" x2="42.6" y2="332.1" stroke="#F0A6AC" stroke-width="0.7"/>
<line x1="55.3" y1="329.9" x2="55.3" y2="332.1" stroke="#F0A6AC" stroke-width="0.7"/>
<line x1="68" y1="329.9" x2="68" y2="332.1" stroke="#F0A6AC" stroke-width="0.7"/>
<line x1="80.7" y1="329.9" x2="80.7" y2="332.1" stroke="#F0A6AC" stroke-width="0.7"/>
<line x1="93.4" y1="329.9" x2="93.4" y2="332.1" stroke="#F0A6AC" stroke-width="0.7"/>
<line x1="106.1" y1="329.9" x2="106.1" y2="332.1" stroke="#F0A6AC" stroke-width="0.7"/>
<line x1="118.8" y1="329.9" x2="118.8" y2="332.1" stroke="#F0A6AC" stroke-width="0.7"/>
<line x1="131.5" y1="329.9" x2="131.5" y2="332.1" stroke="#F0A6AC" stroke-width="0.7"/>
<line x1="144.2" y1="329.9" x2="144.2" y2="332.1" stroke="#F0A6AC" stroke-width="0.7"/>
<line x1="156.9" y1="329.9" x2="156.9" y2="332.1" stroke="#F0A6AC" stroke-width="0.7"/>
<line x1="169.6" y1="329.9" x2="169.6" y2="332.1" stroke="#F0A6AC" stroke-width="0.7"/>
<line x1="182.3" y1="329.9" x2="182.3" y2="332.1" stroke="#F0A6AC" stroke-width="0.7"/>
<line x1="195" y1="329.9" x2="195" y2="332.1" stroke="#F0A6AC" stroke-width="0.7"/>
<text transform="translate(25.4,334.51) scale(0.6500,1)" font-family='"Liberation Serif", serif' font-weight="normal" font-size="7.2" text-anchor="end" fill="#1a1a1a" stroke="#1a1a1a" stroke-width="0.18">0</text>
<text transform="translate(25.4,324.73) scale(0.6500,1)" font-family='"Liberation Serif", serif' font-weight="normal" font-size="7.2" text-anchor="end" fill="#1a1a1a" stroke="#1a1a1a" stroke-width="0.18">10</text>
<text transform="translate(25.4,314.94) scale(0.6500,1)" font-family='"Liberation Serif", serif' font-weight="normal" font-size="7.2" text-anchor="end" fill="#1a1a1a" stroke="#1a1a1a" stroke-width="0.18">20</text>
<text transform="translate(25.4,305.15) scale(0.6500,1)" font-family='"Liberation Serif", serif' font-weight="normal" font-size="7.2" text-anchor="end" fill="#1a1a1a" stroke="#1a1a1a" stroke-width="0.18">30</text>
<text transform="translate(25.4,295.37) scale(0.6500,1)" font-family='"Liberation Serif", serif' font-weight="normal" font-size="7.2" text-anchor="end" fill="#1a1a1a" stroke="#1a1a1a" stroke-width="0.18">40</text>
<text transform="translate(25.4,285.58) scale(0.6500,1)" font-family='"Liberation Serif", serif' font-weight="normal" font-size="7.2" text-anchor="end" fill="#1a1a1a" stroke="#1a1a1a" stroke-width="0.18">50</text>
<text transform="translate(25.4,275.8) scale(0.6500,1)" font-family='"Liberation Serif", serif' font-weight="normal" font-size="7.2" text-anchor="end" fill="#1a1a1a" stroke="#1a1a1a" stroke-width="0.18">60</text>
<text transform="translate(25.4,266.01) scale(0.6500,1)" font-family='"Liberation Serif", serif' font-weight="normal" font-size="7.2" text-anchor="end" fill="#1a1a1a" stroke="#1a1a1a" stroke-width="0.18">70</text>
<text transform="translate(29.9,342.51) scale(0.6500,1)" font-family='"Liberation Serif", serif' font-weight="normal" font-size="7.2" text-anchor="middle" fill="#1a1a1a" stroke="#1a1a1a" stroke-width="0.18">0</text>
<text transform="translate(42.6,342.51) scale(0.6500,1)" font-family='"Liberation Serif", serif' font-weight="normal" font-size="7.2" text-anchor="middle" fill="#1a1a1a" stroke="#1a1a1a" stroke-width="0.18">10</text>
<text transform="translate(55.3,342.51) scale(0.6500,1)" font-family='"Liberation Serif", serif' font-weight="normal" font-size="7.2" text-anchor="middle" fill="#1a1a1a" stroke="#1a1a1a" stroke-width="0.18">20</text>
<text transform="translate(68,342.51) scale(0.6500,1)" font-family='"Liberation Serif", serif' font-weight="normal" font-size="7.2" text-anchor="middle" fill="#1a1a1a" stroke="#1a1a1a" stroke-width="0.18">30</text>
<text transform="translate(80.7,342.51) scale(0.6500,1)" font-family='"Liberation Serif", serif' font-weight="normal" font-size="7.2" text-anchor="middle" fill="#1a1a1a" stroke="#1a1a1a" stroke-width="0.18">40</text>
<text transform="translate(93.4,342.51) scale(0.6500,1)" font-family='"Liberation Serif", serif' font-weight="normal" font-size="7.2" text-anchor="middle" fill="#1a1a1a" stroke="#1a1a1a" stroke-width="0.18">50</text>
<text transform="translate(106.1,342.51) scale(0.6500,1)" font-family='"Liberation Serif", serif' font-weight="normal" font-size="7.2" text-anchor="middle" fill="#1a1a1a" stroke="#1a1a1a" stroke-width="0.18">60</text>
<text transform="translate(118.8,342.51) scale(0.6500,1)" font-family='"Liberation Serif", serif' font-weight="normal" font-size="7.2" text-anchor="middle" fill="#1a1a1a" stroke="#1a1a1a" stroke-width="0.18">70</text>
<text transform="translate(131.5,342.51) scale(0.6500,1)" font-family='"Liberation Serif", serif' font-weight="normal" font-size="7.2" text-anchor="middle" fill="#1a1a1a" stroke="#1a1a1a" stroke-width="0.18">80</text>
<text transform="translate(144.2,342.51) scale(0.6500,1)" font-family='"Liberation Serif", serif' font-weight="normal" font-size="7.2" text-anchor="middle" fill="#1a1a1a" stroke="#1a1a1a" stroke-width="0.18">90</text>
<text transform="translate(156.9,342.51) scale(0.6500,1)" font-family='"Liberation Serif", serif' font-weight="normal" font-size="7.2" text-anchor="middle" fill="#1a1a1a" stroke="#1a1a1a" stroke-width="0.18">100</text>
<text transform="translate(169.6,342.51) scale(0.6500,1)" font-family='"Liberation Serif", serif' font-weight="normal" font-size="7.2" text-anchor="middle" fill="#1a1a1a" stroke="#1a1a1a" stroke-width="0.18">110</text>
<text transform="translate(182.3,342.51) scale(0.6500,1)" font-family='"Liberation Serif", serif' font-weight="normal" font-size="7.2" text-anchor="middle" fill="#1a1a1a" stroke="#1a1a1a" stroke-width="0.18">120</text>
<text transform="translate(195,342.51) scale(0.6500,1)" font-family='"Liberation Serif", serif' font-weight="normal" font-size="7.2" text-anchor="middle" fill="#1a1a1a" stroke="#1a1a1a" stroke-width="0.18">130</text>
<text transform="translate(101.6,351.3) scale(0.6912,1)" font-family='"Liberation Serif", serif' font-weight="normal" font-size="7" text-anchor="start" fill="#1a1a1a" stroke="#1a1a1a" stroke-width="0.1">Time (min)</text>
<text transform="translate(11.9,316.2) rotate(-90) scale(1.0460,1)" font-family='"Liberation Serif", serif' font-weight="normal" font-size="5.5" text-anchor="start" fill="#1a1a1a" stroke="#1a1a1a" stroke-width="0.1">Removal %</text>
<text transform="translate(55.4,254.5) scale(0.7706,1)" font-family='"Liberation Serif", serif' font-weight="normal" font-size="8" text-anchor="start" fill="#1a1a1a" stroke="#1a1a1a" stroke-width="0.18">10 mg/l of OP using different wt. of NB and Na-B</text>
<text transform="translate(5.4,258.6) scale(1.0000,1)" font-family='"Liberation Serif", serif' font-weight="bold" font-size="13.3" text-anchor="start" fill="#000">h</text>
<polyline points="36.25,330.34 42.6,328.48 48.95,326.13 55.3,324.27 61.65,323.68 68,322.51 74.35,320.65 80.7,318.89 87.05,314.68 93.4,312.72 106.1,313.51 118.8,313.51 131.5,313.51 144.2,313.51 182.3,313.9" fill="none" stroke="#3E5FC8" stroke-width="1.05" stroke-linejoin="round"/>
<circle cx="36.25" cy="330.34" r="1.5" fill="#0E0E22"/>
<circle cx="42.6" cy="328.48" r="1.5" fill="#0E0E22"/>
<circle cx="48.95" cy="326.13" r="1.5" fill="#0E0E22"/>
<circle cx="55.3" cy="324.27" r="1.5" fill="#0E0E22"/>
<circle cx="61.65" cy="323.68" r="1.5" fill="#0E0E22"/>
<circle cx="68" cy="322.51" r="1.5" fill="#0E0E22"/>
<circle cx="74.35" cy="320.65" r="1.5" fill="#0E0E22"/>
<circle cx="80.7" cy="318.89" r="1.5" fill="#0E0E22"/>
<circle cx="87.05" cy="314.68" r="1.5" fill="#0E0E22"/>
<circle cx="93.4" cy="312.72" r="1.5" fill="#0E0E22"/>
<circle cx="106.1" cy="313.51" r="1.5" fill="#0E0E22"/>
<circle cx="118.8" cy="313.51" r="1.5" fill="#0E0E22"/>
<circle cx="131.5" cy="313.51" r="1.5" fill="#0E0E22"/>
<circle cx="144.2" cy="313.51" r="1.5" fill="#0E0E22"/>
<circle cx="182.3" cy="313.9" r="1.5" fill="#0E0E22"/>
<polyline points="36.25,325.45 42.6,323.1 48.95,320.65 55.3,318.3 61.65,315.07 68,313.51 74.35,310.57 80.7,306.95 87.05,297.17 93.4,289.43 106.1,289.73 118.8,289.73 131.5,290.02 144.2,290.02 182.3,289.73" fill="none" stroke="#E0262A" stroke-width="1.05" stroke-linejoin="round"/>
<circle cx="36.25" cy="325.45" r="1.5" fill="#E01818"/>
<circle cx="42.6" cy="323.1" r="1.5" fill="#E01818"/>
<circle cx="48.95" cy="320.65" r="1.5" fill="#E01818"/>
<circle cx="55.3" cy="318.3" r="1.5" fill="#E01818"/>
<circle cx="61.65" cy="315.07" r="1.5" fill="#E01818"/>
<circle cx="68" cy="313.51" r="1.5" fill="#E01818"/>
<circle cx="74.35" cy="310.57" r="1.5" fill="#E01818"/>
<circle cx="80.7" cy="306.95" r="1.5" fill="#E01818"/>
<circle cx="87.05" cy="297.17" r="1.5" fill="#E01818"/>
<circle cx="93.4" cy="289.43" r="1.5" fill="#E01818"/>
<circle cx="106.1" cy="289.73" r="1.5" fill="#E01818"/>
<circle cx="118.8" cy="289.73" r="1.5" fill="#E01818"/>
<circle cx="131.5" cy="290.02" r="1.5" fill="#E01818"/>
<circle cx="144.2" cy="290.02" r="1.5" fill="#E01818"/>
<circle cx="182.3" cy="289.73" r="1.5" fill="#E01818"/>
<polyline points="36.25,330.14 42.6,328.68 48.95,325.64 55.3,324.27 61.65,323.1 68,320.06 74.35,316.35 80.7,311.94 87.05,310.28 93.4,307.93 106.1,308.32 118.8,308.32 131.5,308.32 144.2,308.32 182.3,308.32" fill="none" stroke="#A6E22E" stroke-width="1.05" stroke-linejoin="round"/>
<circle cx="36.25" cy="330.14" r="1.5" fill="#A6E22E"/>
<circle cx="42.6" cy="328.68" r="1.5" fill="#A6E22E"/>
<circle cx="48.95" cy="325.64" r="1.5" fill="#A6E22E"/>
<circle cx="55.3" cy="324.27" r="1.5" fill="#A6E22E"/>
<circle cx="61.65" cy="323.1" r="1.5" fill="#A6E22E"/>
<circle cx="68" cy="320.06" r="1.5" fill="#A6E22E"/>
<circle cx="74.35" cy="316.35" r="1.5" fill="#A6E22E"/>
<circle cx="80.7" cy="311.94" r="1.5" fill="#A6E22E"/>
<circle cx="87.05" cy="310.28" r="1.5" fill="#A6E22E"/>
<circle cx="93.4" cy="307.93" r="1.5" fill="#A6E22E"/>
<circle cx="106.1" cy="308.32" r="1.5" fill="#A6E22E"/>
<circle cx="118.8" cy="308.32" r="1.5" fill="#A6E22E"/>
<circle cx="131.5" cy="308.32" r="1.5" fill="#A6E22E"/>
<circle cx="144.2" cy="308.32" r="1.5" fill="#A6E22E"/>
<circle cx="182.3" cy="308.32" r="1.5" fill="#A6E22E"/>
<polyline points="36.25,323.49 42.6,322.41 48.95,319.48 55.3,314.68 61.65,310.57 68,305.97 74.35,297.17 80.7,293.06 87.05,285.91 93.4,282.39 106.1,283.37 118.8,282.88 131.5,282.88 144.2,283.37 182.3,283.37" fill="none" stroke="#6A30D2" stroke-width="1.05" stroke-linejoin="round"/>
<circle cx="36.25" cy="323.49" r="1.5" fill="#6A20E0"/>
<circle cx="42.6" cy="322.41" r="1.5" fill="#6A20E0"/>
<circle cx="48.95" cy="319.48" r="1.5" fill="#6A20E0"/>
<circle cx="55.3" cy="314.68" r="1.5" fill="#6A20E0"/>
<circle cx="61.65" cy="310.57" r="1.5" fill="#6A20E0"/>
<circle cx="68" cy="305.97" r="1.5" fill="#6A20E0"/>
<circle cx="74.35" cy="297.17" r="1.5" fill="#6A20E0"/>
<circle cx="80.7" cy="293.06" r="1.5" fill="#6A20E0"/>
<circle cx="87.05" cy="285.91" r="1.5" fill="#6A20E0"/>
<circle cx="93.4" cy="282.39" r="1.5" fill="#6A20E0"/>
<circle cx="106.1" cy="283.37" r="1.5" fill="#6A20E0"/>
<circle cx="118.8" cy="282.88" r="1.5" fill="#6A20E0"/>
<circle cx="131.5" cy="282.88" r="1.5" fill="#6A20E0"/>
<circle cx="144.2" cy="283.37" r="1.5" fill="#6A20E0"/>
<circle cx="182.3" cy="283.37" r="1.5" fill="#6A20E0"/>
<polyline points="36.25,330.63 42.6,328.58 48.95,325.74 55.3,322.8 61.65,320.65 68,316.54 74.35,314.68 80.7,312.92 87.05,312.04 93.4,312.72 106.1,312.92 118.8,312.92 131.5,312.92 144.2,312.92 182.3,313.41" fill="none" stroke="#2EB6D6" stroke-width="1.05" stroke-linejoin="round"/>
<circle cx="36.25" cy="330.63" r="1.5" fill="#10303A"/>
<circle cx="42.6" cy="328.58" r="1.5" fill="#10303A"/>
<circle cx="48.95" cy="325.74" r="1.5" fill="#10303A"/>
<circle cx="55.3" cy="322.8" r="1.5" fill="#10303A"/>
<circle cx="61.65" cy="320.65" r="1.5" fill="#10303A"/>
<circle cx="68" cy="316.54" r="1.5" fill="#10303A"/>
<circle cx="74.35" cy="314.68" r="1.5" fill="#10303A"/>
<circle cx="80.7" cy="312.92" r="1.5" fill="#10303A"/>
<circle cx="87.05" cy="312.04" r="1.5" fill="#10303A"/>
<circle cx="93.4" cy="312.72" r="1.5" fill="#10303A"/>
<circle cx="106.1" cy="312.92" r="1.5" fill="#10303A"/>
<circle cx="118.8" cy="312.92" r="1.5" fill="#10303A"/>
<circle cx="131.5" cy="312.92" r="1.5" fill="#10303A"/>
<circle cx="144.2" cy="312.92" r="1.5" fill="#10303A"/>
<circle cx="182.3" cy="313.41" r="1.5" fill="#10303A"/>
<polyline points="36.25,326.33 42.6,322.8 48.95,321.14 55.3,316.54 61.65,309.4 68,303.62 74.35,300.39 80.7,293.06 87.05,288.46 93.4,279.84 106.1,282.39 118.8,282.39 131.5,282.39 144.2,280.33 182.3,281.12" fill="none" stroke="#FF8C24" stroke-width="1.05" stroke-linejoin="round"/>
<circle cx="36.25" cy="326.33" r="1.5" fill="#FF8C24"/>
<circle cx="42.6" cy="322.8" r="1.5" fill="#FF8C24"/>
<circle cx="48.95" cy="321.14" r="1.5" fill="#FF8C24"/>
<circle cx="55.3" cy="316.54" r="1.5" fill="#FF8C24"/>
<circle cx="61.65" cy="309.4" r="1.5" fill="#FF8C24"/>
<circle cx="68" cy="303.62" r="1.5" fill="#FF8C24"/>
<circle cx="74.35" cy="300.39" r="1.5" fill="#FF8C24"/>
<circle cx="80.7" cy="293.06" r="1.5" fill="#FF8C24"/>
<circle cx="87.05" cy="288.46" r="1.5" fill="#FF8C24"/>
<circle cx="93.4" cy="279.84" r="1.5" fill="#FF8C24"/>
<circle cx="106.1" cy="282.39" r="1.5" fill="#FF8C24"/>
<circle cx="118.8" cy="282.39" r="1.5" fill="#FF8C24"/>
<circle cx="131.5" cy="282.39" r="1.5" fill="#FF8C24"/>
<circle cx="144.2" cy="280.33" r="1.5" fill="#FF8C24"/>
<circle cx="182.3" cy="281.12" r="1.5" fill="#FF8C24"/>
<polyline points="36.25,330.63 42.6,328.48 48.95,325.45 55.3,323.1 61.65,319.48 68,317.13 74.35,313.9 80.7,312.92 87.05,311.06 93.4,311.06 106.1,311.65 118.8,311.65 131.5,311.65 144.2,311.65 182.3,311.65" fill="none" stroke="#1E2F6A" stroke-width="1.05" stroke-linejoin="round"/>
<circle cx="36.25" cy="330.63" r="1.5" fill="#0C1A44"/>
<circle cx="42.6" cy="328.48" r="1.5" fill="#0C1A44"/>
<circle cx="48.95" cy="325.45" r="1.5" fill="#0C1A44"/>
<circle cx="55.3" cy="323.1" r="1.5" fill="#0C1A44"/>
<circle cx="61.65" cy="319.48" r="1.5" fill="#0C1A44"/>
<circle cx="68" cy="317.13" r="1.5" fill="#0C1A44"/>
<circle cx="74.35" cy="313.9" r="1.5" fill="#0C1A44"/>
<circle cx="80.7" cy="312.92" r="1.5" fill="#0C1A44"/>
<circle cx="87.05" cy="311.06" r="1.5" fill="#0C1A44"/>
<circle cx="93.4" cy="311.06" r="1.5" fill="#0C1A44"/>
<circle cx="106.1" cy="311.65" r="1.5" fill="#0C1A44"/>
<circle cx="118.8" cy="311.65" r="1.5" fill="#0C1A44"/>
<circle cx="131.5" cy="311.65" r="1.5" fill="#0C1A44"/>
<circle cx="144.2" cy="311.65" r="1.5" fill="#0C1A44"/>
<circle cx="182.3" cy="311.65" r="1.5" fill="#0C1A44"/>
<polyline points="36.25,320.65 42.6,314.09 48.95,310.57 55.3,305.48 61.65,300.69 68,295.99 74.35,285.91 80.7,281.61 87.05,275.25 93.4,272.99 106.1,273.48 118.8,273.48 131.5,273.78 144.2,273.48 182.3,274.27" fill="none" stroke="#5C1C1C" stroke-width="1.05" stroke-linejoin="round"/>
<circle cx="36.25" cy="320.65" r="1.5" fill="#380808"/>
<circle cx="42.6" cy="314.09" r="1.5" fill="#380808"/>
<circle cx="48.95" cy="310.57" r="1.5" fill="#380808"/>
<circle cx="55.3" cy="305.48" r="1.5" fill="#380808"/>
<circle cx="61.65" cy="300.69" r="1.5" fill="#380808"/>
<circle cx="68" cy="295.99" r="1.5" fill="#380808"/>
<circle cx="74.35" cy="285.91" r="1.5" fill="#380808"/>
<circle cx="80.7" cy="281.61" r="1.5" fill="#380808"/>
<circle cx="87.05" cy="275.25" r="1.5" fill="#380808"/>
<circle cx="93.4" cy="272.99" r="1.5" fill="#380808"/>
<circle cx="106.1" cy="273.48" r="1.5" fill="#380808"/>
<circle cx="118.8" cy="273.48" r="1.5" fill="#380808"/>
<circle cx="131.5" cy="273.78" r="1.5" fill="#380808"/>
<circle cx="144.2" cy="273.48" r="1.5" fill="#380808"/>
<circle cx="182.3" cy="274.27" r="1.5" fill="#380808"/>
<line x1="197.6" y1="265.6" x2="206.1" y2="265.6" stroke="#4A6ACF" stroke-width="1"/>
<circle cx="201.85" cy="265.6" r="1.5" fill="#0E0E22"/>
<text transform="translate(207,267.95) scale(0.7100,1)" font-family='"Liberation Serif", serif' font-weight="normal" font-size="7" text-anchor="start" fill="#1a1a1a" stroke="#1a1a1a" stroke-width="0.18">0.5g NB</text>
<line x1="197.6" y1="274.9" x2="206.1" y2="274.9" stroke="#E0404A" stroke-width="1"/>
<circle cx="201.85" cy="274.9" r="1.5" fill="#E01818"/>
<text transform="translate(207,277.25) scale(0.7100,1)" font-family='"Liberation Serif", serif' font-weight="normal" font-size="7" text-anchor="start" fill="#1a1a1a" stroke="#1a1a1a" stroke-width="0.18">0.5g Na-B</text>
<line x1="197.6" y1="284.2" x2="206.1" y2="284.2" stroke="#A6E22E" stroke-width="1"/>
<circle cx="201.85" cy="284.2" r="1.5" fill="#A6E22E"/>
<text transform="translate(207,286.55) scale(0.7100,1)" font-family='"Liberation Serif", serif' font-weight="normal" font-size="7" text-anchor="start" fill="#1a1a1a" stroke="#1a1a1a" stroke-width="0.18">1g NB</text>
<line x1="197.6" y1="293.5" x2="206.1" y2="293.5" stroke="#5A30C8" stroke-width="1"/>
<circle cx="201.85" cy="293.5" r="1.5" fill="#6A20E0"/>
<text transform="translate(207,295.85) scale(0.7100,1)" font-family='"Liberation Serif", serif' font-weight="normal" font-size="7" text-anchor="start" fill="#1a1a1a" stroke="#1a1a1a" stroke-width="0.18">1g Na-B</text>
<line x1="197.6" y1="302.8" x2="206.1" y2="302.8" stroke="#40B8E0" stroke-width="1"/>
<circle cx="201.85" cy="302.8" r="1.5" fill="#10303A"/>
<text transform="translate(207,305.15) scale(0.7100,1)" font-family='"Liberation Serif", serif' font-weight="normal" font-size="7" text-anchor="start" fill="#1a1a1a" stroke="#1a1a1a" stroke-width="0.18">1.5g NB</text>
<line x1="197.6" y1="312.1" x2="206.1" y2="312.1" stroke="#FFA050" stroke-width="1"/>
<circle cx="201.85" cy="312.1" r="1.5" fill="#FF8C24"/>
<text transform="translate(207,314.45) scale(0.7100,1)" font-family='"Liberation Serif", serif' font-weight="normal" font-size="7" text-anchor="start" fill="#1a1a1a" stroke="#1a1a1a" stroke-width="0.18">1.5g Na-B</text>
<line x1="197.6" y1="321.4" x2="206.1" y2="321.4" stroke="#1E2F6A" stroke-width="1"/>
<circle cx="201.85" cy="321.4" r="1.5" fill="#0C1A44"/>
<text transform="translate(207,323.75) scale(0.7100,1)" font-family='"Liberation Serif", serif' font-weight="normal" font-size="7" text-anchor="start" fill="#1a1a1a" stroke="#1a1a1a" stroke-width="0.18">2g NB</text>
<line x1="197.6" y1="330.7" x2="206.1" y2="330.7" stroke="#6A2424" stroke-width="1"/>
<circle cx="201.85" cy="330.7" r="1.5" fill="#380808"/>
<text transform="translate(207,333.05) scale(0.7100,1)" font-family='"Liberation Serif", serif' font-weight="normal" font-size="7" text-anchor="start" fill="#1a1a1a" stroke="#1a1a1a" stroke-width="0.18">2g Na-B</text>
<line x1="259.3" y1="319.4" x2="423.8" y2="319.4" stroke="#F2F2F2" stroke-width="0.8"/>
<line x1="259.3" y1="308.2" x2="423.8" y2="308.2" stroke="#F2F2F2" stroke-width="0.8"/>
<line x1="259.3" y1="297" x2="423.8" y2="297" stroke="#F2F2F2" stroke-width="0.8"/>
<line x1="259.3" y1="285.8" x2="423.8" y2="285.8" stroke="#F2F2F2" stroke-width="0.8"/>
<line x1="259.3" y1="274.6" x2="423.8" y2="274.6" stroke="#F2F2F2" stroke-width="0.8"/>
<line x1="259.3" y1="263.4" x2="423.8" y2="263.4" stroke="#F2F2F2" stroke-width="0.8"/>
<line x1="259.3" y1="263.4" x2="259.3" y2="330.6" stroke="#F0A6AC" stroke-width="0.9"/>
<line x1="258.85" y1="330.6" x2="423.8" y2="330.6" stroke="#F0A6AC" stroke-width="0.9"/>
<line x1="271.95" y1="328.4" x2="271.95" y2="330.6" stroke="#F0A6AC" stroke-width="0.7"/>
<line x1="284.61" y1="328.4" x2="284.61" y2="330.6" stroke="#F0A6AC" stroke-width="0.7"/>
<line x1="297.26" y1="328.4" x2="297.26" y2="330.6" stroke="#F0A6AC" stroke-width="0.7"/>
<line x1="309.92" y1="328.4" x2="309.92" y2="330.6" stroke="#F0A6AC" stroke-width="0.7"/>
<line x1="322.57" y1="328.4" x2="322.57" y2="330.6" stroke="#F0A6AC" stroke-width="0.7"/>
<line x1="335.22" y1="328.4" x2="335.22" y2="330.6" stroke="#F0A6AC" stroke-width="0.7"/>
<line x1="347.88" y1="328.4" x2="347.88" y2="330.6" stroke="#F0A6AC" stroke-width="0.7"/>
<line x1="360.53" y1="328.4" x2="360.53" y2="330.6" stroke="#F0A6AC" stroke-width="0.7"/>
<line x1="373.18" y1="328.4" x2="373.18" y2="330.6" stroke="#F0A6AC" stroke-width="0.7"/>
<line x1="385.84" y1="328.4" x2="385.84" y2="330.6" stroke="#F0A6AC" stroke-width="0.7"/>
<line x1="398.49" y1="328.4" x2="398.49" y2="330.6" stroke="#F0A6AC" stroke-width="0.7"/>
<line x1="411.15" y1="328.4" x2="411.15" y2="330.6" stroke="#F0A6AC" stroke-width="0.7"/>
<line x1="423.8" y1="328.4" x2="423.8" y2="330.6" stroke="#F0A6AC" stroke-width="0.7"/>
<text transform="translate(255,333.01) scale(0.6500,1)" font-family='"Liberation Serif", serif' font-weight="normal" font-size="7.2" text-anchor="end" fill="#1a1a1a" stroke="#1a1a1a" stroke-width="0.18">0</text>
<text transform="translate(255,321.81) scale(0.6500,1)" font-family='"Liberation Serif", serif' font-weight="normal" font-size="7.2" text-anchor="end" fill="#1a1a1a" stroke="#1a1a1a" stroke-width="0.18">10</text>
<text transform="translate(255,310.61) scale(0.6500,1)" font-family='"Liberation Serif", serif' font-weight="normal" font-size="7.2" text-anchor="end" fill="#1a1a1a" stroke="#1a1a1a" stroke-width="0.18">20</text>
<text transform="translate(255,299.41) scale(0.6500,1)" font-family='"Liberation Serif", serif' font-weight="normal" font-size="7.2" text-anchor="end" fill="#1a1a1a" stroke="#1a1a1a" stroke-width="0.18">30</text>
<text transform="translate(255,288.21) scale(0.6500,1)" font-family='"Liberation Serif", serif' font-weight="normal" font-size="7.2" text-anchor="end" fill="#1a1a1a" stroke="#1a1a1a" stroke-width="0.18">40</text>
<text transform="translate(255,277.01) scale(0.6500,1)" font-family='"Liberation Serif", serif' font-weight="normal" font-size="7.2" text-anchor="end" fill="#1a1a1a" stroke="#1a1a1a" stroke-width="0.18">50</text>
<text transform="translate(255,265.81) scale(0.6500,1)" font-family='"Liberation Serif", serif' font-weight="normal" font-size="7.2" text-anchor="end" fill="#1a1a1a" stroke="#1a1a1a" stroke-width="0.18">60</text>
<text transform="translate(259.3,340.91) scale(0.6500,1)" font-family='"Liberation Serif", serif' font-weight="normal" font-size="7.2" text-anchor="middle" fill="#1a1a1a" stroke="#1a1a1a" stroke-width="0.18">0</text>
<text transform="translate(271.95,340.91) scale(0.6500,1)" font-family='"Liberation Serif", serif' font-weight="normal" font-size="7.2" text-anchor="middle" fill="#1a1a1a" stroke="#1a1a1a" stroke-width="0.18">10</text>
<text transform="translate(284.61,340.91) scale(0.6500,1)" font-family='"Liberation Serif", serif' font-weight="normal" font-size="7.2" text-anchor="middle" fill="#1a1a1a" stroke="#1a1a1a" stroke-width="0.18">20</text>
<text transform="translate(297.26,340.91) scale(0.6500,1)" font-family='"Liberation Serif", serif' font-weight="normal" font-size="7.2" text-anchor="middle" fill="#1a1a1a" stroke="#1a1a1a" stroke-width="0.18">30</text>
<text transform="translate(309.92,340.91) scale(0.6500,1)" font-family='"Liberation Serif", serif' font-weight="normal" font-size="7.2" text-anchor="middle" fill="#1a1a1a" stroke="#1a1a1a" stroke-width="0.18">40</text>
<text transform="translate(322.57,340.91) scale(0.6500,1)" font-family='"Liberation Serif", serif' font-weight="normal" font-size="7.2" text-anchor="middle" fill="#1a1a1a" stroke="#1a1a1a" stroke-width="0.18">50</text>
<text transform="translate(335.22,340.91) scale(0.6500,1)" font-family='"Liberation Serif", serif' font-weight="normal" font-size="7.2" text-anchor="middle" fill="#1a1a1a" stroke="#1a1a1a" stroke-width="0.18">60</text>
<text transform="translate(347.88,340.91) scale(0.6500,1)" font-family='"Liberation Serif", serif' font-weight="normal" font-size="7.2" text-anchor="middle" fill="#1a1a1a" stroke="#1a1a1a" stroke-width="0.18">70</text>
<text transform="translate(360.53,340.91) scale(0.6500,1)" font-family='"Liberation Serif", serif' font-weight="normal" font-size="7.2" text-anchor="middle" fill="#1a1a1a" stroke="#1a1a1a" stroke-width="0.18">80</text>
<text transform="translate(373.18,340.91) scale(0.6500,1)" font-family='"Liberation Serif", serif' font-weight="normal" font-size="7.2" text-anchor="middle" fill="#1a1a1a" stroke="#1a1a1a" stroke-width="0.18">90</text>
<text transform="translate(385.84,340.91) scale(0.6500,1)" font-family='"Liberation Serif", serif' font-weight="normal" font-size="7.2" text-anchor="middle" fill="#1a1a1a" stroke="#1a1a1a" stroke-width="0.18">100</text>
<text transform="translate(398.49,340.91) scale(0.6500,1)" font-family='"Liberation Serif", serif' font-weight="normal" font-size="7.2" text-anchor="middle" fill="#1a1a1a" stroke="#1a1a1a" stroke-width="0.18">110</text>
<text transform="translate(411.15,340.91) scale(0.6500,1)" font-family='"Liberation Serif", serif' font-weight="normal" font-size="7.2" text-anchor="middle" fill="#1a1a1a" stroke="#1a1a1a" stroke-width="0.18">120</text>
<text transform="translate(423.8,340.91) scale(0.6500,1)" font-family='"Liberation Serif", serif' font-weight="normal" font-size="7.2" text-anchor="middle" fill="#1a1a1a" stroke="#1a1a1a" stroke-width="0.18">130</text>
<text transform="translate(330.1,349.8) scale(0.7803,1)" font-family='"Liberation Serif", serif' font-weight="normal" font-size="6.8" text-anchor="start" fill="#1a1a1a" stroke="#1a1a1a" stroke-width="0.1">Time(min)</text>
<text transform="translate(241.4,315.3) rotate(-90) scale(1.1312,1)" font-family='"Liberation Serif", serif' font-weight="normal" font-size="5.5" text-anchor="start" fill="#1a1a1a" stroke="#1a1a1a" stroke-width="0.1">Removal %</text>
<text transform="translate(284.2,254.8) scale(0.7700,1)" font-family='"Liberation Serif", serif' font-weight="normal" font-size="8" text-anchor="start" fill="#1a1a1a" stroke="#1a1a1a" stroke-width="0.18">15 mg/l of OP using different wt. of NB and Na-B</text>
<text transform="translate(233.7,259.6) scale(1.0000,1)" font-family='"Liberation Serif", serif' font-weight="bold" font-size="13.3" text-anchor="start" fill="#000">i</text>
<polyline points="265.63,329.7 271.95,327.13 278.28,325.34 284.61,322.76 290.93,321.53 297.26,319.51 303.59,316.94 309.92,315.26 316.24,313.24 322.57,311.67 335.22,311.67 347.88,311.67 360.53,311.67 373.18,311.67 411.15,311.67" fill="none" stroke="#3E5FC8" stroke-width="1.05" stroke-linejoin="round"/>
<circle cx="265.63" cy="329.7" r="1.5" fill="#0E0E22"/>
<circle cx="271.95" cy="327.13" r="1.5" fill="#0E0E22"/>
<circle cx="278.28" cy="325.34" r="1.5" fill="#0E0E22"/>
<circle cx="284.61" cy="322.76" r="1.5" fill="#0E0E22"/>
<circle cx="290.93" cy="321.53" r="1.5" fill="#0E0E22"/>
<circle cx="297.26" cy="319.51" r="1.5" fill="#0E0E22"/>
<circle cx="303.59" cy="316.94" r="1.5" fill="#0E0E22"/>
<circle cx="309.92" cy="315.26" r="1.5" fill="#0E0E22"/>
<circle cx="316.24" cy="313.24" r="1.5" fill="#0E0E22"/>
<circle cx="322.57" cy="311.67" r="1.5" fill="#0E0E22"/>
<circle cx="335.22" cy="311.67" r="1.5" fill="#0E0E22"/>
<circle cx="347.88" cy="311.67" r="1.5" fill="#0E0E22"/>
<circle cx="360.53" cy="311.67" r="1.5" fill="#0E0E22"/>
<circle cx="373.18" cy="311.67" r="1.5" fill="#0E0E22"/>
<circle cx="411.15" cy="311.67" r="1.5" fill="#0E0E22"/>
<polyline points="265.63,328.7 271.95,326.12 278.28,324.55 284.61,320.3 290.93,317.05 297.26,313.91 303.59,308.76 309.92,303.61 316.24,297.56 322.57,290.62 335.22,290.62 347.88,290.62 360.53,290.62 373.18,291.06 411.15,290.62" fill="none" stroke="#E0262A" stroke-width="1.05" stroke-linejoin="round"/>
<circle cx="265.63" cy="328.7" r="1.5" fill="#E01818"/>
<circle cx="271.95" cy="326.12" r="1.5" fill="#E01818"/>
<circle cx="278.28" cy="324.55" r="1.5" fill="#E01818"/>
<circle cx="284.61" cy="320.3" r="1.5" fill="#E01818"/>
<circle cx="290.93" cy="317.05" r="1.5" fill="#E01818"/>
<circle cx="297.26" cy="313.91" r="1.5" fill="#E01818"/>
<circle cx="303.59" cy="308.76" r="1.5" fill="#E01818"/>
<circle cx="309.92" cy="303.61" r="1.5" fill="#E01818"/>
<circle cx="316.24" cy="297.56" r="1.5" fill="#E01818"/>
<circle cx="322.57" cy="290.62" r="1.5" fill="#E01818"/>
<circle cx="335.22" cy="290.62" r="1.5" fill="#E01818"/>
<circle cx="347.88" cy="290.62" r="1.5" fill="#E01818"/>
<circle cx="360.53" cy="290.62" r="1.5" fill="#E01818"/>
<circle cx="373.18" cy="291.06" r="1.5" fill="#E01818"/>
<circle cx="411.15" cy="290.62" r="1.5" fill="#E01818"/>
<polyline points="265.63,328.92 271.95,327.46 278.28,325 284.61,322.76 290.93,319.96 297.26,316.6 303.59,313.24 309.92,311.67 316.24,308.42 322.57,308.09 335.22,308.09 347.88,308.09 360.53,308.42 373.18,308.42 411.15,308.42" fill="none" stroke="#A6E22E" stroke-width="1.05" stroke-linejoin="round"/>
<circle cx="265.63" cy="328.92" r="1.5" fill="#A6E22E"/>
<circle cx="271.95" cy="327.46" r="1.5" fill="#A6E22E"/>
<circle cx="278.28" cy="325" r="1.5" fill="#A6E22E"/>
<circle cx="284.61" cy="322.76" r="1.5" fill="#A6E22E"/>
<circle cx="290.93" cy="319.96" r="1.5" fill="#A6E22E"/>
<circle cx="297.26" cy="316.6" r="1.5" fill="#A6E22E"/>
<circle cx="303.59" cy="313.24" r="1.5" fill="#A6E22E"/>
<circle cx="309.92" cy="311.67" r="1.5" fill="#A6E22E"/>
<circle cx="316.24" cy="308.42" r="1.5" fill="#A6E22E"/>
<circle cx="322.57" cy="308.09" r="1.5" fill="#A6E22E"/>
<circle cx="335.22" cy="308.09" r="1.5" fill="#A6E22E"/>
<circle cx="347.88" cy="308.09" r="1.5" fill="#A6E22E"/>
<circle cx="360.53" cy="308.42" r="1.5" fill="#A6E22E"/>
<circle cx="373.18" cy="308.42" r="1.5" fill="#A6E22E"/>
<circle cx="411.15" cy="308.42" r="1.5" fill="#A6E22E"/>
<polyline points="265.63,327.91 271.95,325.34 278.28,323.54 284.61,318.95 290.93,314.47 297.26,310.55 303.59,305.96 309.92,301.03 316.24,296.44 322.57,285.46 335.22,286.02 347.88,286.02 360.53,286.02 373.18,286.02 411.15,286.02" fill="none" stroke="#6A30D2" stroke-width="1.05" stroke-linejoin="round"/>
<circle cx="265.63" cy="327.91" r="1.5" fill="#6A20E0"/>
<circle cx="271.95" cy="325.34" r="1.5" fill="#6A20E0"/>
<circle cx="278.28" cy="323.54" r="1.5" fill="#6A20E0"/>
<circle cx="284.61" cy="318.95" r="1.5" fill="#6A20E0"/>
<circle cx="290.93" cy="314.47" r="1.5" fill="#6A20E0"/>
<circle cx="297.26" cy="310.55" r="1.5" fill="#6A20E0"/>
<circle cx="303.59" cy="305.96" r="1.5" fill="#6A20E0"/>
<circle cx="309.92" cy="301.03" r="1.5" fill="#6A20E0"/>
<circle cx="316.24" cy="296.44" r="1.5" fill="#6A20E0"/>
<circle cx="322.57" cy="285.46" r="1.5" fill="#6A20E0"/>
<circle cx="335.22" cy="286.02" r="1.5" fill="#6A20E0"/>
<circle cx="347.88" cy="286.02" r="1.5" fill="#6A20E0"/>
<circle cx="360.53" cy="286.02" r="1.5" fill="#6A20E0"/>
<circle cx="373.18" cy="286.02" r="1.5" fill="#6A20E0"/>
<circle cx="411.15" cy="286.02" r="1.5" fill="#6A20E0"/>
<polyline points="265.63,329.48 271.95,327.13 278.28,324.55 284.61,322.54 290.93,320.3 297.26,317.72 303.59,314.36 309.92,312.12 316.24,309.88 322.57,308.42 335.22,308.87 347.88,308.87 360.53,308.87 373.18,308.87 411.15,308.87" fill="none" stroke="#2EB6D6" stroke-width="1.05" stroke-linejoin="round"/>
<circle cx="265.63" cy="329.48" r="1.5" fill="#10303A"/>
<circle cx="271.95" cy="327.13" r="1.5" fill="#10303A"/>
<circle cx="278.28" cy="324.55" r="1.5" fill="#10303A"/>
<circle cx="284.61" cy="322.54" r="1.5" fill="#10303A"/>
<circle cx="290.93" cy="320.3" r="1.5" fill="#10303A"/>
<circle cx="297.26" cy="317.72" r="1.5" fill="#10303A"/>
<circle cx="303.59" cy="314.36" r="1.5" fill="#10303A"/>
<circle cx="309.92" cy="312.12" r="1.5" fill="#10303A"/>
<circle cx="316.24" cy="309.88" r="1.5" fill="#10303A"/>
<circle cx="322.57" cy="308.42" r="1.5" fill="#10303A"/>
<circle cx="335.22" cy="308.87" r="1.5" fill="#10303A"/>
<circle cx="347.88" cy="308.87" r="1.5" fill="#10303A"/>
<circle cx="360.53" cy="308.87" r="1.5" fill="#10303A"/>
<circle cx="373.18" cy="308.87" r="1.5" fill="#10303A"/>
<circle cx="411.15" cy="308.87" r="1.5" fill="#10303A"/>
<polyline points="265.63,326.57 271.95,325.34 278.28,323.54 284.61,317.05 290.93,313.91 297.26,308.42 303.59,305.51 309.92,297.22 316.24,288.04 322.57,279.64 335.22,279.64 347.88,279.64 360.53,280.42 373.18,280.42 411.15,280.42" fill="none" stroke="#FF8C24" stroke-width="1.05" stroke-linejoin="round"/>
<circle cx="265.63" cy="326.57" r="1.5" fill="#FF8C24"/>
<circle cx="271.95" cy="325.34" r="1.5" fill="#FF8C24"/>
<circle cx="278.28" cy="323.54" r="1.5" fill="#FF8C24"/>
<circle cx="284.61" cy="317.05" r="1.5" fill="#FF8C24"/>
<circle cx="290.93" cy="313.91" r="1.5" fill="#FF8C24"/>
<circle cx="297.26" cy="308.42" r="1.5" fill="#FF8C24"/>
<circle cx="303.59" cy="305.51" r="1.5" fill="#FF8C24"/>
<circle cx="309.92" cy="297.22" r="1.5" fill="#FF8C24"/>
<circle cx="316.24" cy="288.04" r="1.5" fill="#FF8C24"/>
<circle cx="322.57" cy="279.64" r="1.5" fill="#FF8C24"/>
<circle cx="335.22" cy="279.64" r="1.5" fill="#FF8C24"/>
<circle cx="347.88" cy="279.64" r="1.5" fill="#FF8C24"/>
<circle cx="360.53" cy="280.42" r="1.5" fill="#FF8C24"/>
<circle cx="373.18" cy="280.42" r="1.5" fill="#FF8C24"/>
<circle cx="411.15" cy="280.42" r="1.5" fill="#FF8C24"/>
<polyline points="265.63,329.14 271.95,327.13 278.28,325.34 284.61,323.88 290.93,322.31 297.26,320.07 303.59,317.05 309.92,314.7 316.24,311.11 322.57,308.42 335.22,308.65 347.88,308.65 360.53,308.65 373.18,308.65 411.15,308.65" fill="none" stroke="#1E2F6A" stroke-width="1.05" stroke-linejoin="round"/>
<circle cx="265.63" cy="329.14" r="1.5" fill="#0C1A44"/>
<circle cx="271.95" cy="327.13" r="1.5" fill="#0C1A44"/>
<circle cx="278.28" cy="325.34" r="1.5" fill="#0C1A44"/>
<circle cx="284.61" cy="323.88" r="1.5" fill="#0C1A44"/>
<circle cx="290.93" cy="322.31" r="1.5" fill="#0C1A44"/>
<circle cx="297.26" cy="320.07" r="1.5" fill="#0C1A44"/>
<circle cx="303.59" cy="317.05" r="1.5" fill="#0C1A44"/>
<circle cx="309.92" cy="314.7" r="1.5" fill="#0C1A44"/>
<circle cx="316.24" cy="311.11" r="1.5" fill="#0C1A44"/>
<circle cx="322.57" cy="308.42" r="1.5" fill="#0C1A44"/>
<circle cx="335.22" cy="308.65" r="1.5" fill="#0C1A44"/>
<circle cx="347.88" cy="308.65" r="1.5" fill="#0C1A44"/>
<circle cx="360.53" cy="308.65" r="1.5" fill="#0C1A44"/>
<circle cx="373.18" cy="308.65" r="1.5" fill="#0C1A44"/>
<circle cx="411.15" cy="308.65" r="1.5" fill="#0C1A44"/>
<polyline points="265.63,324.55 271.95,323.54 278.28,321.53 284.61,312.34 290.93,303.61 297.26,298.57 303.59,289.83 309.92,279.64 316.24,278.52 322.57,276.39 335.22,276.39 347.88,276.62 360.53,277.29 373.18,276.62 411.15,277.29" fill="none" stroke="#5C1C1C" stroke-width="1.05" stroke-linejoin="round"/>
<circle cx="265.63" cy="324.55" r="1.5" fill="#380808"/>
<circle cx="271.95" cy="323.54" r="1.5" fill="#380808"/>
<circle cx="278.28" cy="321.53" r="1.5" fill="#380808"/>
<circle cx="284.61" cy="312.34" r="1.5" fill="#380808"/>
<circle cx="290.93" cy="303.61" r="1.5" fill="#380808"/>
<circle cx="297.26" cy="298.57" r="1.5" fill="#380808"/>
<circle cx="303.59" cy="289.83" r="1.5" fill="#380808"/>
<circle cx="309.92" cy="279.64" r="1.5" fill="#380808"/>
<circle cx="316.24" cy="278.52" r="1.5" fill="#380808"/>
<circle cx="322.57" cy="276.39" r="1.5" fill="#380808"/>
<circle cx="335.22" cy="276.39" r="1.5" fill="#380808"/>
<circle cx="347.88" cy="276.62" r="1.5" fill="#380808"/>
<circle cx="360.53" cy="277.29" r="1.5" fill="#380808"/>
<circle cx="373.18" cy="276.62" r="1.5" fill="#380808"/>
<circle cx="411.15" cy="277.29" r="1.5" fill="#380808"/>
<line x1="425" y1="265" x2="434.6" y2="265" stroke="#4A6ACF" stroke-width="1"/>
<circle cx="429.8" cy="265" r="1.5" fill="#0E0E22"/>
<text transform="translate(435.2,267.35) scale(0.7100,1)" font-family='"Liberation Serif", serif' font-weight="normal" font-size="7" text-anchor="start" fill="#1a1a1a" stroke="#1a1a1a" stroke-width="0.18">0.5g NB</text>
<line x1="425" y1="274.3" x2="434.6" y2="274.3" stroke="#E0404A" stroke-width="1"/>
<circle cx="429.8" cy="274.3" r="1.5" fill="#E01818"/>
<text transform="translate(435.2,276.65) scale(0.7100,1)" font-family='"Liberation Serif", serif' font-weight="normal" font-size="7" text-anchor="start" fill="#1a1a1a" stroke="#1a1a1a" stroke-width="0.18">0.5g Na-B</text>
<line x1="425" y1="283.6" x2="434.6" y2="283.6" stroke="#A6E22E" stroke-width="1"/>
<circle cx="429.8" cy="283.6" r="1.5" fill="#A6E22E"/>
<text transform="translate(435.2,285.95) scale(0.7100,1)" font-family='"Liberation Serif", serif' font-weight="normal" font-size="7" text-anchor="start" fill="#1a1a1a" stroke="#1a1a1a" stroke-width="0.18">1g NB</text>
<line x1="425" y1="292.9" x2="434.6" y2="292.9" stroke="#5A30C8" stroke-width="1"/>
<circle cx="429.8" cy="292.9" r="1.5" fill="#6A20E0"/>
<text transform="translate(435.2,295.25) scale(0.7100,1)" font-family='"Liberation Serif", serif' font-weight="normal" font-size="7" text-anchor="start" fill="#1a1a1a" stroke="#1a1a1a" stroke-width="0.18">1g Na-B</text>
<line x1="425" y1="302.2" x2="434.6" y2="302.2" stroke="#40B8E0" stroke-width="1"/>
<circle cx="429.8" cy="302.2" r="1.5" fill="#10303A"/>
<text transform="translate(435.2,304.55) scale(0.7100,1)" font-family='"Liberation Serif", serif' font-weight="normal" font-size="7" text-anchor="start" fill="#1a1a1a" stroke="#1a1a1a" stroke-width="0.18">1.5g NB</text>
<line x1="425" y1="311.5" x2="434.6" y2="311.5" stroke="#FFA050" stroke-width="1"/>
<circle cx="429.8" cy="311.5" r="1.5" fill="#FF8C24"/>
<text transform="translate(435.2,313.85) scale(0.7100,1)" font-family='"Liberation Serif", serif' font-weight="normal" font-size="7" text-anchor="start" fill="#1a1a1a" stroke="#1a1a1a" stroke-width="0.18">1.5g Na-B</text>
<line x1="425" y1="320.8" x2="434.6" y2="320.8" stroke="#1E2F6A" stroke-width="1"/>
<circle cx="429.8" cy="320.8" r="1.5" fill="#0C1A44"/>
<text transform="translate(435.2,323.15) scale(0.7100,1)" font-family='"Liberation Serif", serif' font-weight="normal" font-size="7" text-anchor="start" fill="#1a1a1a" stroke="#1a1a1a" stroke-width="0.18">2g NB</text>
<line x1="425" y1="330.1" x2="434.6" y2="330.1" stroke="#6A2424" stroke-width="1"/>
<circle cx="429.8" cy="330.1" r="1.5" fill="#380808"/>
<text transform="translate(435.2,332.45) scale(0.7100,1)" font-family='"Liberation Serif", serif' font-weight="normal" font-size="7" text-anchor="start" fill="#1a1a1a" stroke="#1a1a1a" stroke-width="0.18">2g Na-B</text>
<line x1="488.3" y1="321.3" x2="637.8" y2="321.3" stroke="#F2F2F2" stroke-width="0.8"/>
<line x1="488.3" y1="307.7" x2="637.8" y2="307.7" stroke="#F2F2F2" stroke-width="0.8"/>
<line x1="488.3" y1="294.1" x2="637.8" y2="294.1" stroke="#F2F2F2" stroke-width="0.8"/>
<line x1="488.3" y1="280.5" x2="637.8" y2="280.5" stroke="#F2F2F2" stroke-width="0.8"/>
<line x1="488.3" y1="266.9" x2="637.8" y2="266.9" stroke="#F2F2F2" stroke-width="0.8"/>
<line x1="488.3" y1="266.9" x2="488.3" y2="334.9" stroke="#F0A6AC" stroke-width="0.9"/>
<line x1="487.85" y1="334.9" x2="637.8" y2="334.9" stroke="#F0A6AC" stroke-width="0.9"/>
<line x1="499.8" y1="332.7" x2="499.8" y2="334.9" stroke="#F0A6AC" stroke-width="0.7"/>
<line x1="511.3" y1="332.7" x2="511.3" y2="334.9" stroke="#F0A6AC" stroke-width="0.7"/>
<line x1="522.8" y1="332.7" x2="522.8" y2="334.9" stroke="#F0A6AC" stroke-width="0.7"/>
<line x1="534.3" y1="332.7" x2="534.3" y2="334.9" stroke="#F0A6AC" stroke-width="0.7"/>
<line x1="545.8" y1="332.7" x2="545.8" y2="334.9" stroke="#F0A6AC" stroke-width="0.7"/>
<line x1="557.3" y1="332.7" x2="557.3" y2="334.9" stroke="#F0A6AC" stroke-width="0.7"/>
<line x1="568.8" y1="332.7" x2="568.8" y2="334.9" stroke="#F0A6AC" stroke-width="0.7"/>
<line x1="580.3" y1="332.7" x2="580.3" y2="334.9" stroke="#F0A6AC" stroke-width="0.7"/>
<line x1="591.8" y1="332.7" x2="591.8" y2="334.9" stroke="#F0A6AC" stroke-width="0.7"/>
<line x1="603.3" y1="332.7" x2="603.3" y2="334.9" stroke="#F0A6AC" stroke-width="0.7"/>
<line x1="614.8" y1="332.7" x2="614.8" y2="334.9" stroke="#F0A6AC" stroke-width="0.7"/>
<line x1="626.3" y1="332.7" x2="626.3" y2="334.9" stroke="#F0A6AC" stroke-width="0.7"/>
<line x1="637.8" y1="332.7" x2="637.8" y2="334.9" stroke="#F0A6AC" stroke-width="0.7"/>
<text transform="translate(484,337.31) scale(0.6500,1)" font-family='"Liberation Serif", serif' font-weight="normal" font-size="7.2" text-anchor="end" fill="#1a1a1a" stroke="#1a1a1a" stroke-width="0.18">0</text>
<text transform="translate(484,323.71) scale(0.6500,1)" font-family='"Liberation Serif", serif' font-weight="normal" font-size="7.2" text-anchor="end" fill="#1a1a1a" stroke="#1a1a1a" stroke-width="0.18">10</text>
<text transform="translate(484,310.11) scale(0.6500,1)" font-family='"Liberation Serif", serif' font-weight="normal" font-size="7.2" text-anchor="end" fill="#1a1a1a" stroke="#1a1a1a" stroke-width="0.18">20</text>
<text transform="translate(484,296.51) scale(0.6500,1)" font-family='"Liberation Serif", serif' font-weight="normal" font-size="7.2" text-anchor="end" fill="#1a1a1a" stroke="#1a1a1a" stroke-width="0.18">30</text>
<text transform="translate(484,282.91) scale(0.6500,1)" font-family='"Liberation Serif", serif' font-weight="normal" font-size="7.2" text-anchor="end" fill="#1a1a1a" stroke="#1a1a1a" stroke-width="0.18">40</text>
<text transform="translate(484,269.31) scale(0.6500,1)" font-family='"Liberation Serif", serif' font-weight="normal" font-size="7.2" text-anchor="end" fill="#1a1a1a" stroke="#1a1a1a" stroke-width="0.18">50</text>
<text transform="translate(488.3,344.91) scale(0.6500,1)" font-family='"Liberation Serif", serif' font-weight="normal" font-size="7.2" text-anchor="middle" fill="#1a1a1a" stroke="#1a1a1a" stroke-width="0.18">0</text>
<text transform="translate(499.8,344.91) scale(0.6500,1)" font-family='"Liberation Serif", serif' font-weight="normal" font-size="7.2" text-anchor="middle" fill="#1a1a1a" stroke="#1a1a1a" stroke-width="0.18">10</text>
<text transform="translate(511.3,344.91) scale(0.6500,1)" font-family='"Liberation Serif", serif' font-weight="normal" font-size="7.2" text-anchor="middle" fill="#1a1a1a" stroke="#1a1a1a" stroke-width="0.18">20</text>
<text transform="translate(522.8,344.91) scale(0.6500,1)" font-family='"Liberation Serif", serif' font-weight="normal" font-size="7.2" text-anchor="middle" fill="#1a1a1a" stroke="#1a1a1a" stroke-width="0.18">30</text>
<text transform="translate(534.3,344.91) scale(0.6500,1)" font-family='"Liberation Serif", serif' font-weight="normal" font-size="7.2" text-anchor="middle" fill="#1a1a1a" stroke="#1a1a1a" stroke-width="0.18">40</text>
<text transform="translate(545.8,344.91) scale(0.6500,1)" font-family='"Liberation Serif", serif' font-weight="normal" font-size="7.2" text-anchor="middle" fill="#1a1a1a" stroke="#1a1a1a" stroke-width="0.18">50</text>
<text transform="translate(557.3,344.91) scale(0.6500,1)" font-family='"Liberation Serif", serif' font-weight="normal" font-size="7.2" text-anchor="middle" fill="#1a1a1a" stroke="#1a1a1a" stroke-width="0.18">60</text>
<text transform="translate(568.8,344.91) scale(0.6500,1)" font-family='"Liberation Serif", serif' font-weight="normal" font-size="7.2" text-anchor="middle" fill="#1a1a1a" stroke="#1a1a1a" stroke-width="0.18">70</text>
<text transform="translate(580.3,344.91) scale(0.6500,1)" font-family='"Liberation Serif", serif' font-weight="normal" font-size="7.2" text-anchor="middle" fill="#1a1a1a" stroke="#1a1a1a" stroke-width="0.18">80</text>
<text transform="translate(591.8,344.91) scale(0.6500,1)" font-family='"Liberation Serif", serif' font-weight="normal" font-size="7.2" text-anchor="middle" fill="#1a1a1a" stroke="#1a1a1a" stroke-width="0.18">90</text>
<text transform="translate(603.3,344.91) scale(0.6500,1)" font-family='"Liberation Serif", serif' font-weight="normal" font-size="7.2" text-anchor="middle" fill="#1a1a1a" stroke="#1a1a1a" stroke-width="0.18">100</text>
<text transform="translate(614.8,344.91) scale(0.6500,1)" font-family='"Liberation Serif", serif' font-weight="normal" font-size="7.2" text-anchor="middle" fill="#1a1a1a" stroke="#1a1a1a" stroke-width="0.18">110</text>
<text transform="translate(626.3,344.91) scale(0.6500,1)" font-family='"Liberation Serif", serif' font-weight="normal" font-size="7.2" text-anchor="middle" fill="#1a1a1a" stroke="#1a1a1a" stroke-width="0.18">120</text>
<text transform="translate(637.8,344.91) scale(0.6500,1)" font-family='"Liberation Serif", serif' font-weight="normal" font-size="7.2" text-anchor="middle" fill="#1a1a1a" stroke="#1a1a1a" stroke-width="0.18">130</text>
<text transform="translate(551.6,353.9) scale(0.7289,1)" font-family='"Liberation Serif", serif' font-weight="normal" font-size="7" text-anchor="start" fill="#1a1a1a" stroke="#1a1a1a" stroke-width="0.1">Time (min)</text>
<text transform="translate(471.9,319.5) rotate(-90) scale(1.1234,1)" font-family='"Liberation Serif", serif' font-weight="normal" font-size="5.5" text-anchor="start" fill="#1a1a1a" stroke="#1a1a1a" stroke-width="0.1">Removal %</text>
<text transform="translate(504.8,258.5) scale(0.7737,1)" font-family='"Liberation Serif", serif' font-weight="normal" font-size="8" text-anchor="start" fill="#1a1a1a" stroke="#1a1a1a" stroke-width="0.18">20 mg/l of OP using different wt. of NB and Na-B</text>
<text transform="translate(462.6,255.2) scale(1.0000,1)" font-family='"Liberation Serif", serif' font-weight="bold" font-size="12" text-anchor="start" fill="#000">j</text>
<polyline points="494.05,331.91 499.8,329.6 505.55,328.37 511.3,326.74 517.05,324.97 522.8,323.07 528.55,321.98 534.3,321.71 540.05,318.99 545.8,316.27 557.3,316.81 568.8,316.81 580.3,316.81 591.8,316.81 626.3,316.81" fill="none" stroke="#3E5FC8" stroke-width="1.05" stroke-linejoin="round"/>
<circle cx="494.05" cy="331.91" r="1.5" fill="#0E0E22"/>
<circle cx="499.8" cy="329.6" r="1.5" fill="#0E0E22"/>
<circle cx="505.55" cy="328.37" r="1.5" fill="#0E0E22"/>
<circle cx="511.3" cy="326.74" r="1.5" fill="#0E0E22"/>
<circle cx="517.05" cy="324.97" r="1.5" fill="#0E0E22"/>
<circle cx="522.8" cy="323.07" r="1.5" fill="#0E0E22"/>
<circle cx="528.55" cy="321.98" r="1.5" fill="#0E0E22"/>
<circle cx="534.3" cy="321.71" r="1.5" fill="#0E0E22"/>
<circle cx="540.05" cy="318.99" r="1.5" fill="#0E0E22"/>
<circle cx="545.8" cy="316.27" r="1.5" fill="#0E0E22"/>
<circle cx="557.3" cy="316.81" r="1.5" fill="#0E0E22"/>
<circle cx="568.8" cy="316.81" r="1.5" fill="#0E0E22"/>
<circle cx="580.3" cy="316.81" r="1.5" fill="#0E0E22"/>
<circle cx="591.8" cy="316.81" r="1.5" fill="#0E0E22"/>
<circle cx="626.3" cy="316.81" r="1.5" fill="#0E0E22"/>
<polyline points="494.05,329.05 499.8,323.07 505.55,318.44 511.3,313 517.05,305.66 522.8,296.55 528.55,293.56 534.3,290.43 540.05,290.97 545.8,290.97 557.3,291.24 568.8,291.92 580.3,291.24 591.8,291.24 626.3,291.24" fill="none" stroke="#E0262A" stroke-width="1.05" stroke-linejoin="round"/>
<circle cx="494.05" cy="329.05" r="1.5" fill="#E01818"/>
<circle cx="499.8" cy="323.07" r="1.5" fill="#E01818"/>
<circle cx="505.55" cy="318.44" r="1.5" fill="#E01818"/>
<circle cx="511.3" cy="313" r="1.5" fill="#E01818"/>
<circle cx="517.05" cy="305.66" r="1.5" fill="#E01818"/>
<circle cx="522.8" cy="296.55" r="1.5" fill="#E01818"/>
<circle cx="528.55" cy="293.56" r="1.5" fill="#E01818"/>
<circle cx="534.3" cy="290.43" r="1.5" fill="#E01818"/>
<circle cx="540.05" cy="290.97" r="1.5" fill="#E01818"/>
<circle cx="545.8" cy="290.97" r="1.5" fill="#E01818"/>
<circle cx="557.3" cy="291.24" r="1.5" fill="#E01818"/>
<circle cx="568.8" cy="291.92" r="1.5" fill="#E01818"/>
<circle cx="580.3" cy="291.24" r="1.5" fill="#E01818"/>
<circle cx="591.8" cy="291.24" r="1.5" fill="#E01818"/>
<circle cx="626.3" cy="291.24" r="1.5" fill="#E01818"/>
<polyline points="494.05,331.5 499.8,331.91 505.55,329.05 511.3,327.69 517.05,326.74 522.8,324.97 528.55,323.07 534.3,320.21 540.05,317.9 545.8,315.59 557.3,316.13 568.8,316.13 580.3,316.13 591.8,316.13 626.3,316.13" fill="none" stroke="#A6E22E" stroke-width="1.05" stroke-linejoin="round"/>
<circle cx="494.05" cy="331.5" r="1.5" fill="#A6E22E"/>
<circle cx="499.8" cy="331.91" r="1.5" fill="#A6E22E"/>
<circle cx="505.55" cy="329.05" r="1.5" fill="#A6E22E"/>
<circle cx="511.3" cy="327.69" r="1.5" fill="#A6E22E"/>
<circle cx="517.05" cy="326.74" r="1.5" fill="#A6E22E"/>
<circle cx="522.8" cy="324.97" r="1.5" fill="#A6E22E"/>
<circle cx="528.55" cy="323.07" r="1.5" fill="#A6E22E"/>
<circle cx="534.3" cy="320.21" r="1.5" fill="#A6E22E"/>
<circle cx="540.05" cy="317.9" r="1.5" fill="#A6E22E"/>
<circle cx="545.8" cy="315.59" r="1.5" fill="#A6E22E"/>
<circle cx="557.3" cy="316.13" r="1.5" fill="#A6E22E"/>
<circle cx="568.8" cy="316.13" r="1.5" fill="#A6E22E"/>
<circle cx="580.3" cy="316.13" r="1.5" fill="#A6E22E"/>
<circle cx="591.8" cy="316.13" r="1.5" fill="#A6E22E"/>
<circle cx="626.3" cy="316.13" r="1.5" fill="#A6E22E"/>
<polyline points="494.05,315.59 499.8,311.24 505.55,309.06 511.3,306.07 517.05,303.08 522.8,301.04 528.55,301.17 534.3,297.5 540.05,293.56 545.8,287.98 557.3,288.93 568.8,288.93 580.3,288.93 591.8,288.93 626.3,288.93" fill="none" stroke="#6A30D2" stroke-width="1.05" stroke-linejoin="round"/>
<circle cx="494.05" cy="315.59" r="1.5" fill="#6A20E0"/>
<circle cx="499.8" cy="311.24" r="1.5" fill="#6A20E0"/>
<circle cx="505.55" cy="309.06" r="1.5" fill="#6A20E0"/>
<circle cx="511.3" cy="306.07" r="1.5" fill="#6A20E0"/>
<circle cx="517.05" cy="303.08" r="1.5" fill="#6A20E0"/>
<circle cx="522.8" cy="301.04" r="1.5" fill="#6A20E0"/>
<circle cx="528.55" cy="301.17" r="1.5" fill="#6A20E0"/>
<circle cx="534.3" cy="297.5" r="1.5" fill="#6A20E0"/>
<circle cx="540.05" cy="293.56" r="1.5" fill="#6A20E0"/>
<circle cx="545.8" cy="287.98" r="1.5" fill="#6A20E0"/>
<circle cx="557.3" cy="288.93" r="1.5" fill="#6A20E0"/>
<circle cx="568.8" cy="288.93" r="1.5" fill="#6A20E0"/>
<circle cx="580.3" cy="288.93" r="1.5" fill="#6A20E0"/>
<circle cx="591.8" cy="288.93" r="1.5" fill="#6A20E0"/>
<circle cx="626.3" cy="288.93" r="1.5" fill="#6A20E0"/>
<polyline points="494.05,331.91 499.8,330 505.55,328.37 511.3,327.28 517.05,325.38 522.8,323.75 528.55,321.98 534.3,320.62 540.05,318.58 545.8,316.81 557.3,317.49 568.8,317.9 580.3,317.9 591.8,317.9 626.3,317.9" fill="none" stroke="#2EB6D6" stroke-width="1.05" stroke-linejoin="round"/>
<circle cx="494.05" cy="331.91" r="1.5" fill="#10303A"/>
<circle cx="499.8" cy="330" r="1.5" fill="#10303A"/>
<circle cx="505.55" cy="328.37" r="1.5" fill="#10303A"/>
<circle cx="511.3" cy="327.28" r="1.5" fill="#10303A"/>
<circle cx="517.05" cy="325.38" r="1.5" fill="#10303A"/>
<circle cx="522.8" cy="323.75" r="1.5" fill="#10303A"/>
<circle cx="528.55" cy="321.98" r="1.5" fill="#10303A"/>
<circle cx="534.3" cy="320.62" r="1.5" fill="#10303A"/>
<circle cx="540.05" cy="318.58" r="1.5" fill="#10303A"/>
<circle cx="545.8" cy="316.81" r="1.5" fill="#10303A"/>
<circle cx="557.3" cy="317.49" r="1.5" fill="#10303A"/>
<circle cx="568.8" cy="317.9" r="1.5" fill="#10303A"/>
<circle cx="580.3" cy="317.9" r="1.5" fill="#10303A"/>
<circle cx="591.8" cy="317.9" r="1.5" fill="#10303A"/>
<circle cx="626.3" cy="317.9" r="1.5" fill="#10303A"/>
<polyline points="494.05,328.37 499.8,324.97 505.55,322.93 511.3,318.44 517.05,312.46 522.8,303.76 528.55,298.72 534.3,292.74 540.05,286.21 545.8,281.32 557.3,282.68 568.8,282.68 580.3,281.86 591.8,281.18 626.3,282.68" fill="none" stroke="#FF8C24" stroke-width="1.05" stroke-linejoin="round"/>
<circle cx="494.05" cy="328.37" r="1.5" fill="#FF8C24"/>
<circle cx="499.8" cy="324.97" r="1.5" fill="#FF8C24"/>
<circle cx="505.55" cy="322.93" r="1.5" fill="#FF8C24"/>
<circle cx="511.3" cy="318.44" r="1.5" fill="#FF8C24"/>
<circle cx="517.05" cy="312.46" r="1.5" fill="#FF8C24"/>
<circle cx="522.8" cy="303.76" r="1.5" fill="#FF8C24"/>
<circle cx="528.55" cy="298.72" r="1.5" fill="#FF8C24"/>
<circle cx="534.3" cy="292.74" r="1.5" fill="#FF8C24"/>
<circle cx="540.05" cy="286.21" r="1.5" fill="#FF8C24"/>
<circle cx="545.8" cy="281.32" r="1.5" fill="#FF8C24"/>
<circle cx="557.3" cy="282.68" r="1.5" fill="#FF8C24"/>
<circle cx="568.8" cy="282.68" r="1.5" fill="#FF8C24"/>
<circle cx="580.3" cy="281.86" r="1.5" fill="#FF8C24"/>
<circle cx="591.8" cy="281.18" r="1.5" fill="#FF8C24"/>
<circle cx="626.3" cy="282.68" r="1.5" fill="#FF8C24"/>
<polyline points="494.05,331.5 499.8,329.6 505.55,327.69 511.3,326.06 517.05,324.43 522.8,323.07 528.55,320.48 534.3,316 540.05,315.04 545.8,310.96 557.3,310.96 568.8,312.19 580.3,313.82 591.8,312.87 626.3,311.51" fill="none" stroke="#1E2F6A" stroke-width="1.05" stroke-linejoin="round"/>
<circle cx="494.05" cy="331.5" r="1.5" fill="#0C1A44"/>
<circle cx="499.8" cy="329.6" r="1.5" fill="#0C1A44"/>
<circle cx="505.55" cy="327.69" r="1.5" fill="#0C1A44"/>
<circle cx="511.3" cy="326.06" r="1.5" fill="#0C1A44"/>
<circle cx="517.05" cy="324.43" r="1.5" fill="#0C1A44"/>
<circle cx="522.8" cy="323.07" r="1.5" fill="#0C1A44"/>
<circle cx="528.55" cy="320.48" r="1.5" fill="#0C1A44"/>
<circle cx="534.3" cy="316" r="1.5" fill="#0C1A44"/>
<circle cx="540.05" cy="315.04" r="1.5" fill="#0C1A44"/>
<circle cx="545.8" cy="310.96" r="1.5" fill="#0C1A44"/>
<circle cx="557.3" cy="310.96" r="1.5" fill="#0C1A44"/>
<circle cx="568.8" cy="312.19" r="1.5" fill="#0C1A44"/>
<circle cx="580.3" cy="313.82" r="1.5" fill="#0C1A44"/>
<circle cx="591.8" cy="312.87" r="1.5" fill="#0C1A44"/>
<circle cx="626.3" cy="311.51" r="1.5" fill="#0C1A44"/>
<polyline points="494.05,326.74 499.8,323.48 505.55,309.06 511.3,304.03 517.05,298.86 522.8,290.56 528.55,285.94 534.3,283.49 540.05,279 545.8,274.24 557.3,274.24 568.8,274.24 580.3,274.92 591.8,275.6 626.3,274.92" fill="none" stroke="#5C1C1C" stroke-width="1.05" stroke-linejoin="round"/>
<circle cx="494.05" cy="326.74" r="1.5" fill="#380808"/>
<circle cx="499.8" cy="323.48" r="1.5" fill="#380808"/>
<circle cx="505.55" cy="309.06" r="1.5" fill="#380808"/>
<circle cx="511.3" cy="304.03" r="1.5" fill="#380808"/>
<circle cx="517.05" cy="298.86" r="1.5" fill="#380808"/>
<circle cx="522.8" cy="290.56" r="1.5" fill="#380808"/>
<circle cx="528.55" cy="285.94" r="1.5" fill="#380808"/>
<circle cx="534.3" cy="283.49" r="1.5" fill="#380808"/>
<circle cx="540.05" cy="279" r="1.5" fill="#380808"/>
<circle cx="545.8" cy="274.24" r="1.5" fill="#380808"/>
<circle cx="557.3" cy="274.24" r="1.5" fill="#380808"/>
<circle cx="568.8" cy="274.24" r="1.5" fill="#380808"/>
<circle cx="580.3" cy="274.92" r="1.5" fill="#380808"/>
<circle cx="591.8" cy="275.6" r="1.5" fill="#380808"/>
<circle cx="626.3" cy="274.92" r="1.5" fill="#380808"/>
<line x1="637.4" y1="268.7" x2="646.1" y2="268.7" stroke="#4A6ACF" stroke-width="1"/>
<circle cx="641.75" cy="268.7" r="1.5" fill="#0E0E22"/>
<text transform="translate(646.9,271.05) scale(0.7100,1)" font-family='"Liberation Serif", serif' font-weight="normal" font-size="7" text-anchor="start" fill="#1a1a1a" stroke="#1a1a1a" stroke-width="0.18">0.5g NB</text>
<line x1="637.4" y1="277.91" x2="646.1" y2="277.91" stroke="#E0404A" stroke-width="1"/>
<circle cx="641.75" cy="277.91" r="1.5" fill="#E01818"/>
<text transform="translate(646.9,280.25) scale(0.7100,1)" font-family='"Liberation Serif", serif' font-weight="normal" font-size="7" text-anchor="start" fill="#1a1a1a" stroke="#1a1a1a" stroke-width="0.18">0.5g Na-B</text>
<line x1="637.4" y1="287.12" x2="646.1" y2="287.12" stroke="#A6E22E" stroke-width="1"/>
<circle cx="641.75" cy="287.12" r="1.5" fill="#A6E22E"/>
<text transform="translate(646.9,289.47) scale(0.7100,1)" font-family='"Liberation Serif", serif' font-weight="normal" font-size="7" text-anchor="start" fill="#1a1a1a" stroke="#1a1a1a" stroke-width="0.18">1g NB</text>
<line x1="637.4" y1="296.33" x2="646.1" y2="296.33" stroke="#5A30C8" stroke-width="1"/>
<circle cx="641.75" cy="296.33" r="1.5" fill="#6A20E0"/>
<text transform="translate(646.9,298.68) scale(0.7100,1)" font-family='"Liberation Serif", serif' font-weight="normal" font-size="7" text-anchor="start" fill="#1a1a1a" stroke="#1a1a1a" stroke-width="0.18">1g Na-B</text>
<line x1="637.4" y1="305.54" x2="646.1" y2="305.54" stroke="#40B8E0" stroke-width="1"/>
<circle cx="641.75" cy="305.54" r="1.5" fill="#10303A"/>
<text transform="translate(646.9,307.88) scale(0.7100,1)" font-family='"Liberation Serif", serif' font-weight="normal" font-size="7" text-anchor="start" fill="#1a1a1a" stroke="#1a1a1a" stroke-width="0.18">1.5g NB</text>
<line x1="637.4" y1="314.75" x2="646.1" y2="314.75" stroke="#FFA050" stroke-width="1"/>
<circle cx="641.75" cy="314.75" r="1.5" fill="#FF8C24"/>
<text transform="translate(646.9,317.1) scale(0.7100,1)" font-family='"Liberation Serif", serif' font-weight="normal" font-size="7" text-anchor="start" fill="#1a1a1a" stroke="#1a1a1a" stroke-width="0.18">1.5g Na-B</text>
<line x1="637.4" y1="323.96" x2="646.1" y2="323.96" stroke="#1E2F6A" stroke-width="1"/>
<circle cx="641.75" cy="323.96" r="1.5" fill="#0C1A44"/>
<text transform="translate(646.9,326.31) scale(0.7100,1)" font-family='"Liberation Serif", serif' font-weight="normal" font-size="7" text-anchor="start" fill="#1a1a1a" stroke="#1a1a1a" stroke-width="0.18">2g NB</text>
<line x1="637.4" y1="333.17" x2="646.1" y2="333.17" stroke="#6A2424" stroke-width="1"/>
<circle cx="641.75" cy="333.17" r="1.5" fill="#380808"/>
<text transform="translate(646.9,335.51) scale(0.7100,1)" font-family='"Liberation Serif", serif' font-weight="normal" font-size="7" text-anchor="start" fill="#1a1a1a" stroke="#1a1a1a" stroke-width="0.18">2g Na-B</text>
</svg></body></html>
